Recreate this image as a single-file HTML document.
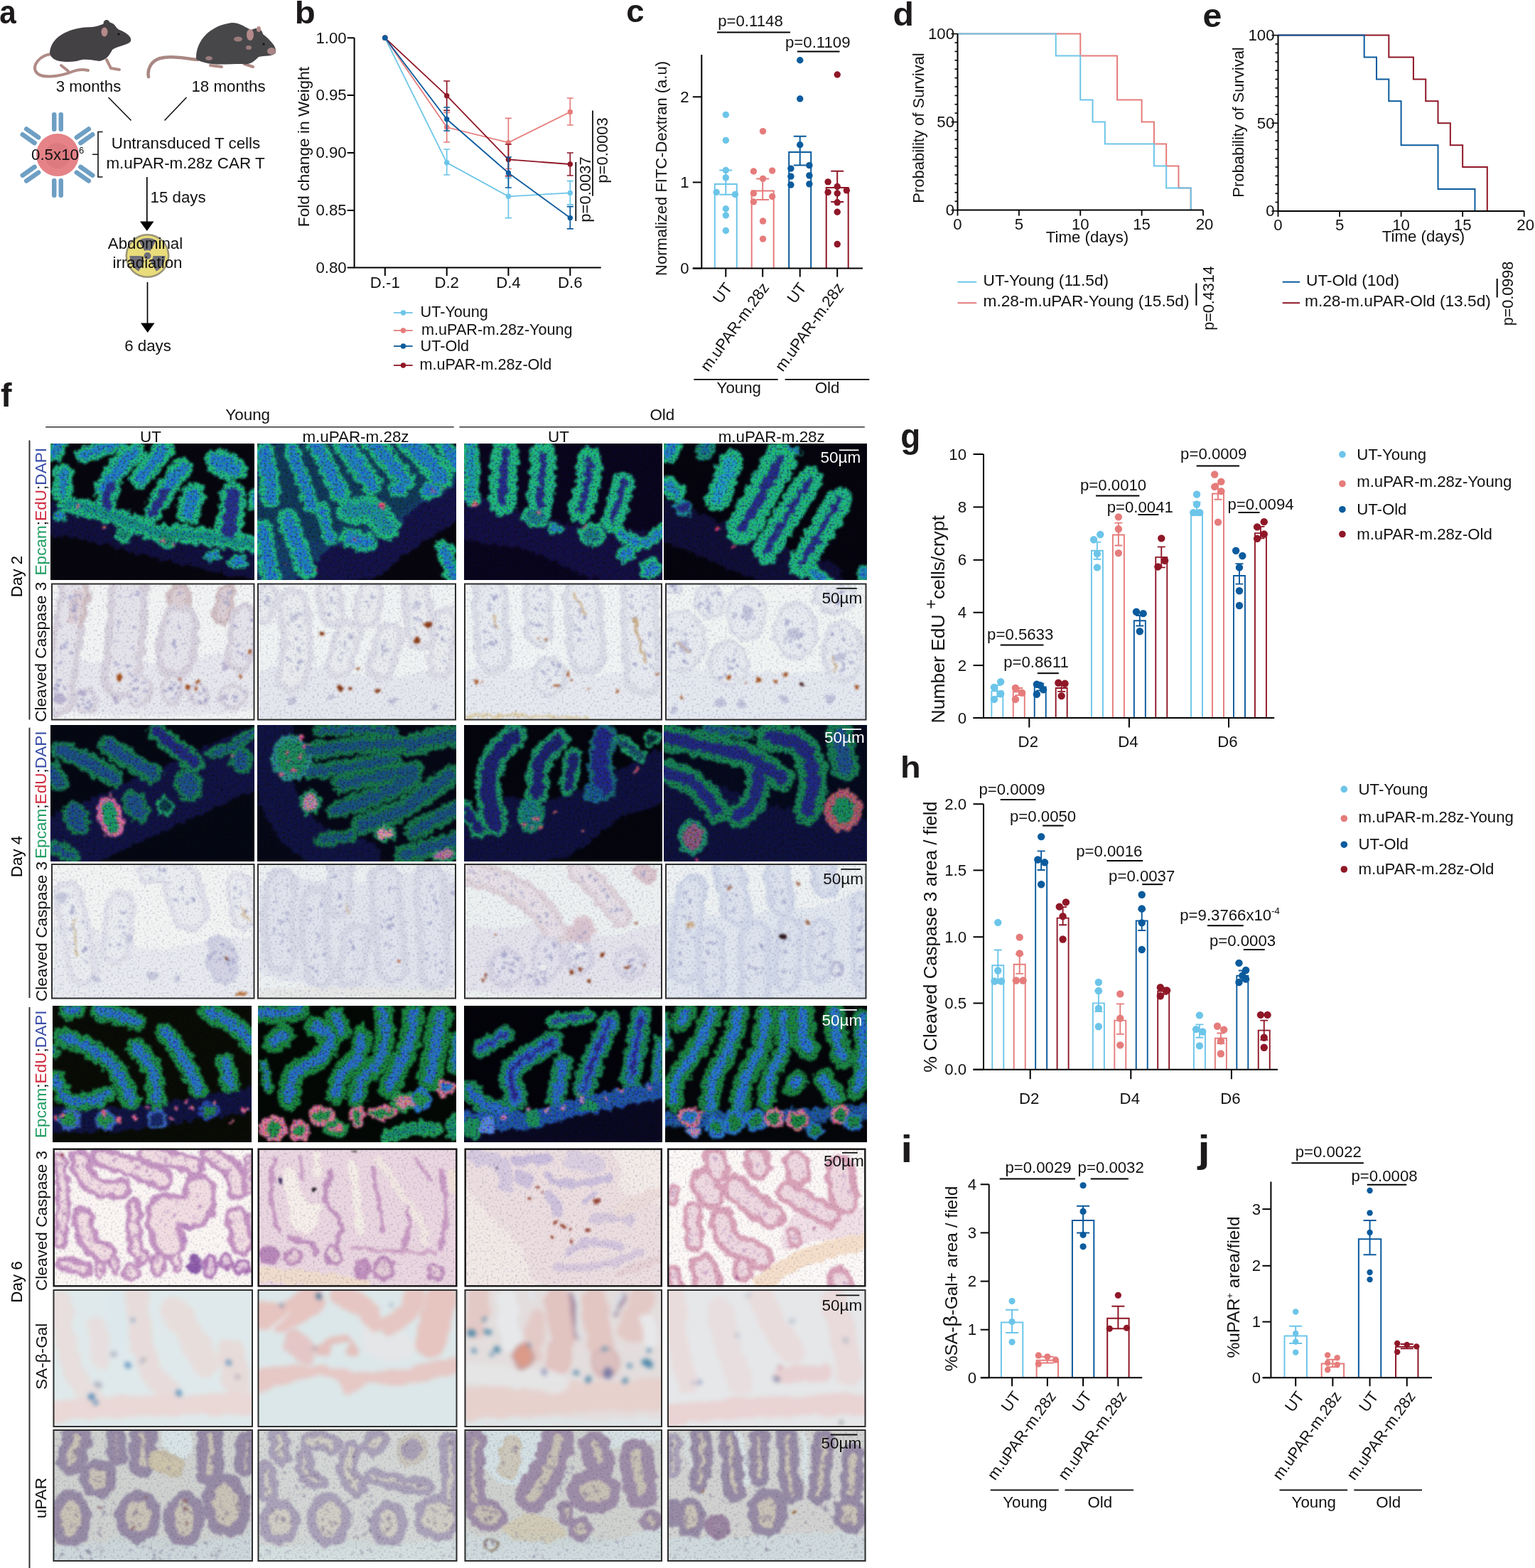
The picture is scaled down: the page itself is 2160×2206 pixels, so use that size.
<!DOCTYPE html>
<html lang="en"><head><meta charset="utf-8"><title>Figure</title>
<style>
html,body{margin:0;padding:0;background:#fff}
body{width:2160px;height:2206px;overflow:hidden}
svg{display:block;font-family:"Liberation Sans", sans-serif;font-size:22px;fill:#111}
svg text{white-space:pre}
</style></head><body>
<svg width="2160" height="2206" viewBox="0 0 2160 2206">
<defs>
<clipPath id="cp00"><rect x="0" y="0" width="287" height="192"/></clipPath>
<clipPath id="cp01"><rect x="0" y="0" width="280" height="192"/></clipPath>
<clipPath id="cp02"><rect x="0" y="0" width="279" height="192"/></clipPath>
<clipPath id="cp03"><rect x="0" y="0" width="286" height="192"/></clipPath>
<clipPath id="cp10"><rect x="0" y="0" width="286.5" height="193"/></clipPath>
<clipPath id="cp11"><rect x="0" y="0" width="280" height="193"/></clipPath>
<clipPath id="cp12"><rect x="0" y="0" width="279" height="193"/></clipPath>
<clipPath id="cp13"><rect x="0" y="0" width="283.5" height="193"/></clipPath>
<clipPath id="cp20"><rect x="0" y="0" width="287" height="192"/></clipPath>
<clipPath id="cp21"><rect x="0" y="0" width="280" height="192"/></clipPath>
<clipPath id="cp22"><rect x="0" y="0" width="279" height="192"/></clipPath>
<clipPath id="cp23"><rect x="0" y="0" width="286" height="192"/></clipPath>
<clipPath id="cp30"><rect x="0" y="0" width="286.5" height="190.5"/></clipPath>
<clipPath id="cp31"><rect x="0" y="0" width="280" height="190.5"/></clipPath>
<clipPath id="cp32"><rect x="0" y="0" width="279" height="190.5"/></clipPath>
<clipPath id="cp33"><rect x="0" y="0" width="283.5" height="190.5"/></clipPath>
<clipPath id="cp40"><rect x="0" y="0" width="280" height="192"/></clipPath>
<clipPath id="cp41"><rect x="0" y="0" width="279" height="192"/></clipPath>
<clipPath id="cp42"><rect x="0" y="0" width="279" height="192"/></clipPath>
<clipPath id="cp43"><rect x="0" y="0" width="284" height="192"/></clipPath>
<clipPath id="cp50"><rect x="0" y="0" width="281.5" height="195"/></clipPath>
<clipPath id="cp51"><rect x="0" y="0" width="281" height="195"/></clipPath>
<clipPath id="cp52"><rect x="0" y="0" width="278.5" height="195"/></clipPath>
<clipPath id="cp53"><rect x="0" y="0" width="279.5" height="195"/></clipPath>
<clipPath id="cp60"><rect x="0" y="0" width="281.5" height="194"/></clipPath>
<clipPath id="cp61"><rect x="0" y="0" width="281" height="194"/></clipPath>
<clipPath id="cp62"><rect x="0" y="0" width="278.5" height="194"/></clipPath>
<clipPath id="cp63"><rect x="0" y="0" width="279.5" height="194"/></clipPath>
<clipPath id="cp70"><rect x="0" y="0" width="281.5" height="186"/></clipPath>
<clipPath id="cp71"><rect x="0" y="0" width="281" height="186"/></clipPath>
<clipPath id="cp72"><rect x="0" y="0" width="278.5" height="186"/></clipPath>
<clipPath id="cp73"><rect x="0" y="0" width="279.5" height="186"/></clipPath>

<filter id="fIF" x="-5%" y="-5%" width="110%" height="110%" color-interpolation-filters="sRGB">
<feTurbulence type="fractalNoise" baseFrequency="0.11" numOctaves="2" seed="7" result="lf"/>
<feDisplacementMap in="SourceGraphic" in2="lf" scale="14" xChannelSelector="R" yChannelSelector="G" result="d"/>
<feGaussianBlur in="d" stdDeviation="1.5" result="b"/>
<feTurbulence type="fractalNoise" baseFrequency="0.3" numOctaves="2" seed="3" result="n"/>
<feColorMatrix in="n" type="matrix" values="1.4 0 0 0 0.25  0 1.5 0 0 0.2  0 0 1.5 0 0.2  0 0 0 0 1" result="ng"/>
<feComposite in="b" in2="ng" operator="arithmetic" k1="1" k2="0" k3="0" k4="0"/>
</filter>
<filter id="fIHC" x="-5%" y="-5%" width="110%" height="110%" color-interpolation-filters="sRGB">
<feTurbulence type="fractalNoise" baseFrequency="0.08" numOctaves="2" seed="5" result="lf"/>
<feDisplacementMap in="SourceGraphic" in2="lf" scale="12" xChannelSelector="R" yChannelSelector="G" result="d"/>
<feGaussianBlur in="d" stdDeviation="1.8" result="b"/>
<feTurbulence type="fractalNoise" baseFrequency="0.32" numOctaves="2" seed="9" result="n"/>
<feColorMatrix in="n" type="matrix" values="0.45 0 0 0 0.78  0.45 0 0 0 0.78  0.3 0 0 0 0.85  0 0 0 0 1" result="ng"/>
<feComposite in="b" in2="ng" operator="arithmetic" k1="1" k2="0" k3="0" k4="0"/>
</filter>
<filter id="fGAL" x="-5%" y="-5%" width="110%" height="110%" color-interpolation-filters="sRGB">
<feTurbulence type="fractalNoise" baseFrequency="0.05" numOctaves="2" seed="5" result="lf"/>
<feDisplacementMap in="SourceGraphic" in2="lf" scale="12" xChannelSelector="R" yChannelSelector="G" result="d"/>
<feGaussianBlur in="d" stdDeviation="3.2"/>
</filter>
<filter id="fSP" x="0" y="0" width="100%" height="100%" color-interpolation-filters="sRGB">
<feTurbulence type="fractalNoise" baseFrequency="0.33" numOctaves="2" seed="11" result="n"/>
<feColorMatrix in="n" type="matrix" values="0 0 0 0 0  0 0 0 0 0  0 0 0 0 0  0 3.2 0 0 -1.55" result="na"/>
<feComposite in="SourceGraphic" in2="na" operator="in"/>
</filter>

</defs>
<g transform="translate(71 624)" clip-path="url(#cp00)"><rect x="0" y="0" width="287" height="192" fill="#07060f"/><g filter="url(#fIF)"><g transform="scale(0.15074)" fill="none" stroke-linecap="round" stroke-linejoin="round"><rect x="-50" y="-50" width="2004" height="1373.76" fill="#07060f"/><path d="M0 700C67 710 250 727 400 760C550 793 733 858 900 900C1067 942 1233 973 1400 1010C1567 1047 1820 1102 1904 1120" stroke="#131244" stroke-width="300" opacity="0.95"/><path d="M40 80L90 -20" stroke="#22b587" stroke-width="170"/><path d="M300 110C330 100 423 70 480 50C537 30 613 0 640 -10" stroke="#22b587" stroke-width="150"/><path d="M500 420C523 387 592 277 640 220C688 163 765 103 790 80" stroke="#22b587" stroke-width="200"/><path d="M840 330C860 305 923 227 960 180C997 133 1043 72 1060 50" stroke="#22b587" stroke-width="200"/><path d="M1070 430L1230 230" stroke="#22b587" stroke-width="200"/><ellipse cx="1640" cy="200" rx="215" ry="130" fill="#22b587" stroke="none" transform="rotate(25 1640 200)"/><path d="M120 280L110 450" stroke="#22b587" stroke-width="190"/><path d="M530 650C528 628 513 562 520 520C527 478 562 420 570 400" stroke="#22b587" stroke-width="170"/><path d="M960 640L1060 460" stroke="#22b587" stroke-width="190"/><path d="M1290 640L1330 480" stroke="#22b587" stroke-width="230"/><path d="M1660 820C1665 790 1683 697 1690 640C1697 583 1698 507 1700 480" stroke="#22b587" stroke-width="250"/><path d="M1904 470L1900 560" stroke="#22b587" stroke-width="120"/><path d="M150 560C195 570 325 593 420 620C515 647 623 685 720 720C817 755 887 807 1000 830C1113 853 1249 842 1400 860C1551 878 1820 927 1904 940" stroke="#22b587" stroke-width="170"/><ellipse cx="690" cy="850" rx="80" ry="70" fill="#22b587" stroke="none"/><ellipse cx="1090" cy="900" rx="110" ry="80" fill="#22b587" stroke="none" transform="rotate(20 1090 900)"/><ellipse cx="1520" cy="1050" rx="80" ry="55" fill="#22b587" stroke="none"/><ellipse cx="1760" cy="1110" rx="100" ry="70" fill="#22b587" stroke="none"/><ellipse cx="90" cy="680" rx="70" ry="50" fill="#22b587" stroke="none"/><path d="M40 80L90 -20" stroke="#2382c6" stroke-width="80"/><path d="M300 110C330 100 423 70 480 50C537 30 613 0 640 -10" stroke="#2382c6" stroke-width="60"/><path d="M500 420C523 387 592 277 640 220C688 163 765 103 790 80" stroke="#2382c6" stroke-width="90"/><path d="M840 330C860 305 923 227 960 180C997 133 1043 72 1060 50" stroke="#2382c6" stroke-width="90"/><path d="M1070 430L1230 230" stroke="#2382c6" stroke-width="90"/><ellipse cx="1640" cy="200" rx="165" ry="80" fill="#2382c6" stroke="none" transform="rotate(25 1640 200)"/><path d="M120 280L110 450" stroke="#2382c6" stroke-width="80"/><path d="M530 650C528 628 513 562 520 520C527 478 562 420 570 400" stroke="#28348c" stroke-width="80"/><path d="M960 640L1060 460" stroke="#28348c" stroke-width="90"/><path d="M1290 640L1330 480" stroke="#2382c6" stroke-width="110"/><path d="M1660 820C1665 790 1683 697 1690 640C1697 583 1698 507 1700 480" stroke="#28348c" stroke-width="130"/><path d="M1904 470L1900 560" stroke="#2382c6" stroke-width="40"/><path d="M150 560C195 570 325 593 420 620C515 647 623 685 720 720C817 755 887 807 1000 830C1113 853 1249 842 1400 860C1551 878 1820 927 1904 940" stroke="#1a8f8a" stroke-width="70"/><ellipse cx="690" cy="850" rx="50" ry="40" fill="#1a8a70" stroke="none"/><ellipse cx="1090" cy="900" rx="80" ry="50" fill="#1a8a70" stroke="none" transform="rotate(20 1090 900)"/><ellipse cx="1520" cy="1050" rx="55" ry="30" fill="#2382c6" stroke="none"/><ellipse cx="1760" cy="1110" rx="70" ry="40" fill="#2382c6" stroke="none"/><ellipse cx="90" cy="680" rx="50" ry="30" fill="#2382c6" stroke="none"/><g fill="#e07a90" stroke="none"><circle cx="258" cy="590" r="16"/><circle cx="1040" cy="905" r="18"/><circle cx="1155" cy="940" r="18"/><circle cx="500" cy="790" r="14"/></g></g></g></g>
<g transform="translate(362 624)" clip-path="url(#cp01)"><rect x="0" y="0" width="280" height="192" fill="#07060f"/><g filter="url(#fIF)"><g transform="scale(0.14706)" fill="none" stroke-linecap="round" stroke-linejoin="round"><rect x="-50" y="-50" width="2004" height="1405.6" fill="#07060f"/><path d="M0 1303C-167 1244 -117 1014 0 950C117 886 483 962 700 920C917 878 1099 798 1300 700C1501 602 1803 327 1904 330C2005 333 1946 625 1904 720C1862 815 1751 828 1650 900C1549 972 1408 1083 1300 1150C1192 1217 1217 1278 1000 1303C783 1328 167 1362 0 1303Z" fill="#15144c" stroke="none"/><path d="M0 0C317 -217 1587 -63 1904 0C2221 63 1971 277 1904 380C1837 483 1617 533 1500 620C1383 707 1333 837 1200 900C1067 963 833 933 700 1000C567 1067 517 1252 400 1303C283 1354 67 1520 0 1303C-67 1086 -317 217 0 0Z" fill="#17507a" stroke="none" opacity="0.75"/><path d="M70 80C77 117 100 227 110 300C120 373 127 483 130 520" stroke="#22b587" stroke-width="190"/><path d="M330 60C347 105 398 240 430 330C462 420 505 555 520 600" stroke="#22b587" stroke-width="150"/><path d="M560 0C580 40 640 160 680 240C720 320 780 440 800 480" stroke="#22b587" stroke-width="180"/><path d="M820 0C843 33 913 133 960 200C1007 267 1077 367 1100 400" stroke="#22b587" stroke-width="200"/><path d="M1100 -20C1127 12 1207 107 1260 170C1313 233 1393 328 1420 360" stroke="#22b587" stroke-width="200"/><path d="M1450 -20C1478 8 1568 93 1620 150C1672 207 1737 292 1760 320" stroke="#22b587" stroke-width="230"/><path d="M1800 30L1904 200" stroke="#22b587" stroke-width="170"/><path d="M50 820C57 858 77 973 90 1050C103 1127 123 1242 130 1280" stroke="#22b587" stroke-width="190"/><path d="M290 720C305 760 350 880 380 960C410 1040 455 1160 470 1200" stroke="#22b587" stroke-width="200"/><path d="M620 620C627 647 647 733 660 780C673 827 693 880 700 900" stroke="#22b587" stroke-width="130"/><path d="M880 640C917 640 1040 613 1100 640C1160 667 1217 773 1240 800" stroke="#22b587" stroke-width="260"/><path d="M880 900L1050 950" stroke="#22b587" stroke-width="190"/><ellipse cx="1660" cy="450" rx="110" ry="90" fill="#22b587" stroke="none"/><ellipse cx="1350" cy="440" rx="100" ry="80" fill="#22b587" stroke="none"/><path d="M1790 1000C1800 1033 1832 1150 1850 1200C1868 1250 1892 1286 1900 1303" stroke="#22b587" stroke-width="170"/><path d="M70 80C77 117 100 227 110 300C120 373 127 483 130 520" stroke="#2382c6" stroke-width="110"/><path d="M330 60C347 105 398 240 430 330C462 420 505 555 520 600" stroke="#2382c6" stroke-width="80"/><path d="M560 0C580 40 640 160 680 240C720 320 780 440 800 480" stroke="#2382c6" stroke-width="100"/><path d="M820 0C843 33 913 133 960 200C1007 267 1077 367 1100 400" stroke="#2382c6" stroke-width="110"/><path d="M1100 -20C1127 12 1207 107 1260 170C1313 233 1393 328 1420 360" stroke="#2382c6" stroke-width="110"/><path d="M1450 -20C1478 8 1568 93 1620 150C1672 207 1737 292 1760 320" stroke="#2382c6" stroke-width="130"/><path d="M1800 30L1904 200" stroke="#2382c6" stroke-width="90"/><path d="M50 820C57 858 77 973 90 1050C103 1127 123 1242 130 1280" stroke="#2382c6" stroke-width="110"/><path d="M290 720C305 760 350 880 380 960C410 1040 455 1160 470 1200" stroke="#2382c6" stroke-width="110"/><path d="M620 620C627 647 647 733 660 780C673 827 693 880 700 900" stroke="#2382c6" stroke-width="60"/><path d="M880 640C917 640 1040 613 1100 640C1160 667 1217 773 1240 800" stroke="#2090a0" stroke-width="140"/><path d="M880 900L1050 950" stroke="#2382c6" stroke-width="100"/><ellipse cx="1660" cy="450" rx="80" ry="60" fill="#2382c6" stroke="none"/><ellipse cx="1350" cy="440" rx="70" ry="50" fill="#2382c6" stroke="none"/><path d="M1790 1000C1800 1033 1832 1150 1850 1200C1868 1250 1892 1286 1900 1303" stroke="#2382c6" stroke-width="80"/><g fill="#e8507a" stroke="none"><circle cx="1195" cy="600" r="22"/><circle cx="1690" cy="450" r="16"/><circle cx="1770" cy="430" r="14"/><circle cx="930" cy="910" r="14"/><circle cx="575" cy="1205" r="14"/><circle cx="260" cy="1135" r="12"/></g></g></g></g>
<g transform="translate(653 624)" clip-path="url(#cp02)"><rect x="0" y="0" width="279" height="192" fill="#0a0520"/><g filter="url(#fIF)"><g transform="scale(0.14653)" fill="none" stroke-linecap="round" stroke-linejoin="round"><rect x="-50" y="-50" width="2004" height="1410.28" fill="#0a0520"/><path d="M0 480C83 438 333 603 500 650C667 697 766 718 1000 760C1234 802 1753 808 1904 900C2055 992 2005 1243 1904 1312C1803 1381 1517 1361 1300 1312C1083 1263 817 1089 600 1020C383 951 100 990 0 900C-100 810 -83 522 0 480Z" fill="#151046" stroke="none"/><path d="M70 520C70 477 72 347 70 260C68 173 62 43 60 0" stroke="#22b587" stroke-width="170"/><path d="M370 560C372 517 375 382 380 300C385 218 397 108 400 70" stroke="#22b587" stroke-width="270"/><path d="M730 600C733 558 745 432 750 350C755 268 758 150 760 110" stroke="#22b587" stroke-width="250"/><path d="M1120 640C1130 600 1165 480 1180 400C1195 320 1205 200 1210 160" stroke="#22b587" stroke-width="250"/><path d="M1420 740C1432 707 1472 602 1490 540C1508 478 1523 398 1530 370" stroke="#22b587" stroke-width="220"/><path d="M1500 860C1533 877 1633 963 1700 960C1767 957 1870 860 1904 840" stroke="#22b587" stroke-width="140"/><ellipse cx="690" cy="700" rx="140" ry="110" fill="#22b587" stroke="none"/><ellipse cx="1230" cy="880" rx="130" ry="110" fill="#22b587" stroke="none"/><ellipse cx="880" cy="820" rx="70" ry="60" fill="#22b587" stroke="none"/><ellipse cx="1560" cy="1060" rx="90" ry="90" fill="#22b587" stroke="none"/><ellipse cx="1800" cy="1200" rx="110" ry="100" fill="#22b587" stroke="none"/><path d="M70 520C70 477 72 347 70 260C68 173 62 43 60 0" stroke="#1f9ab0" stroke-width="70"/><path d="M370 560C372 517 375 382 380 300C385 218 397 108 400 70" stroke="#27308a" stroke-width="70"/><path d="M730 600C733 558 745 432 750 350C755 268 758 150 760 110" stroke="#27308a" stroke-width="60"/><path d="M1120 640C1130 600 1165 480 1180 400C1195 320 1205 200 1210 160" stroke="#27308a" stroke-width="60"/><path d="M1420 740C1432 707 1472 602 1490 540C1508 478 1523 398 1530 370" stroke="#27308a" stroke-width="50"/><path d="M1500 860C1533 877 1633 963 1700 960C1767 957 1870 860 1904 840" stroke="#2382c6" stroke-width="50"/><ellipse cx="690" cy="700" rx="95" ry="65" fill="#1e7a8a" stroke="none"/><ellipse cx="1230" cy="880" rx="85" ry="65" fill="#1e7a8a" stroke="none"/><ellipse cx="880" cy="820" rx="45" ry="35" fill="#2382c6" stroke="none"/><ellipse cx="1560" cy="1060" rx="55" ry="55" fill="#2382c6" stroke="none"/><ellipse cx="1800" cy="1200" rx="70" ry="60" fill="#2382c6" stroke="none"/><g fill="#e8708a" stroke="none"><circle cx="105" cy="580" r="25"/><circle cx="720" cy="665" r="22"/><circle cx="1150" cy="790" r="14"/></g></g></g></g>
<g transform="translate(934 624)" clip-path="url(#cp03)"><rect x="0" y="0" width="286" height="192" fill="#05040f"/><g filter="url(#fIF)"><g transform="scale(0.15021)" fill="none" stroke-linecap="round" stroke-linejoin="round"><rect x="-50" y="-50" width="2004" height="1378.21" fill="#05040f"/><path d="M0 720C100 760 400 880 600 960C800 1040 1050 1143 1200 1200C1350 1257 1450 1283 1500 1300" stroke="#12103e" stroke-width="380" opacity="0.95"/><path d="M40 90L90 0" stroke="#22b587" stroke-width="190"/><path d="M380 70L420 0" stroke="#1a8a78" stroke-width="170"/><path d="M500 520C512 488 548 388 570 330C592 272 620 197 630 170" stroke="#22b587" stroke-width="230"/><path d="M740 790C772 733 872 557 930 450C988 343 1063 200 1090 150" stroke="#22b587" stroke-width="310"/><path d="M960 1000C997 940 1112 750 1180 640C1248 530 1338 390 1370 340" stroke="#22b587" stroke-width="250"/><path d="M1290 1130C1322 1075 1422 900 1480 800C1538 700 1613 575 1640 530" stroke="#22b587" stroke-width="250"/><path d="M30 380L120 460" stroke="#22b587" stroke-width="170"/><ellipse cx="180" cy="600" rx="90" ry="80" fill="#1e8a9a" stroke="none"/><ellipse cx="1220" cy="60" rx="80" ry="28" fill="#22b587" stroke="none" transform="rotate(30 1220 60)"/><path d="M1400 1210L1520 1300" stroke="#22b587" stroke-width="150"/><ellipse cx="1880" cy="1220" rx="70" ry="90" fill="#22b587" stroke="none"/><path d="M40 90L90 0" stroke="#2382c6" stroke-width="90"/><path d="M380 70L420 0" stroke="#1a6a98" stroke-width="70"/><path d="M500 520C512 488 548 388 570 330C592 272 620 197 630 170" stroke="#22a0c0" stroke-width="110"/><path d="M740 790C772 733 872 557 930 450C988 343 1063 200 1090 150" stroke="#27308a" stroke-width="80"/><path d="M960 1000C997 940 1112 750 1180 640C1248 530 1338 390 1370 340" stroke="#27308a" stroke-width="60"/><path d="M1290 1130C1322 1075 1422 900 1480 800C1538 700 1613 575 1640 530" stroke="#27308a" stroke-width="60"/><path d="M30 380L120 460" stroke="#2382c6" stroke-width="70"/><ellipse cx="180" cy="600" rx="60" ry="50" fill="#27308a" stroke="none"/><ellipse cx="1220" cy="60" rx="70" ry="18" fill="#2382c6" stroke="none" transform="rotate(30 1220 60)"/><path d="M1400 1210L1520 1300" stroke="#2382c6" stroke-width="60"/><ellipse cx="1880" cy="1220" rx="40" ry="60" fill="#2382c6" stroke="none"/><g fill="#e8507a" stroke="none"><circle cx="500" cy="810" r="20"/><circle cx="655" cy="960" r="20"/></g></g></g></g>
<g transform="translate(72 820.5)" clip-path="url(#cp10)"><rect x="0" y="0" width="286.5" height="193" fill="#f2f4f4"/><g filter="url(#fIHC)"><g transform="scale(0.15047)" fill="none" stroke-linecap="round" stroke-linejoin="round"><rect x="-50" y="-50" width="2004" height="1382.62" fill="#f2f4f4"/><path d="M0 700C100 630 383 760 600 760C817 760 1083 718 1300 700C1517 682 1803 570 1904 650C2005 730 2221 1092 1904 1180C1587 1268 317 1260 0 1180C-317 1100 -100 770 0 700Z" fill="#e7e7ee" stroke="none"/><path d="M220 90C210 142 178 285 160 400C142 515 125 663 110 780C95 897 77 1047 70 1100" stroke="#d6d1dc" stroke-width="300"/><path d="M250 100L200 330" stroke="#d0bfc2" stroke-width="220"/><path d="M720 60C717 130 712 340 700 480C688 620 658 830 650 900" stroke="#d6d1dc" stroke-width="380"/><path d="M1200 90L1190 170" stroke="#d0bfc2" stroke-width="230"/><path d="M1200 380L1160 700" stroke="#d6d1dc" stroke-width="380"/><path d="M1640 80L1600 300" stroke="#d0bfc2" stroke-width="190"/><path d="M1810 320L1760 700" stroke="#d6d1dc" stroke-width="280"/><ellipse cx="820" cy="1000" rx="130" ry="160" fill="#d6d1dc" stroke="none"/><ellipse cx="1130" cy="1000" rx="110" ry="150" fill="#d6d1dc" stroke="none"/><ellipse cx="1370" cy="1040" rx="110" ry="110" fill="#d6d1dc" stroke="none"/><ellipse cx="330" cy="1100" rx="120" ry="120" fill="#d6d1dc" stroke="none"/><ellipse cx="1700" cy="1060" rx="140" ry="130" fill="#d6d1dc" stroke="none"/><path d="M220 90C210 142 178 285 160 400C142 515 125 663 110 780C95 897 77 1047 70 1100" stroke="#e5e3ea" stroke-width="180"/><path d="M250 100L200 330" stroke="#dccfd4" stroke-width="100"/><path d="M720 60C717 130 712 340 700 480C688 620 658 830 650 900" stroke="#e5e3ea" stroke-width="240"/><path d="M1200 90L1190 170" stroke="#dccfd4" stroke-width="110"/><path d="M1200 380L1160 700" stroke="#e5e3ea" stroke-width="240"/><path d="M1640 80L1600 300" stroke="#dccfd4" stroke-width="90"/><path d="M1810 320L1760 700" stroke="#e5e3ea" stroke-width="160"/><ellipse cx="820" cy="1000" rx="90" ry="120" fill="#e5e3ea" stroke="none"/><ellipse cx="1130" cy="1000" rx="70" ry="110" fill="#e5e3ea" stroke="none"/><ellipse cx="1370" cy="1040" rx="70" ry="70" fill="#e5e3ea" stroke="none"/><ellipse cx="330" cy="1100" rx="80" ry="80" fill="#e5e3ea" stroke="none"/><ellipse cx="1700" cy="1060" rx="100" ry="90" fill="#e5e3ea" stroke="none"/><g fill="#9a9cc6" stroke="none" opacity="0.8"><circle cx="209" cy="178" r="14"/><circle cx="214" cy="121" r="16"/><circle cx="183" cy="264" r="15"/><circle cx="226" cy="236" r="16"/><circle cx="152" cy="131" r="16"/><circle cx="185" cy="259" r="10"/><circle cx="169" cy="136" r="15"/><circle cx="183" cy="644" r="15"/><circle cx="55" cy="769" r="14"/><circle cx="149" cy="571" r="11"/><circle cx="88" cy="406" r="13"/><circle cx="143" cy="548" r="17"/><circle cx="86" cy="744" r="15"/><circle cx="111" cy="597" r="15"/><circle cx="194" cy="661" r="13"/><circle cx="61" cy="964" r="16"/><circle cx="91" cy="1032" r="13"/><circle cx="40" cy="1025" r="12"/><circle cx="77" cy="905" r="13"/><circle cx="30" cy="987" r="13"/><circle cx="132" cy="971" r="15"/><circle cx="66" cy="1002" r="12"/><circle cx="266" cy="125" r="12"/><circle cx="205" cy="275" r="16"/><circle cx="223" cy="318" r="11"/><circle cx="220" cy="268" r="16"/><circle cx="250" cy="208" r="16"/><circle cx="645" cy="370" r="15"/><circle cx="625" cy="456" r="10"/><circle cx="811" cy="97" r="15"/><circle cx="668" cy="267" r="10"/><circle cx="640" cy="130" r="14"/><circle cx="793" cy="128" r="15"/><circle cx="781" cy="416" r="17"/><circle cx="740" cy="112" r="14"/><circle cx="628" cy="398" r="10"/><circle cx="760" cy="595" r="10"/><circle cx="738" cy="770" r="13"/><circle cx="610" cy="759" r="14"/><circle cx="635" cy="767" r="11"/><circle cx="597" cy="563" r="12"/><circle cx="744" cy="872" r="12"/><circle cx="720" cy="769" r="17"/><circle cx="593" cy="734" r="14"/><circle cx="731" cy="848" r="12"/><circle cx="1208" cy="111" r="11"/><circle cx="1198" cy="101" r="16"/><circle cx="1145" cy="582" r="16"/><circle cx="1163" cy="564" r="14"/><circle cx="1246" cy="557" r="10"/><circle cx="1172" cy="653" r="15"/><circle cx="1198" cy="397" r="16"/><circle cx="1106" cy="372" r="12"/><circle cx="1154" cy="542" r="14"/><circle cx="1595" cy="144" r="12"/><circle cx="1676" cy="87" r="17"/><circle cx="1642" cy="135" r="14"/><circle cx="1631" cy="196" r="15"/><circle cx="1646" cy="212" r="15"/><circle cx="1743" cy="582" r="15"/><circle cx="1868" cy="337" r="16"/><circle cx="1732" cy="404" r="17"/><circle cx="1740" cy="643" r="10"/><circle cx="1781" cy="643" r="16"/><circle cx="1822" cy="681" r="12"/><circle cx="1840" cy="430" r="16"/><circle cx="1766" cy="579" r="15"/><circle cx="806" cy="993" r="14"/><circle cx="788" cy="920" r="15"/><circle cx="805" cy="1077" r="15"/><circle cx="735" cy="1049" r="12"/><circle cx="772" cy="993" r="16"/><circle cx="864" cy="925" r="15"/><circle cx="758" cy="952" r="12"/><circle cx="864" cy="1029" r="17"/><circle cx="877" cy="1032" r="11"/><circle cx="892" cy="1015" r="15"/><circle cx="1128" cy="1072" r="14"/><circle cx="1068" cy="1007" r="15"/><circle cx="1141" cy="930" r="16"/><circle cx="1193" cy="985" r="12"/><circle cx="1158" cy="1073" r="15"/><circle cx="1208" cy="990" r="13"/><circle cx="1179" cy="1038" r="14"/><circle cx="1117" cy="972" r="14"/><circle cx="1122" cy="988" r="10"/><circle cx="1316" cy="1060" r="15"/><circle cx="1406" cy="1111" r="11"/><circle cx="1397" cy="1036" r="14"/><circle cx="1388" cy="1022" r="12"/><circle cx="1426" cy="1007" r="15"/><circle cx="1435" cy="1080" r="13"/><circle cx="1391" cy="1107" r="13"/><circle cx="358" cy="1028" r="10"/><circle cx="330" cy="1163" r="11"/><circle cx="361" cy="1152" r="16"/><circle cx="341" cy="1121" r="15"/><circle cx="297" cy="1126" r="14"/><circle cx="392" cy="1096" r="13"/><circle cx="253" cy="1132" r="15"/><circle cx="302" cy="1085" r="15"/><circle cx="1736" cy="1095" r="11"/><circle cx="1706" cy="1084" r="11"/><circle cx="1705" cy="1045" r="13"/><circle cx="1717" cy="1064" r="12"/><circle cx="1650" cy="1136" r="12"/><circle cx="1786" cy="1005" r="13"/><circle cx="1609" cy="1077" r="16"/><circle cx="1735" cy="1059" r="12"/><circle cx="1642" cy="1039" r="12"/></g><g fill="#b9b2cf" stroke="none"><circle cx="80" cy="1080" r="55"/><circle cx="280" cy="1020" r="40"/><circle cx="1610" cy="780" r="30"/><circle cx="600" cy="1090" r="30"/><circle cx="1620" cy="1080" r="30"/></g><g fill="#a4501e" stroke="none"><circle cx="635" cy="875" r="30"/><circle cx="1280" cy="970" r="18"/><circle cx="1375" cy="930" r="16"/><circle cx="1355" cy="985" r="14"/><circle cx="1770" cy="865" r="20"/><circle cx="1850" cy="650" r="20"/><circle cx="1200" cy="895" r="12"/></g></g></g></g>
<rect x="73" y="821.5" width="284.5" height="191" fill="none" stroke="#2e2e2e" stroke-width="2"/>
<g transform="translate(362 820.5)" clip-path="url(#cp11)"><rect x="0" y="0" width="280" height="193" fill="#f0f3f3"/><g filter="url(#fIHC)"><g transform="scale(0.14706)" fill="none" stroke-linecap="round" stroke-linejoin="round"><rect x="-50" y="-50" width="2004" height="1412.4" fill="#f0f3f3"/><path d="M0 850C100 767 383 812 600 820C817 828 1083 903 1300 900C1517 897 1803 730 1904 800C2005 870 2221 1233 1904 1320C1587 1407 317 1398 0 1320C-317 1242 -100 933 0 850Z" fill="#e5e7ee" stroke="none"/><path d="M100 80L60 300" stroke="#dcdce6" stroke-width="200"/><path d="M340 200C347 267 382 483 380 600C378 717 338 850 330 900" stroke="#dcdce6" stroke-width="330"/><path d="M680 60L720 300" stroke="#dcdce6" stroke-width="260"/><path d="M1080 100L1050 300" stroke="#dcdce6" stroke-width="280"/><path d="M880 480L780 780" stroke="#dcdce6" stroke-width="280"/><path d="M1260 500L1180 800" stroke="#dcdce6" stroke-width="280"/><path d="M1520 80L1560 500" stroke="#dcdce6" stroke-width="300"/><path d="M1800 350L1750 800" stroke="#dcdce6" stroke-width="260"/><path d="M100 80L60 300" stroke="#e9ebee" stroke-width="100"/><path d="M340 200C347 267 382 483 380 600C378 717 338 850 330 900" stroke="#e9ebee" stroke-width="190"/><path d="M680 60L720 300" stroke="#e9ebee" stroke-width="140"/><path d="M1080 100L1050 300" stroke="#e9ebee" stroke-width="160"/><path d="M880 480L780 780" stroke="#e9ebee" stroke-width="160"/><path d="M1260 500L1180 800" stroke="#e9ebee" stroke-width="160"/><path d="M1520 80L1560 500" stroke="#e9ebee" stroke-width="160"/><path d="M1800 350L1750 800" stroke="#e9ebee" stroke-width="140"/><g fill="#9a9cc6" stroke="none" opacity="0.8"><circle cx="89" cy="142" r="14"/><circle cx="74" cy="180" r="13"/><circle cx="104" cy="198" r="11"/><circle cx="67" cy="132" r="10"/><circle cx="92" cy="159" r="14"/><circle cx="301" cy="379" r="16"/><circle cx="410" cy="423" r="16"/><circle cx="380" cy="542" r="15"/><circle cx="304" cy="561" r="11"/><circle cx="301" cy="292" r="12"/><circle cx="423" cy="303" r="15"/><circle cx="402" cy="290" r="14"/><circle cx="298" cy="238" r="10"/><circle cx="437" cy="583" r="11"/><circle cx="315" cy="732" r="13"/><circle cx="385" cy="819" r="16"/><circle cx="384" cy="663" r="15"/><circle cx="430" cy="729" r="15"/><circle cx="390" cy="629" r="12"/><circle cx="413" cy="756" r="16"/><circle cx="332" cy="843" r="12"/><circle cx="723" cy="148" r="13"/><circle cx="671" cy="182" r="10"/><circle cx="671" cy="292" r="14"/><circle cx="749" cy="184" r="11"/><circle cx="727" cy="63" r="15"/><circle cx="665" cy="111" r="15"/><circle cx="1044" cy="179" r="14"/><circle cx="1049" cy="222" r="14"/><circle cx="1010" cy="121" r="11"/><circle cx="1111" cy="132" r="16"/><circle cx="986" cy="286" r="11"/><circle cx="809" cy="584" r="11"/><circle cx="830" cy="601" r="12"/><circle cx="853" cy="571" r="11"/><circle cx="794" cy="749" r="11"/><circle cx="848" cy="634" r="14"/><circle cx="890" cy="506" r="10"/><circle cx="822" cy="659" r="15"/><circle cx="1207" cy="689" r="14"/><circle cx="1231" cy="595" r="13"/><circle cx="1235" cy="639" r="10"/><circle cx="1234" cy="558" r="11"/><circle cx="1190" cy="600" r="13"/><circle cx="1220" cy="738" r="10"/><circle cx="1191" cy="624" r="13"/><circle cx="1486" cy="236" r="12"/><circle cx="1527" cy="475" r="11"/><circle cx="1526" cy="350" r="14"/><circle cx="1562" cy="366" r="15"/><circle cx="1506" cy="335" r="15"/><circle cx="1540" cy="334" r="11"/><circle cx="1525" cy="119" r="13"/><circle cx="1535" cy="236" r="16"/><circle cx="1502" cy="447" r="11"/><circle cx="1748" cy="441" r="16"/><circle cx="1757" cy="440" r="10"/><circle cx="1765" cy="524" r="13"/><circle cx="1791" cy="738" r="11"/><circle cx="1805" cy="550" r="15"/><circle cx="1811" cy="664" r="11"/><circle cx="1743" cy="372" r="12"/><circle cx="1815" cy="432" r="13"/><circle cx="1768" cy="419" r="13"/><circle cx="1729" cy="498" r="14"/></g><g fill="#c3c3d8" stroke="none"><circle cx="350" cy="330" r="40"/><circle cx="1520" cy="200" r="35"/><circle cx="900" cy="500" r="30"/><circle cx="1230" cy="650" r="30"/><circle cx="330" cy="1130" r="40"/><circle cx="1300" cy="1130" r="35"/><circle cx="1700" cy="1180" r="35"/><circle cx="700" cy="1100" r="30"/></g><g fill="#8a3c1a" stroke="none"><circle cx="625" cy="475" r="28"/><circle cx="1630" cy="400" r="24"/><circle cx="1530" cy="540" r="30"/><circle cx="945" cy="815" r="14"/><circle cx="800" cy="1010" r="26"/><circle cx="885" cy="1025" r="18"/><circle cx="1155" cy="1025" r="20"/></g></g></g></g>
<rect x="363" y="821.5" width="278" height="191" fill="none" stroke="#2e2e2e" stroke-width="2"/>
<g transform="translate(653 820.5)" clip-path="url(#cp12)"><rect x="0" y="0" width="279" height="193" fill="#f1f4f4"/><g filter="url(#fIHC)"><g transform="scale(0.14653)" fill="none" stroke-linecap="round" stroke-linejoin="round"><rect x="-50" y="-50" width="2004" height="1417.1" fill="#f1f4f4"/><path d="M0 850C100 768 383 825 600 830C817 835 1083 882 1300 880C1517 878 1803 747 1904 820C2005 893 2221 1237 1904 1320C1587 1403 317 1398 0 1320C-317 1242 -100 932 0 850Z" fill="#e6e9ef" stroke="none"/><path d="M0 1278C67 1277 250 1268 400 1270C550 1272 767 1285 900 1290C1033 1295 1150 1298 1200 1300" stroke="#d9cba4" stroke-width="32" opacity="0.9"/><path d="M250 120C252 167 255 303 260 400C265 497 277 650 280 700" stroke="#dadde6" stroke-width="360"/><path d="M700 60C702 100 707 230 710 300C713 370 718 450 720 480" stroke="#dadde6" stroke-width="290"/><path d="M1130 100C1135 150 1152 300 1160 400C1168 500 1177 650 1180 700" stroke="#dadde6" stroke-width="380"/><path d="M1680 100C1683 167 1693 367 1700 500C1707 633 1717 833 1720 900" stroke="#dadde6" stroke-width="380"/><ellipse cx="820" cy="900" rx="170" ry="200" fill="#dadde6" stroke="none"/><path d="M250 120C252 167 255 303 260 400C265 497 277 650 280 700" stroke="#e7eaef" stroke-width="220"/><path d="M700 60C702 100 707 230 710 300C713 370 718 450 720 480" stroke="#e7eaef" stroke-width="170"/><path d="M1130 100C1135 150 1152 300 1160 400C1168 500 1177 650 1180 700" stroke="#e7eaef" stroke-width="240"/><path d="M1680 100C1683 167 1693 367 1700 500C1707 633 1717 833 1720 900" stroke="#e7eaef" stroke-width="240"/><ellipse cx="820" cy="900" rx="120" ry="150" fill="#e7eaef" stroke="none"/><g fill="#9a9cc6" stroke="none" opacity="0.8"><circle cx="266" cy="218" r="13"/><circle cx="251" cy="216" r="13"/><circle cx="265" cy="131" r="10"/><circle cx="295" cy="147" r="17"/><circle cx="246" cy="255" r="16"/><circle cx="247" cy="372" r="11"/><circle cx="296" cy="555" r="17"/><circle cx="284" cy="408" r="15"/><circle cx="261" cy="581" r="15"/><circle cx="202" cy="476" r="16"/><circle cx="291" cy="409" r="12"/><circle cx="260" cy="516" r="12"/><circle cx="203" cy="599" r="16"/><circle cx="749" cy="261" r="15"/><circle cx="693" cy="246" r="15"/><circle cx="664" cy="130" r="11"/><circle cx="740" cy="192" r="14"/><circle cx="727" cy="69" r="15"/><circle cx="670" cy="124" r="15"/><circle cx="698" cy="410" r="11"/><circle cx="649" cy="391" r="17"/><circle cx="724" cy="400" r="17"/><circle cx="672" cy="401" r="10"/><circle cx="1075" cy="186" r="14"/><circle cx="1166" cy="333" r="16"/><circle cx="1178" cy="105" r="14"/><circle cx="1111" cy="259" r="13"/><circle cx="1091" cy="318" r="12"/><circle cx="1182" cy="102" r="12"/><circle cx="1068" cy="407" r="15"/><circle cx="1079" cy="459" r="11"/><circle cx="1105" cy="445" r="12"/><circle cx="1215" cy="515" r="10"/><circle cx="1250" cy="431" r="10"/><circle cx="1225" cy="408" r="13"/><circle cx="1113" cy="551" r="15"/><circle cx="1158" cy="559" r="10"/><circle cx="1614" cy="133" r="16"/><circle cx="1613" cy="239" r="16"/><circle cx="1773" cy="189" r="11"/><circle cx="1772" cy="131" r="14"/><circle cx="1605" cy="200" r="14"/><circle cx="1638" cy="323" r="14"/><circle cx="1784" cy="492" r="13"/><circle cx="1600" cy="327" r="13"/><circle cx="1727" cy="240" r="16"/><circle cx="1782" cy="692" r="17"/><circle cx="1710" cy="546" r="15"/><circle cx="1730" cy="829" r="14"/><circle cx="1803" cy="801" r="15"/><circle cx="1718" cy="813" r="11"/><circle cx="1645" cy="601" r="11"/><circle cx="1781" cy="505" r="13"/><circle cx="1754" cy="682" r="14"/><circle cx="1630" cy="782" r="17"/><circle cx="854" cy="1001" r="10"/><circle cx="814" cy="982" r="10"/><circle cx="846" cy="769" r="15"/><circle cx="758" cy="848" r="15"/><circle cx="765" cy="865" r="15"/><circle cx="899" cy="831" r="10"/><circle cx="888" cy="868" r="12"/><circle cx="893" cy="874" r="12"/><circle cx="913" cy="989" r="16"/><circle cx="818" cy="833" r="12"/><circle cx="899" cy="795" r="14"/><circle cx="815" cy="947" r="11"/></g><path d="M290 310L310 420" stroke="#cdb48e" stroke-width="22" opacity="0.9"/><path d="M1060 90C1072 115 1110 203 1130 240C1150 277 1172 298 1180 310" stroke="#c9ae86" stroke-width="20" opacity="0.9"/><path d="M1630 340C1638 377 1660 490 1680 560C1700 630 1738 727 1750 760" stroke="#c4a274" stroke-width="26" opacity="0.9"/><g fill="#a4501e" stroke="none"><circle cx="110" cy="945" r="26"/><circle cx="180" cy="950" r="12"/><circle cx="1000" cy="870" r="16"/><circle cx="1035" cy="930" r="18"/><circle cx="890" cy="990" r="16"/><circle cx="1200" cy="1015" r="16"/><circle cx="1470" cy="1040" r="18"/><circle cx="1860" cy="870" r="14"/><circle cx="720" cy="520" r="12"/><circle cx="800" cy="535" r="12"/></g></g></g></g>
<rect x="654" y="821.5" width="277" height="191" fill="none" stroke="#2e2e2e" stroke-width="2"/>
<g transform="translate(936 820.5)" clip-path="url(#cp13)"><rect x="0" y="0" width="283.5" height="193" fill="#f1f4f3"/><g filter="url(#fIHC)"><g transform="scale(0.14890)" fill="none" stroke-linecap="round" stroke-linejoin="round"><rect x="-50" y="-50" width="2004" height="1396.2" fill="#f1f4f3"/><path d="M0 880C83 798 283 825 500 820C717 815 1066 857 1300 850C1534 843 1803 703 1904 780C2005 857 2221 1222 1904 1310C1587 1398 317 1382 0 1310C-317 1238 -83 962 0 880Z" fill="#e4e8ef" stroke="none"/><ellipse cx="420" cy="170" rx="150" ry="175" fill="#dadde6" stroke="none"/><ellipse cx="770" cy="280" rx="200" ry="265" fill="#dadde6" stroke="none"/><ellipse cx="1230" cy="450" rx="220" ry="280" fill="#dadde6" stroke="none"/><ellipse cx="150" cy="550" rx="250" ry="300" fill="#dadde6" stroke="none"/><ellipse cx="600" cy="760" rx="200" ry="220" fill="#dadde6" stroke="none"/><ellipse cx="1680" cy="650" rx="200" ry="300" fill="#dadde6" stroke="none"/><ellipse cx="1600" cy="120" rx="210" ry="170" fill="#dadde6" stroke="none"/><ellipse cx="70" cy="40" rx="110" ry="70" fill="#dadde6" stroke="none"/><ellipse cx="420" cy="170" rx="115" ry="140" fill="#e7eaef" stroke="none"/><ellipse cx="770" cy="280" rx="160" ry="225" fill="#e7eaef" stroke="none"/><ellipse cx="1230" cy="450" rx="180" ry="240" fill="#e7eaef" stroke="none"/><ellipse cx="150" cy="550" rx="210" ry="260" fill="#e7eaef" stroke="none"/><ellipse cx="600" cy="760" rx="160" ry="180" fill="#e7eaef" stroke="none"/><ellipse cx="1680" cy="650" rx="160" ry="260" fill="#e7eaef" stroke="none"/><ellipse cx="1600" cy="120" rx="170" ry="130" fill="#e7eaef" stroke="none"/><ellipse cx="70" cy="40" rx="80" ry="40" fill="#e7eaef" stroke="none"/><g fill="#9a9cc6" stroke="none" opacity="0.8"><circle cx="408" cy="243" r="14"/><circle cx="350" cy="190" r="13"/><circle cx="386" cy="165" r="11"/><circle cx="417" cy="276" r="10"/><circle cx="386" cy="222" r="14"/><circle cx="330" cy="217" r="16"/><circle cx="388" cy="153" r="16"/><circle cx="457" cy="115" r="15"/><circle cx="501" cy="87" r="11"/><circle cx="439" cy="277" r="12"/><circle cx="417" cy="193" r="15"/><circle cx="773" cy="336" r="14"/><circle cx="875" cy="362" r="10"/><circle cx="807" cy="271" r="11"/><circle cx="654" cy="317" r="13"/><circle cx="757" cy="214" r="16"/><circle cx="791" cy="373" r="15"/><circle cx="748" cy="303" r="15"/><circle cx="832" cy="332" r="12"/><circle cx="732" cy="283" r="16"/><circle cx="805" cy="168" r="12"/><circle cx="730" cy="327" r="13"/><circle cx="653" cy="291" r="10"/><circle cx="895" cy="206" r="14"/><circle cx="740" cy="268" r="11"/><circle cx="803" cy="293" r="15"/><circle cx="1269" cy="596" r="15"/><circle cx="1127" cy="527" r="14"/><circle cx="1152" cy="358" r="14"/><circle cx="1322" cy="623" r="11"/><circle cx="1267" cy="503" r="16"/><circle cx="1392" cy="421" r="11"/><circle cx="1133" cy="560" r="11"/><circle cx="1142" cy="519" r="12"/><circle cx="1203" cy="559" r="11"/><circle cx="1300" cy="379" r="11"/><circle cx="1156" cy="453" r="14"/><circle cx="1298" cy="489" r="10"/><circle cx="1154" cy="384" r="15"/><circle cx="1165" cy="360" r="14"/><circle cx="1189" cy="562" r="13"/><circle cx="1152" cy="480" r="10"/><circle cx="186" cy="685" r="11"/><circle cx="42" cy="686" r="13"/><circle cx="162" cy="457" r="10"/><circle cx="11" cy="612" r="13"/><circle cx="45" cy="703" r="12"/><circle cx="280" cy="480" r="11"/><circle cx="65" cy="431" r="14"/><circle cx="114" cy="452" r="15"/><circle cx="26" cy="444" r="15"/><circle cx="61" cy="469" r="11"/><circle cx="237" cy="620" r="13"/><circle cx="77" cy="641" r="16"/><circle cx="261" cy="395" r="11"/><circle cx="189" cy="742" r="16"/><circle cx="190" cy="726" r="10"/><circle cx="51" cy="646" r="13"/><circle cx="186" cy="493" r="11"/><circle cx="86" cy="582" r="15"/><circle cx="587" cy="725" r="11"/><circle cx="734" cy="820" r="12"/><circle cx="626" cy="817" r="13"/><circle cx="660" cy="863" r="13"/><circle cx="520" cy="893" r="14"/><circle cx="582" cy="695" r="13"/><circle cx="637" cy="739" r="17"/><circle cx="595" cy="783" r="13"/><circle cx="651" cy="667" r="13"/><circle cx="687" cy="779" r="17"/><circle cx="659" cy="633" r="10"/><circle cx="628" cy="818" r="15"/><circle cx="545" cy="732" r="10"/><circle cx="565" cy="868" r="14"/><circle cx="1767" cy="583" r="15"/><circle cx="1741" cy="651" r="11"/><circle cx="1651" cy="826" r="14"/><circle cx="1674" cy="446" r="13"/><circle cx="1661" cy="668" r="14"/><circle cx="1584" cy="483" r="12"/><circle cx="1676" cy="875" r="10"/><circle cx="1675" cy="802" r="17"/><circle cx="1681" cy="763" r="15"/><circle cx="1696" cy="679" r="12"/><circle cx="1679" cy="521" r="16"/><circle cx="1673" cy="826" r="14"/><circle cx="1797" cy="633" r="14"/><circle cx="1688" cy="764" r="10"/><circle cx="1761" cy="744" r="17"/><circle cx="1626" cy="623" r="15"/><circle cx="1651" cy="2" r="16"/><circle cx="1655" cy="158" r="11"/><circle cx="1622" cy="114" r="11"/><circle cx="1534" cy="115" r="16"/><circle cx="1664" cy="174" r="16"/><circle cx="1545" cy="161" r="15"/><circle cx="1676" cy="81" r="15"/><circle cx="1544" cy="89" r="12"/><circle cx="1631" cy="212" r="16"/><circle cx="1617" cy="36" r="12"/><circle cx="1624" cy="117" r="14"/><circle cx="1643" cy="185" r="16"/><circle cx="112" cy="20" r="17"/><circle cx="23" cy="47" r="10"/><circle cx="99" cy="62" r="15"/><circle cx="80" cy="16" r="16"/><circle cx="112" cy="55" r="12"/><circle cx="88" cy="60" r="15"/></g><g fill="#c1c3da" stroke="none"><circle cx="780" cy="270" r="60"/><circle cx="1210" cy="470" r="60"/><circle cx="170" cy="590" r="60"/><circle cx="1650" cy="700" r="50"/><circle cx="520" cy="1130" r="45"/><circle cx="720" cy="1150" r="45"/><circle cx="1120" cy="1090" r="45"/><circle cx="1560" cy="1100" r="45"/><circle cx="80" cy="1200" r="40"/></g><path d="M100 560L230 640" stroke="#c2a58a" stroke-width="24" opacity="0.8"/><path d="M1600 700L1590 830" stroke="#c9ae86" stroke-width="18" opacity="0.9"/><g fill="#a4501e" stroke="none"><circle cx="600" cy="895" r="20"/><circle cx="885" cy="905" r="26"/><circle cx="1050" cy="930" r="22"/><circle cx="1135" cy="880" r="18"/><circle cx="1815" cy="965" r="26"/><circle cx="155" cy="1080" r="16"/><circle cx="780" cy="955" r="10"/></g><g fill="#3a1418" stroke="none"><circle cx="1290" cy="955" r="18"/></g></g></g></g>
<rect x="937" y="821.5" width="281.5" height="191" fill="none" stroke="#2e2e2e" stroke-width="2"/>
<g transform="translate(71 1020)" clip-path="url(#cp20)"><rect x="0" y="0" width="287" height="192" fill="#050814"/><g filter="url(#fIF)"><g transform="scale(0.15074)" fill="none" stroke-linecap="round" stroke-linejoin="round"><rect x="-50" y="-50" width="2004" height="1373.76" fill="#050814"/><path d="M0 1150C100 1108 400 988 600 900C800 812 983 720 1200 620C1417 520 1787 353 1904 300" stroke="#13154a" stroke-width="560" opacity="0.95"/><path d="M100 230C142 250 267 305 350 350C433 395 558 475 600 500" stroke="#187a56" stroke-width="190"/><path d="M540 190C575 213 682 287 750 330C818 373 917 430 950 450" stroke="#187a56" stroke-width="190"/><path d="M1000 70C1025 92 1092 153 1150 200C1208 247 1317 325 1350 350" stroke="#198058" stroke-width="190"/><path d="M0 420L80 540" stroke="#187a56" stroke-width="190"/><path d="M1500 270C1533 258 1633 235 1700 200C1767 165 1870 83 1904 60" stroke="#187a56" stroke-width="110"/><ellipse cx="240" cy="870" rx="120" ry="170" fill="#187a56" stroke="none" transform="rotate(-20 240 870)"/><ellipse cx="560" cy="860" rx="115" ry="200" fill="#d873a4" stroke="none" transform="rotate(-15 560 860)"/><ellipse cx="800" cy="760" rx="110" ry="170" fill="#187a56" stroke="none" transform="rotate(-30 800 760)"/><ellipse cx="1070" cy="760" rx="80" ry="95" fill="#1f9a6c" stroke="none"/><ellipse cx="1290" cy="560" rx="130" ry="160" fill="#187a56" stroke="none" transform="rotate(-30 1290 560)"/><ellipse cx="1780" cy="330" rx="110" ry="130" fill="#187a56" stroke="none"/><path d="M60 1150L200 1230" stroke="#187a56" stroke-width="160"/><path d="M100 230C142 250 267 305 350 350C433 395 558 475 600 500" stroke="#1e528a" stroke-width="90"/><path d="M540 190C575 213 682 287 750 330C818 373 917 430 950 450" stroke="#1e528a" stroke-width="90"/><path d="M1000 70C1025 92 1092 153 1150 200C1208 247 1317 325 1350 350" stroke="#222b80" stroke-width="100"/><path d="M0 420L80 540" stroke="#1e528a" stroke-width="90"/><path d="M1500 270C1533 258 1633 235 1700 200C1767 165 1870 83 1904 60" stroke="#1e528a" stroke-width="30"/><ellipse cx="240" cy="870" rx="80" ry="130" fill="#1e528a" stroke="none" transform="rotate(-20 240 870)"/><ellipse cx="560" cy="860" rx="70" ry="155" fill="#1f9a6c" stroke="none" transform="rotate(-15 560 860)"/><ellipse cx="800" cy="760" rx="70" ry="130" fill="#1e528a" stroke="none" transform="rotate(-30 800 760)"/><ellipse cx="1070" cy="760" rx="50" ry="65" fill="#0c3a4a" stroke="none"/><ellipse cx="1290" cy="560" rx="85" ry="115" fill="#1e528a" stroke="none" transform="rotate(-30 1290 560)"/><ellipse cx="1780" cy="330" rx="70" ry="90" fill="#1e528a" stroke="none"/><path d="M60 1150L200 1230" stroke="#1e528a" stroke-width="60"/><g fill="#e07a9a" stroke="none"><circle cx="1700" cy="290" r="18"/><circle cx="570" cy="640" r="16"/></g></g></g></g>
<g transform="translate(362 1020)" clip-path="url(#cp21)"><rect x="0" y="0" width="280" height="192" fill="#060818"/><g filter="url(#fIF)"><g transform="scale(0.14706)" fill="none" stroke-linecap="round" stroke-linejoin="round"><rect x="-50" y="-50" width="2004" height="1405.6" fill="#060818"/><path d="M150 60C158 167 142 527 200 700C258 873 367 1003 500 1100C633 1197 917 1250 1000 1280" stroke="#121548" stroke-width="360" opacity="0.95"/><path d="M600 60C667 57 883 38 1000 40C1117 42 1250 65 1300 70" stroke="#187650" stroke-width="120"/><path d="M500 250C567 242 758 212 900 200C1042 188 1275 183 1350 180" stroke="#187650" stroke-width="170"/><path d="M500 450C567 442 767 422 900 400C1033 378 1233 333 1300 320" stroke="#187650" stroke-width="160"/><path d="M800 570C867 555 1083 503 1200 480C1317 457 1450 438 1500 430" stroke="#187650" stroke-width="180"/><path d="M750 810C808 792 975 752 1100 700C1225 648 1433 533 1500 500" stroke="#187650" stroke-width="190"/><path d="M1000 960C1067 933 1258 880 1400 800C1542 720 1775 533 1850 480" stroke="#187650" stroke-width="210"/><path d="M1450 200C1492 188 1624 147 1700 130C1776 113 1870 105 1904 100" stroke="#187650" stroke-width="220"/><path d="M1500 1010L1904 800" stroke="#187650" stroke-width="190"/><path d="M620 1100L900 1060" stroke="#187650" stroke-width="140"/><path d="M1400 1250L1904 1100" stroke="#187650" stroke-width="190"/><ellipse cx="330" cy="310" rx="200" ry="220" fill="#2a8a88" stroke="none"/><ellipse cx="510" cy="740" rx="110" ry="120" fill="#1d8a60" stroke="none"/><ellipse cx="1230" cy="1040" rx="110" ry="80" fill="#1d8a60" stroke="none"/><ellipse cx="1800" cy="1240" rx="120" ry="80" fill="#1d8a60" stroke="none"/><path d="M600 60C667 57 883 38 1000 40C1117 42 1250 65 1300 70" stroke="#1a547e" stroke-width="50"/><path d="M500 250C567 242 758 212 900 200C1042 188 1275 183 1350 180" stroke="#1a547e" stroke-width="80"/><path d="M500 450C567 442 767 422 900 400C1033 378 1233 333 1300 320" stroke="#1a547e" stroke-width="70"/><path d="M800 570C867 555 1083 503 1200 480C1317 457 1450 438 1500 430" stroke="#1a547e" stroke-width="80"/><path d="M750 810C808 792 975 752 1100 700C1225 648 1433 533 1500 500" stroke="#1a547e" stroke-width="90"/><path d="M1000 960C1067 933 1258 880 1400 800C1542 720 1775 533 1850 480" stroke="#1a547e" stroke-width="100"/><path d="M1450 200C1492 188 1624 147 1700 130C1776 113 1870 105 1904 100" stroke="#1a547e" stroke-width="100"/><path d="M1500 1010L1904 800" stroke="#1a547e" stroke-width="90"/><path d="M620 1100L900 1060" stroke="#1a547e" stroke-width="60"/><path d="M1400 1250L1904 1100" stroke="#1a547e" stroke-width="90"/><ellipse cx="330" cy="310" rx="140" ry="160" fill="#1d8a60" stroke="none"/><ellipse cx="510" cy="740" rx="70" ry="80" fill="#b88aa8" stroke="none"/><ellipse cx="1230" cy="1040" rx="80" ry="50" fill="#d49ab0" stroke="none"/><ellipse cx="1800" cy="1240" rx="90" ry="50" fill="#b07aa0" stroke="none"/><g fill="#d8608a" stroke="none"><circle cx="420" cy="120" r="26"/><circle cx="470" cy="200" r="26"/><circle cx="280" cy="250" r="22"/><circle cx="400" cy="300" r="22"/><circle cx="350" cy="440" r="22"/><circle cx="220" cy="470" r="20"/><circle cx="300" cy="340" r="16"/></g></g></g></g>
<g transform="translate(653 1020)" clip-path="url(#cp22)"><rect x="0" y="0" width="279" height="192" fill="#04050e"/><g filter="url(#fIF)"><g transform="scale(0.14653)" fill="none" stroke-linecap="round" stroke-linejoin="round"><rect x="-50" y="-50" width="2004" height="1410.28" fill="#04050e"/><path d="M0 900C67 797 250 733 400 700C550 667 733 737 900 700C1067 663 1233 555 1400 480C1567 405 1820 210 1904 250C1988 290 1971 612 1904 720C1837 828 1651 812 1500 900C1349 988 1167 1180 1000 1250C833 1320 667 1308 500 1320C333 1332 83 1390 0 1320C-83 1250 -67 1003 0 900Z" fill="#101242" stroke="none"/><path d="M480 110C450 142 342 218 300 300C258 382 230 492 230 600C230 708 288 892 300 950" stroke="#1d9068" stroke-width="250"/><path d="M900 150C872 183 763 267 730 350C697 433 705 600 700 650" stroke="#1d9068" stroke-width="220"/><path d="M1050 300L1000 600" stroke="#1d9068" stroke-width="170"/><path d="M1350 100C1342 142 1300 267 1300 350C1300 433 1342 558 1350 600" stroke="#1a6a7a" stroke-width="240"/><path d="M1500 150L1700 300" stroke="#1f9a6c" stroke-width="120"/><ellipse cx="1800" cy="130" rx="85" ry="75" fill="#1f9a6c" stroke="none"/><path d="M0 800L150 1000" stroke="#1d9068" stroke-width="180"/><ellipse cx="640" cy="860" rx="130" ry="180" fill="#1a8a6a" stroke="none"/><ellipse cx="1250" cy="650" rx="110" ry="100" fill="#1a6a8a" stroke="none"/><path d="M480 110C450 142 342 218 300 300C258 382 230 492 230 600C230 708 288 892 300 950" stroke="#1e2472" stroke-width="140"/><path d="M900 150C872 183 763 267 730 350C697 433 705 600 700 650" stroke="#1e2472" stroke-width="110"/><path d="M1050 300L1000 600" stroke="#1e2472" stroke-width="80"/><path d="M1350 100C1342 142 1300 267 1300 350C1300 433 1342 558 1350 600" stroke="#232a88" stroke-width="160"/><path d="M1500 150L1700 300" stroke="#1a4a6a" stroke-width="50"/><ellipse cx="1800" cy="130" rx="55" ry="45" fill="#0a2a3a" stroke="none"/><path d="M0 800L150 1000" stroke="#1e2472" stroke-width="80"/><ellipse cx="640" cy="860" rx="90" ry="140" fill="#1a7a80" stroke="none"/><ellipse cx="1250" cy="650" rx="75" ry="65" fill="#1a5a90" stroke="none"/><g fill="#e0707a" stroke="none"><circle cx="690" cy="895" r="22"/><circle cx="570" cy="965" r="20"/><circle cx="650" cy="970" r="18"/><circle cx="730" cy="985" r="22"/><circle cx="875" cy="835" r="22"/><circle cx="1140" cy="1020" r="18"/><circle cx="1660" cy="425" r="22"/></g></g></g></g>
<g transform="translate(934 1020)" clip-path="url(#cp23)"><rect x="0" y="0" width="286" height="192" fill="#050a1e"/><g filter="url(#fIF)"><g transform="scale(0.15021)" fill="none" stroke-linecap="round" stroke-linejoin="round"><rect x="-50" y="-50" width="2004" height="1378.21" fill="#050a1e"/><path d="M0 400C100 283 400 533 600 600C800 667 983 750 1200 800C1417 850 1787 817 1904 900C2021 983 2221 1233 1904 1300C1587 1367 317 1450 0 1300C-317 1150 -100 517 0 400Z" fill="#0f1240" stroke="none"/><path d="M0 110C67 125 267 168 400 200C533 232 683 250 800 300C917 350 1050 467 1100 500" stroke="#198058" stroke-width="250"/><path d="M400 40L800 80" stroke="#187a56" stroke-width="110"/><path d="M0 430C50 452 217 498 300 560C383 622 467 760 500 800" stroke="#198058" stroke-width="240"/><path d="M900 400C892 450 883 625 850 700C817 775 725 825 700 850" stroke="#198058" stroke-width="240"/><path d="M1000 110C1050 125 1233 135 1300 200C1367 265 1392 400 1400 500C1408 600 1358 750 1350 800" stroke="#198058" stroke-width="270"/><path d="M1650 100L1700 400" stroke="#187a56" stroke-width="270"/><ellipse cx="1680" cy="800" rx="180" ry="200" fill="#b05e70" stroke="none"/><ellipse cx="270" cy="1050" rx="140" ry="170" fill="#1f8a6c" stroke="none"/><path d="M0 110C67 125 267 168 400 200C533 232 683 250 800 300C917 350 1050 467 1100 500" stroke="#222b80" stroke-width="110"/><path d="M400 40L800 80" stroke="#1e528a" stroke-width="40"/><path d="M0 430C50 452 217 498 300 560C383 622 467 760 500 800" stroke="#222b80" stroke-width="100"/><path d="M900 400C892 450 883 625 850 700C817 775 725 825 700 850" stroke="#222b80" stroke-width="110"/><path d="M1000 110C1050 125 1233 135 1300 200C1367 265 1392 400 1400 500C1408 600 1358 750 1350 800" stroke="#222b80" stroke-width="120"/><path d="M1650 100L1700 400" stroke="#1e528a" stroke-width="130"/><ellipse cx="1680" cy="800" rx="105" ry="125" fill="#1a8a60" stroke="none"/><ellipse cx="270" cy="1050" rx="90" ry="120" fill="#8a5a80" stroke="none"/><g fill="#e0507a" stroke="none"><circle cx="310" cy="1260" r="18"/></g></g></g></g>
<g transform="translate(72 1215)" clip-path="url(#cp30)"><rect x="0" y="0" width="286.5" height="190.5" fill="#f2f4f3"/><g filter="url(#fIHC)"><g transform="scale(0.15047)" fill="none" stroke-linecap="round" stroke-linejoin="round"><rect x="-50" y="-50" width="2004" height="1366.01" fill="#f2f4f3"/><path d="M0 600C83 495 333 617 500 650C667 683 766 792 1000 800C1234 808 1753 620 1904 700C2055 780 2221 1183 1904 1280C1587 1377 317 1393 0 1280C-317 1167 -83 705 0 600Z" fill="#e8eaef" stroke="none"/><path d="M150 300C167 367 225 583 250 700C275 817 292 950 300 1000" stroke="#dfe0e9" stroke-width="300"/><path d="M650 400L600 800" stroke="#dfe0e9" stroke-width="300"/><path d="M1200 150L1300 450" stroke="#dfe0e9" stroke-width="380"/><path d="M900 100L1100 60" stroke="#dfe0e9" stroke-width="200"/><path d="M1750 200L1800 500" stroke="#dfe0e9" stroke-width="250"/><ellipse cx="1600" cy="900" rx="150" ry="235" fill="#cfcfe2" stroke="none" transform="rotate(-10 1600 900)"/><path d="M150 300C167 367 225 583 250 700C275 817 292 950 300 1000" stroke="#eaecf0" stroke-width="180"/><path d="M650 400L600 800" stroke="#eaecf0" stroke-width="180"/><path d="M1200 150L1300 450" stroke="#eaecf0" stroke-width="260"/><path d="M900 100L1100 60" stroke="#eaecf0" stroke-width="100"/><path d="M1750 200L1800 500" stroke="#eaecf0" stroke-width="150"/><ellipse cx="1600" cy="900" rx="110" ry="195" fill="#d3d3e4" stroke="none" transform="rotate(-10 1600 900)"/><g fill="#9a9cc6" stroke="none" opacity="0.8"><circle cx="93" cy="353" r="11"/><circle cx="174" cy="608" r="15"/><circle cx="202" cy="415" r="15"/><circle cx="223" cy="692" r="14"/><circle cx="203" cy="452" r="15"/><circle cx="188" cy="473" r="14"/><circle cx="281" cy="536" r="11"/><circle cx="210" cy="585" r="16"/><circle cx="195" cy="311" r="13"/><circle cx="333" cy="917" r="15"/><circle cx="300" cy="818" r="16"/><circle cx="191" cy="743" r="12"/><circle cx="312" cy="801" r="13"/><circle cx="334" cy="946" r="14"/><circle cx="302" cy="827" r="11"/><circle cx="298" cy="907" r="13"/><circle cx="679" cy="648" r="16"/><circle cx="642" cy="761" r="16"/><circle cx="645" cy="683" r="12"/><circle cx="659" cy="435" r="13"/><circle cx="628" cy="595" r="14"/><circle cx="685" cy="455" r="14"/><circle cx="675" cy="595" r="12"/><circle cx="556" cy="786" r="15"/><circle cx="644" cy="544" r="15"/><circle cx="1227" cy="328" r="10"/><circle cx="1333" cy="343" r="12"/><circle cx="1160" cy="340" r="13"/><circle cx="1325" cy="324" r="16"/><circle cx="1216" cy="227" r="15"/><circle cx="1281" cy="356" r="14"/><circle cx="1100" cy="187" r="14"/><circle cx="1015" cy="56" r="13"/><circle cx="1027" cy="67" r="11"/><circle cx="945" cy="123" r="11"/><circle cx="1006" cy="97" r="11"/><circle cx="1061" cy="66" r="16"/><circle cx="1770" cy="260" r="12"/><circle cx="1773" cy="280" r="13"/><circle cx="1724" cy="326" r="12"/><circle cx="1722" cy="222" r="13"/><circle cx="1720" cy="213" r="15"/><circle cx="1743" cy="403" r="12"/><circle cx="1809" cy="449" r="16"/><circle cx="1669" cy="899" r="13"/><circle cx="1592" cy="767" r="13"/><circle cx="1643" cy="938" r="15"/><circle cx="1655" cy="908" r="16"/><circle cx="1591" cy="838" r="11"/><circle cx="1532" cy="849" r="12"/><circle cx="1489" cy="883" r="14"/><circle cx="1580" cy="891" r="13"/><circle cx="1708" cy="924" r="13"/><circle cx="1534" cy="824" r="10"/><circle cx="1636" cy="783" r="10"/><circle cx="1685" cy="820" r="17"/><circle cx="1687" cy="990" r="15"/></g><g fill="#c6c8dc" stroke="none"><circle cx="100" cy="320" r="50"/><circle cx="950" cy="1050" r="45"/><circle cx="420" cy="1080" r="40"/><circle cx="750" cy="700" r="40"/><circle cx="1180" cy="1080" r="35"/></g><path d="M215 520C217 550 221 645 225 700C229 755 238 825 240 850" stroke="#cdbb90" stroke-width="16" opacity="0.9"/><path d="M1770 400L1850 560" stroke="#cdb48e" stroke-width="12" opacity="0.8"/><path d="M1720 1222L1840 1214" stroke="#b4682e" stroke-width="22"/><g fill="#6a3010" stroke="none"><circle cx="1645" cy="890" r="16"/></g></g></g></g>
<rect x="73" y="1216" width="284.5" height="188.5" fill="none" stroke="#2e2e2e" stroke-width="2"/>
<g transform="translate(362 1215)" clip-path="url(#cp31)"><rect x="0" y="0" width="280" height="190.5" fill="#ecf0f1"/><g filter="url(#fIHC)"><g transform="scale(0.14706)" fill="none" stroke-linecap="round" stroke-linejoin="round"><rect x="-50" y="-50" width="2004" height="1395.4" fill="#ecf0f1"/><path d="M0 250C67 108 250 158 400 150C550 142 733 208 900 200C1067 192 1233 108 1400 100C1567 92 1820 -25 1904 150C1988 325 2055 975 1904 1150C1753 1325 1317 1225 1000 1200C683 1175 167 1158 0 1000C-167 842 -67 392 0 250Z" fill="#e2e4ed" stroke="none"/><path d="M230 200C225 258 200 433 200 550C200 667 225 842 230 900" stroke="#d6d8e5" stroke-width="330"/><path d="M560 350C557 408 533 583 540 700C547 817 590 992 600 1050" stroke="#d6d8e5" stroke-width="300"/><path d="M800 60L780 400" stroke="#d6d8e5" stroke-width="260"/><path d="M950 700L900 1050" stroke="#d6d8e5" stroke-width="300"/><path d="M1220 150C1225 225 1237 458 1250 600C1263 742 1292 933 1300 1000" stroke="#d6d8e5" stroke-width="330"/><path d="M1650 150C1655 225 1672 450 1680 600C1688 750 1697 975 1700 1050" stroke="#d6d8e5" stroke-width="330"/><path d="M1880 250L1904 600" stroke="#d6d8e5" stroke-width="120"/><path d="M230 200C225 258 200 433 200 550C200 667 225 842 230 900" stroke="#e0e2ec" stroke-width="190"/><path d="M560 350C557 408 533 583 540 700C547 817 590 992 600 1050" stroke="#e0e2ec" stroke-width="160"/><path d="M800 60L780 400" stroke="#e0e2ec" stroke-width="140"/><path d="M950 700L900 1050" stroke="#e0e2ec" stroke-width="160"/><path d="M1220 150C1225 225 1237 458 1250 600C1263 742 1292 933 1300 1000" stroke="#e0e2ec" stroke-width="190"/><path d="M1650 150C1655 225 1672 450 1680 600C1688 750 1697 975 1700 1050" stroke="#e0e2ec" stroke-width="190"/><path d="M1880 250L1904 600" stroke="#e0e2ec" stroke-width="40"/><g fill="#9a9cc6" stroke="none" opacity="0.8"><circle cx="195" cy="365" r="13"/><circle cx="279" cy="529" r="17"/><circle cx="161" cy="442" r="15"/><circle cx="173" cy="266" r="14"/><circle cx="168" cy="247" r="13"/><circle cx="275" cy="458" r="15"/><circle cx="299" cy="208" r="11"/><circle cx="214" cy="215" r="11"/><circle cx="156" cy="623" r="15"/><circle cx="257" cy="685" r="15"/><circle cx="239" cy="740" r="12"/><circle cx="213" cy="677" r="11"/><circle cx="206" cy="550" r="11"/><circle cx="237" cy="567" r="15"/><circle cx="300" cy="834" r="15"/><circle cx="152" cy="661" r="16"/><circle cx="535" cy="453" r="14"/><circle cx="493" cy="429" r="14"/><circle cx="588" cy="685" r="12"/><circle cx="568" cy="674" r="12"/><circle cx="511" cy="443" r="12"/><circle cx="610" cy="397" r="16"/><circle cx="603" cy="372" r="12"/><circle cx="504" cy="544" r="17"/><circle cx="545" cy="870" r="12"/><circle cx="632" cy="870" r="15"/><circle cx="549" cy="891" r="16"/><circle cx="526" cy="999" r="15"/><circle cx="569" cy="734" r="14"/><circle cx="562" cy="742" r="13"/><circle cx="559" cy="746" r="15"/><circle cx="575" cy="1029" r="14"/><circle cx="740" cy="115" r="15"/><circle cx="789" cy="295" r="14"/><circle cx="822" cy="90" r="10"/><circle cx="796" cy="397" r="14"/><circle cx="788" cy="316" r="17"/><circle cx="782" cy="394" r="10"/><circle cx="783" cy="326" r="10"/><circle cx="773" cy="306" r="17"/><circle cx="932" cy="911" r="11"/><circle cx="910" cy="752" r="16"/><circle cx="924" cy="821" r="11"/><circle cx="987" cy="706" r="11"/><circle cx="964" cy="995" r="11"/><circle cx="874" cy="840" r="12"/><circle cx="900" cy="804" r="13"/><circle cx="903" cy="1019" r="12"/><circle cx="1229" cy="554" r="13"/><circle cx="1272" cy="521" r="11"/><circle cx="1264" cy="241" r="15"/><circle cx="1297" cy="512" r="10"/><circle cx="1304" cy="229" r="14"/><circle cx="1208" cy="301" r="11"/><circle cx="1199" cy="448" r="12"/><circle cx="1284" cy="586" r="17"/><circle cx="1185" cy="596" r="13"/><circle cx="1176" cy="519" r="12"/><circle cx="1312" cy="903" r="12"/><circle cx="1261" cy="961" r="15"/><circle cx="1267" cy="627" r="10"/><circle cx="1267" cy="805" r="13"/><circle cx="1282" cy="784" r="10"/><circle cx="1232" cy="760" r="13"/><circle cx="1297" cy="598" r="11"/><circle cx="1269" cy="607" r="11"/><circle cx="1234" cy="781" r="17"/><circle cx="1723" cy="394" r="16"/><circle cx="1633" cy="569" r="11"/><circle cx="1706" cy="383" r="14"/><circle cx="1645" cy="560" r="13"/><circle cx="1724" cy="463" r="13"/><circle cx="1721" cy="171" r="10"/><circle cx="1698" cy="343" r="15"/><circle cx="1656" cy="233" r="14"/><circle cx="1690" cy="294" r="12"/><circle cx="1608" cy="435" r="13"/><circle cx="1759" cy="1039" r="15"/><circle cx="1656" cy="872" r="10"/><circle cx="1761" cy="645" r="11"/><circle cx="1619" cy="863" r="13"/><circle cx="1773" cy="942" r="10"/><circle cx="1649" cy="769" r="11"/><circle cx="1619" cy="910" r="14"/><circle cx="1702" cy="963" r="16"/><circle cx="1635" cy="1002" r="13"/><circle cx="1712" cy="879" r="11"/><circle cx="1905" cy="574" r="11"/><circle cx="1871" cy="276" r="12"/><circle cx="1880" cy="261" r="13"/><circle cx="1897" cy="418" r="13"/><circle cx="1895" cy="424" r="11"/><circle cx="1880" cy="265" r="13"/><circle cx="1897" cy="270" r="12"/><circle cx="1893" cy="295" r="13"/></g><path d="M0 1240C150 1238 583 1228 900 1230C1217 1232 1737 1247 1904 1250" stroke="#e6e6e4" stroke-width="90" opacity="0.9"/><path d="M850 400L880 480" stroke="#c9b8a0" stroke-width="14" opacity="0.9"/><g fill="#a84a20" stroke="none"><circle cx="1355" cy="938" r="16"/></g></g></g></g>
<rect x="363" y="1216" width="278" height="188.5" fill="none" stroke="#2e2e2e" stroke-width="2"/>
<g transform="translate(653 1215)" clip-path="url(#cp32)"><rect x="0" y="0" width="279" height="190.5" fill="#ecf0f0"/><g filter="url(#fIHC)"><g transform="scale(0.14653)" fill="none" stroke-linecap="round" stroke-linejoin="round"><rect x="-50" y="-50" width="2004" height="1400.04" fill="#ecf0f0"/><path d="M0 650C67 553 250 635 400 620C550 605 733 547 900 560C1067 573 1233 693 1400 700C1567 707 1820 517 1904 600C1988 683 2221 1100 1904 1200C1587 1300 317 1292 0 1200C-317 1108 -67 747 0 650Z" fill="#e4e3ec" stroke="none"/><path d="M50 80C108 100 292 147 400 200C508 253 620 325 700 400C780 475 850 608 880 650" stroke="#ddd2d8" stroke-width="260"/><path d="M1100 60C1133 92 1233 177 1300 250C1367 323 1467 458 1500 500" stroke="#ddd2d8" stroke-width="240"/><path d="M1700 60L1760 100" stroke="#d6c0c8" stroke-width="180"/><path d="M1150 620L1100 700" stroke="#dcc8d0" stroke-width="240"/><ellipse cx="400" cy="1000" rx="180" ry="200" fill="#d6d4e3" stroke="none"/><ellipse cx="800" cy="900" rx="160" ry="220" fill="#d6d4e3" stroke="none"/><ellipse cx="1100" cy="900" rx="150" ry="180" fill="#d6d4e3" stroke="none"/><ellipse cx="1600" cy="950" rx="170" ry="170" fill="#d6d4e3" stroke="none"/><ellipse cx="700" cy="1120" rx="120" ry="70" fill="#d6d4e3" stroke="none"/><path d="M50 80C108 100 292 147 400 200C508 253 620 325 700 400C780 475 850 608 880 650" stroke="#e6dfe5" stroke-width="140"/><path d="M1100 60C1133 92 1233 177 1300 250C1367 323 1467 458 1500 500" stroke="#e6dfe5" stroke-width="120"/><path d="M1700 60L1760 100" stroke="#dcc8d0" stroke-width="80"/><path d="M1150 620L1100 700" stroke="#d8c4d0" stroke-width="120"/><ellipse cx="400" cy="1000" rx="130" ry="150" fill="#e1e0eb" stroke="none"/><ellipse cx="800" cy="900" rx="110" ry="170" fill="#e1e0eb" stroke="none"/><ellipse cx="1100" cy="900" rx="100" ry="130" fill="#e1e0eb" stroke="none"/><ellipse cx="1600" cy="950" rx="120" ry="120" fill="#e1e0eb" stroke="none"/><ellipse cx="700" cy="1120" rx="90" ry="40" fill="#e1e0eb" stroke="none"/><g fill="#9a9cc6" stroke="none" opacity="0.8"><circle cx="101" cy="96" r="13"/><circle cx="377" cy="231" r="15"/><circle cx="301" cy="123" r="16"/><circle cx="199" cy="141" r="10"/><circle cx="144" cy="155" r="11"/><circle cx="87" cy="71" r="12"/><circle cx="223" cy="137" r="11"/><circle cx="56" cy="64" r="12"/><circle cx="558" cy="314" r="15"/><circle cx="540" cy="277" r="14"/><circle cx="661" cy="397" r="10"/><circle cx="459" cy="305" r="17"/><circle cx="508" cy="232" r="10"/><circle cx="465" cy="183" r="17"/><circle cx="695" cy="373" r="10"/><circle cx="667" cy="395" r="16"/><circle cx="720" cy="500" r="15"/><circle cx="805" cy="580" r="15"/><circle cx="740" cy="546" r="10"/><circle cx="786" cy="493" r="13"/><circle cx="892" cy="581" r="13"/><circle cx="792" cy="503" r="14"/><circle cx="814" cy="583" r="13"/><circle cx="1139" cy="165" r="16"/><circle cx="1262" cy="156" r="13"/><circle cx="1260" cy="169" r="13"/><circle cx="1212" cy="116" r="16"/><circle cx="1293" cy="213" r="11"/><circle cx="1136" cy="125" r="11"/><circle cx="1416" cy="461" r="10"/><circle cx="1423" cy="436" r="14"/><circle cx="1447" cy="400" r="11"/><circle cx="1507" cy="458" r="16"/><circle cx="1469" cy="444" r="13"/><circle cx="1379" cy="305" r="15"/><circle cx="1338" cy="251" r="17"/><circle cx="1718" cy="79" r="14"/><circle cx="1728" cy="107" r="15"/><circle cx="1149" cy="651" r="17"/><circle cx="1111" cy="696" r="12"/><circle cx="311" cy="1079" r="11"/><circle cx="430" cy="1009" r="11"/><circle cx="427" cy="974" r="11"/><circle cx="390" cy="865" r="17"/><circle cx="500" cy="915" r="16"/><circle cx="470" cy="975" r="16"/><circle cx="443" cy="1021" r="16"/><circle cx="331" cy="1038" r="15"/><circle cx="381" cy="1017" r="16"/><circle cx="430" cy="1132" r="14"/><circle cx="268" cy="975" r="12"/><circle cx="404" cy="952" r="15"/><circle cx="772" cy="1040" r="13"/><circle cx="874" cy="779" r="11"/><circle cx="738" cy="1039" r="13"/><circle cx="836" cy="928" r="13"/><circle cx="736" cy="962" r="15"/><circle cx="817" cy="921" r="11"/><circle cx="837" cy="887" r="15"/><circle cx="790" cy="829" r="16"/><circle cx="852" cy="778" r="17"/><circle cx="780" cy="900" r="16"/><circle cx="833" cy="907" r="12"/><circle cx="744" cy="966" r="10"/><circle cx="1112" cy="995" r="11"/><circle cx="1072" cy="994" r="14"/><circle cx="1159" cy="794" r="10"/><circle cx="1190" cy="981" r="13"/><circle cx="1079" cy="898" r="16"/><circle cx="1029" cy="896" r="15"/><circle cx="1100" cy="880" r="16"/><circle cx="1138" cy="808" r="16"/><circle cx="1144" cy="887" r="16"/><circle cx="1011" cy="957" r="14"/><circle cx="1058" cy="813" r="11"/><circle cx="1590" cy="991" r="11"/><circle cx="1551" cy="1046" r="12"/><circle cx="1607" cy="1045" r="14"/><circle cx="1550" cy="1061" r="15"/><circle cx="1573" cy="947" r="13"/><circle cx="1635" cy="1028" r="16"/><circle cx="1593" cy="978" r="14"/><circle cx="1605" cy="929" r="15"/><circle cx="1702" cy="887" r="11"/><circle cx="1689" cy="951" r="13"/><circle cx="1623" cy="922" r="15"/><circle cx="753" cy="1107" r="14"/><circle cx="708" cy="1156" r="16"/><circle cx="656" cy="1081" r="10"/><circle cx="687" cy="1125" r="15"/><circle cx="641" cy="1083" r="11"/><circle cx="777" cy="1114" r="15"/></g><g fill="#eef0f0" stroke="none"><circle cx="770" cy="990" r="30"/><circle cx="1110" cy="810" r="30"/></g><g fill="#8a3c1a" stroke="none"><circle cx="1330" cy="865" r="24"/><circle cx="1120" cy="1010" r="22"/><circle cx="1030" cy="1050" r="26"/><circle cx="1190" cy="1130" r="18"/><circle cx="215" cy="1080" r="16"/><circle cx="180" cy="1115" r="16"/><circle cx="1560" cy="985" r="16"/><circle cx="1735" cy="970" r="12"/><circle cx="1640" cy="565" r="12"/><circle cx="315" cy="685" r="12"/></g></g></g></g>
<rect x="654" y="1216" width="277" height="188.5" fill="none" stroke="#2e2e2e" stroke-width="2"/>
<g transform="translate(936 1215)" clip-path="url(#cp33)"><rect x="0" y="0" width="283.5" height="190.5" fill="#edf1f2"/><g filter="url(#fIHC)"><g transform="scale(0.14890)" fill="none" stroke-linecap="round" stroke-linejoin="round"><rect x="-50" y="-50" width="2004" height="1379.41" fill="#edf1f2"/><path d="M0 400C83 268 333 492 500 500C667 508 833 467 1000 450C1167 433 1349 425 1500 400C1651 375 1837 152 1904 300C1971 448 2221 1125 1904 1290C1587 1455 317 1438 0 1290C-317 1142 -83 532 0 400Z" fill="#e0e6ee" stroke="none"/><path d="M260 250C250 308 213 475 200 600C187 725 183 933 180 1000" stroke="#d0d7e7" stroke-width="300"/><path d="M600 60L680 450" stroke="#d0d7e7" stroke-width="300"/><path d="M1050 60L1100 380" stroke="#d0d7e7" stroke-width="260"/><path d="M1500 60L1520 200" stroke="#d0d7e7" stroke-width="260"/><path d="M430 720L440 1150" stroke="#d0d7e7" stroke-width="270"/><path d="M850 680L850 1200" stroke="#d0d7e7" stroke-width="330"/><path d="M1180 620L1150 1100" stroke="#d0d7e7" stroke-width="270"/><path d="M1470 640L1460 1000" stroke="#d0d7e7" stroke-width="260"/><path d="M1850 350L1860 1100" stroke="#d0d7e7" stroke-width="200"/><ellipse cx="1620" cy="1000" rx="70" ry="80" fill="#b8bcd6" stroke="none"/><path d="M260 250C250 308 213 475 200 600C187 725 183 933 180 1000" stroke="#dde3ed" stroke-width="180"/><path d="M600 60L680 450" stroke="#dde3ed" stroke-width="180"/><path d="M1050 60L1100 380" stroke="#dde3ed" stroke-width="140"/><path d="M1500 60L1520 200" stroke="#dde3ed" stroke-width="140"/><path d="M430 720L440 1150" stroke="#dde3ed" stroke-width="150"/><path d="M850 680L850 1200" stroke="#dde3ed" stroke-width="190"/><path d="M1180 620L1150 1100" stroke="#dde3ed" stroke-width="150"/><path d="M1470 640L1460 1000" stroke="#dde3ed" stroke-width="140"/><path d="M1850 350L1860 1100" stroke="#dde3ed" stroke-width="100"/><ellipse cx="1620" cy="1000" rx="40" ry="50" fill="#e0e4ec" stroke="none"/><g fill="#9a9cc6" stroke="none" opacity="0.8"><circle cx="304" cy="288" r="15"/><circle cx="183" cy="295" r="16"/><circle cx="221" cy="511" r="16"/><circle cx="230" cy="333" r="12"/><circle cx="161" cy="410" r="11"/><circle cx="175" cy="507" r="10"/><circle cx="208" cy="599" r="14"/><circle cx="233" cy="354" r="17"/><circle cx="158" cy="738" r="15"/><circle cx="154" cy="946" r="13"/><circle cx="211" cy="736" r="12"/><circle cx="133" cy="952" r="11"/><circle cx="264" cy="709" r="16"/><circle cx="215" cy="625" r="11"/><circle cx="129" cy="675" r="13"/><circle cx="137" cy="851" r="13"/><circle cx="143" cy="926" r="14"/><circle cx="588" cy="292" r="15"/><circle cx="568" cy="206" r="16"/><circle cx="651" cy="436" r="13"/><circle cx="610" cy="202" r="11"/><circle cx="628" cy="351" r="16"/><circle cx="605" cy="148" r="14"/><circle cx="661" cy="291" r="10"/><circle cx="614" cy="434" r="11"/><circle cx="659" cy="419" r="10"/><circle cx="1105" cy="260" r="12"/><circle cx="1017" cy="100" r="14"/><circle cx="1054" cy="135" r="13"/><circle cx="1133" cy="369" r="15"/><circle cx="1045" cy="322" r="12"/><circle cx="1131" cy="331" r="11"/><circle cx="1034" cy="265" r="13"/><circle cx="1550" cy="78" r="13"/><circle cx="1502" cy="184" r="13"/><circle cx="1544" cy="129" r="11"/><circle cx="403" cy="834" r="14"/><circle cx="422" cy="742" r="17"/><circle cx="474" cy="750" r="17"/><circle cx="385" cy="945" r="16"/><circle cx="373" cy="923" r="12"/><circle cx="468" cy="852" r="15"/><circle cx="438" cy="764" r="15"/><circle cx="461" cy="1027" r="11"/><circle cx="395" cy="1075" r="14"/><circle cx="913" cy="989" r="12"/><circle cx="850" cy="826" r="12"/><circle cx="855" cy="998" r="17"/><circle cx="924" cy="815" r="11"/><circle cx="820" cy="780" r="14"/><circle cx="812" cy="979" r="15"/><circle cx="900" cy="782" r="16"/><circle cx="866" cy="1058" r="15"/><circle cx="916" cy="1044" r="13"/><circle cx="797" cy="1081" r="15"/><circle cx="791" cy="852" r="14"/><circle cx="1093" cy="1094" r="16"/><circle cx="1118" cy="711" r="12"/><circle cx="1170" cy="720" r="15"/><circle cx="1112" cy="747" r="10"/><circle cx="1127" cy="1016" r="15"/><circle cx="1116" cy="835" r="12"/><circle cx="1125" cy="850" r="16"/><circle cx="1165" cy="647" r="16"/><circle cx="1215" cy="777" r="14"/><circle cx="1191" cy="1020" r="15"/><circle cx="1114" cy="690" r="11"/><circle cx="1430" cy="688" r="13"/><circle cx="1497" cy="666" r="16"/><circle cx="1482" cy="947" r="10"/><circle cx="1507" cy="890" r="15"/><circle cx="1418" cy="823" r="10"/><circle cx="1512" cy="963" r="14"/><circle cx="1460" cy="768" r="11"/><circle cx="1459" cy="981" r="14"/><circle cx="1832" cy="707" r="16"/><circle cx="1812" cy="414" r="12"/><circle cx="1882" cy="814" r="12"/><circle cx="1827" cy="1014" r="16"/><circle cx="1860" cy="823" r="13"/><circle cx="1839" cy="616" r="13"/><circle cx="1838" cy="453" r="12"/><circle cx="1837" cy="812" r="17"/><circle cx="1846" cy="433" r="16"/><circle cx="1847" cy="377" r="12"/><circle cx="1833" cy="802" r="14"/><circle cx="1859" cy="548" r="11"/><circle cx="1868" cy="983" r="11"/><circle cx="1854" cy="1039" r="14"/><circle cx="1850" cy="1079" r="15"/><circle cx="1852" cy="601" r="12"/><circle cx="1621" cy="978" r="12"/><circle cx="1642" cy="1049" r="12"/><circle cx="1641" cy="975" r="11"/><circle cx="1606" cy="950" r="13"/><circle cx="1656" cy="987" r="13"/></g><g fill="#9a5a3a" stroke="none"><circle cx="605" cy="240" r="20"/><circle cx="1245" cy="195" r="16"/><circle cx="1335" cy="558" r="16"/></g><g fill="#2a1418" stroke="none"><circle cx="1108" cy="675" r="20"/></g><g fill="#cdb090" stroke="none"><circle cx="235" cy="580" r="22"/></g></g></g></g>
<rect x="937" y="1216" width="281.5" height="188.5" fill="none" stroke="#2e2e2e" stroke-width="2"/>
<g transform="translate(74 1415)" clip-path="url(#cp40)"><rect x="0" y="0" width="280" height="192" fill="#090c06"/><g filter="url(#fIF)"><g transform="scale(0.14706)" fill="none" stroke-linecap="round" stroke-linejoin="round"><rect x="-50" y="-50" width="2004" height="1405.6" fill="#090c06"/><path d="M0 1090C100 1090 400 1103 600 1090C800 1077 983 1042 1200 1010C1417 978 1787 918 1904 900" stroke="#121548" stroke-width="230" opacity="0.95"/><path d="M150 50L230 40" stroke="#1d8c4c" stroke-width="170"/><path d="M450 50C483 58 592 83 650 100C708 117 775 142 800 150" stroke="#1d8c4c" stroke-width="190"/><path d="M100 300C150 322 317 380 400 430C483 480 542 522 600 600C658 678 725 850 750 900" stroke="#1d8c4c" stroke-width="190"/><path d="M800 400C825 433 917 517 950 600C983 683 992 850 1000 900" stroke="#1d8c4c" stroke-width="190"/><path d="M1080 250C1108 292 1197 408 1250 500C1303 592 1375 750 1400 800" stroke="#1d8c4c" stroke-width="190"/><path d="M1650 540L1700 750" stroke="#1d8c4c" stroke-width="190"/><path d="M1500 50C1542 75 1683 150 1750 200C1817 250 1878 325 1904 350" stroke="#1d8c4c" stroke-width="210"/><path d="M30 700C50 733 88 867 150 900C212 933 338 910 400 900C462 890 500 850 520 840" stroke="#1d8c4c" stroke-width="170"/><path d="M0 400L20 450" stroke="#1d8c4c" stroke-width="100"/><ellipse cx="160" cy="1090" rx="110" ry="100" fill="#3a6ac0" stroke="none"/><ellipse cx="500" cy="1100" rx="100" ry="100" fill="#3a6ac0" stroke="none"/><ellipse cx="1000" cy="1080" rx="100" ry="100" fill="#3a6ac0" stroke="none"/><ellipse cx="1500" cy="1000" rx="100" ry="90" fill="#2a4ab0" stroke="none"/><path d="M150 50L230 40" stroke="#2a76c4" stroke-width="70"/><path d="M450 50C483 58 592 83 650 100C708 117 775 142 800 150" stroke="#2a76c4" stroke-width="80"/><path d="M100 300C150 322 317 380 400 430C483 480 542 522 600 600C658 678 725 850 750 900" stroke="#2a76c4" stroke-width="80"/><path d="M800 400C825 433 917 517 950 600C983 683 992 850 1000 900" stroke="#2a76c4" stroke-width="80"/><path d="M1080 250C1108 292 1197 408 1250 500C1303 592 1375 750 1400 800" stroke="#2a76c4" stroke-width="80"/><path d="M1650 540L1700 750" stroke="#2a76c4" stroke-width="80"/><path d="M1500 50C1542 75 1683 150 1750 200C1817 250 1878 325 1904 350" stroke="#2a76c4" stroke-width="90"/><path d="M30 700C50 733 88 867 150 900C212 933 338 910 400 900C462 890 500 850 520 840" stroke="#2a76c4" stroke-width="70"/><path d="M0 400L20 450" stroke="#2a76c4" stroke-width="30"/><ellipse cx="160" cy="1090" rx="75" ry="65" fill="#23924e" stroke="none"/><ellipse cx="500" cy="1100" rx="65" ry="65" fill="#23924e" stroke="none"/><ellipse cx="1000" cy="1080" rx="65" ry="65" fill="#1a2a6a" stroke="none"/><ellipse cx="1500" cy="1000" rx="65" ry="55" fill="#23824e" stroke="none"/><g fill="#e6709a" stroke="none"><circle cx="490" cy="1030" r="30"/><circle cx="640" cy="1090" r="35"/><circle cx="95" cy="1030" r="20"/><circle cx="30" cy="1090" r="25"/><circle cx="900" cy="980" r="20"/><circle cx="1190" cy="985" r="25"/><circle cx="1280" cy="905" r="18"/><circle cx="1550" cy="930" r="18"/><circle cx="1330" cy="980" r="25"/><circle cx="1720" cy="1100" r="18"/><circle cx="1840" cy="1000" r="20"/><circle cx="790" cy="1075" r="22"/><circle cx="1150" cy="1085" r="22"/></g><path d="M0 1220C150 1203 583 1217 900 1200C1217 1183 1737 1103 1904 1120C2071 1137 2221 1270 1904 1300C1587 1330 317 1313 0 1300C-317 1287 -150 1237 0 1220Z" fill="#090c06" stroke="none"/></g></g></g>
<g transform="translate(363 1415)" clip-path="url(#cp41)"><rect x="0" y="0" width="279" height="192" fill="#030805"/><g filter="url(#fIF)"><g transform="scale(0.14653)" fill="none" stroke-linecap="round" stroke-linejoin="round"><rect x="-50" y="-50" width="2004" height="1410.28" fill="#030805"/><path d="M0 50C33 55 133 83 200 80C267 77 367 38 400 30" stroke="#1b8644" stroke-width="200"/><path d="M150 350L250 280" stroke="#1b8644" stroke-width="220"/><path d="M550 200C575 217 692 250 700 300C708 350 658 442 600 500C542 558 400 583 350 650C300 717 308 858 300 900" stroke="#1b8644" stroke-width="210"/><path d="M750 100L800 250" stroke="#1b8644" stroke-width="190"/><path d="M1000 300C992 333 983 442 950 500C917 558 833 592 800 650C767 708 758 817 750 850" stroke="#1b8644" stroke-width="190"/><path d="M1200 50C1203 92 1228 217 1220 300C1212 383 1187 483 1150 550C1113 617 1033 645 1000 700C967 755 958 850 950 880" stroke="#1b8644" stroke-width="190"/><path d="M1500 60C1492 108 1475 260 1450 350C1425 440 1383 528 1350 600C1317 672 1267 750 1250 780" stroke="#1b8644" stroke-width="210"/><path d="M1750 100C1742 150 1717 300 1700 400C1683 500 1658 650 1650 700" stroke="#1b8644" stroke-width="240"/><path d="M1904 300L1880 600" stroke="#1b8644" stroke-width="120"/><path d="M50 550L100 800" stroke="#1b8644" stroke-width="100"/><ellipse cx="150" cy="1180" rx="130" ry="130" fill="#d87a9a" stroke="none"/><ellipse cx="400" cy="1200" rx="100" ry="100" fill="#d87a9a" stroke="none"/><ellipse cx="620" cy="1060" rx="130" ry="100" fill="#d87a9a" stroke="none"/><ellipse cx="950" cy="1060" rx="80" ry="100" fill="#d87a9a" stroke="none"/><ellipse cx="1200" cy="1030" rx="150" ry="70" fill="#d87a9a" stroke="none"/><ellipse cx="750" cy="1180" rx="120" ry="80" fill="#23924e" stroke="none"/><ellipse cx="1400" cy="920" rx="130" ry="100" fill="#23924e" stroke="none"/><ellipse cx="1560" cy="900" rx="100" ry="120" fill="#2a78cc" stroke="none"/><ellipse cx="1800" cy="790" rx="90" ry="80" fill="#d87a9a" stroke="none"/><path d="M1250 1250C1292 1238 1425 1192 1500 1180C1575 1168 1667 1180 1700 1180" stroke="#23a060" stroke-width="140"/><ellipse cx="1870" cy="1170" rx="70" ry="130" fill="#23a060" stroke="none"/><ellipse cx="980" cy="210" rx="50" ry="40" fill="#1d9048" stroke="none"/><path d="M0 50C33 55 133 83 200 80C267 77 367 38 400 30" stroke="#2a74c4" stroke-width="80"/><path d="M150 350L250 280" stroke="#2a74c4" stroke-width="90"/><path d="M550 200C575 217 692 250 700 300C708 350 658 442 600 500C542 558 400 583 350 650C300 717 308 858 300 900" stroke="#2a74c4" stroke-width="90"/><path d="M750 100L800 250" stroke="#2a74c4" stroke-width="80"/><path d="M1000 300C992 333 983 442 950 500C917 558 833 592 800 650C767 708 758 817 750 850" stroke="#2a74c4" stroke-width="80"/><path d="M1200 50C1203 92 1228 217 1220 300C1212 383 1187 483 1150 550C1113 617 1033 645 1000 700C967 755 958 850 950 880" stroke="#2a74c4" stroke-width="80"/><path d="M1500 60C1492 108 1475 260 1450 350C1425 440 1383 528 1350 600C1317 672 1267 750 1250 780" stroke="#2a74c4" stroke-width="90"/><path d="M1750 100C1742 150 1717 300 1700 400C1683 500 1658 650 1650 700" stroke="#2a74c4" stroke-width="100"/><path d="M1904 300L1880 600" stroke="#2a74c4" stroke-width="40"/><path d="M50 550L100 800" stroke="#2a74c4" stroke-width="30"/><ellipse cx="150" cy="1180" rx="70" ry="70" fill="#23924e" stroke="none"/><ellipse cx="400" cy="1200" rx="50" ry="50" fill="#23924e" stroke="none"/><ellipse cx="620" cy="1060" rx="80" ry="50" fill="#23924e" stroke="none"/><ellipse cx="950" cy="1060" rx="40" ry="60" fill="#23924e" stroke="none"/><ellipse cx="1200" cy="1030" rx="115" ry="35" fill="#23924e" stroke="none"/><ellipse cx="750" cy="1180" rx="80" ry="40" fill="#d87a9a" stroke="none"/><ellipse cx="1400" cy="920" rx="90" ry="60" fill="#c88aa0" stroke="none"/><ellipse cx="1560" cy="900" rx="60" ry="80" fill="#23924e" stroke="none"/><ellipse cx="1800" cy="790" rx="55" ry="45" fill="#2a78cc" stroke="none"/><path d="M1250 1250C1292 1238 1425 1192 1500 1180C1575 1168 1667 1180 1700 1180" stroke="#1a8a70" stroke-width="60"/><ellipse cx="1870" cy="1170" rx="40" ry="100" fill="#1a8a70" stroke="none"/></g></g></g>
<g transform="translate(653 1415)" clip-path="url(#cp42)"><rect x="0" y="0" width="279" height="192" fill="#03030a"/><g filter="url(#fIF)"><g transform="scale(0.14653)" fill="none" stroke-linecap="round" stroke-linejoin="round"><rect x="-50" y="-50" width="2004" height="1410.28" fill="#03030a"/><path d="M0 1000C117 955 483 1058 700 1050C917 1042 1099 983 1300 950C1501 917 1803 788 1904 850C2005 912 2221 1242 1904 1320C1587 1398 317 1373 0 1320C-317 1267 -117 1045 0 1000Z" fill="#0a0924" stroke="none"/><path d="M150 420L400 270" stroke="#1b8658" stroke-width="170"/><path d="M850 150L1200 100" stroke="#1d9a60" stroke-width="140"/><path d="M850 350C808 375 667 450 600 500C533 550 467 583 450 650C433 717 492 858 500 900" stroke="#1b8658" stroke-width="230"/><path d="M950 550L880 900" stroke="#1b8658" stroke-width="190"/><path d="M1400 150C1375 208 1292 392 1250 500C1208 608 1167 750 1150 800" stroke="#1b8658" stroke-width="220"/><path d="M1700 100C1692 150 1667 300 1650 400C1633 500 1608 650 1600 700" stroke="#1b8658" stroke-width="210"/><path d="M1880 350L1850 700" stroke="#1b8658" stroke-width="120"/><path d="M50 800C75 825 142 917 200 950C258 983 367 992 400 1000" stroke="#1b8658" stroke-width="190"/><path d="M150 420L400 270" stroke="#2a6cc4" stroke-width="80"/><path d="M850 150L1200 100" stroke="#2a50a0" stroke-width="50"/><path d="M850 350C808 375 667 450 600 500C533 550 467 583 450 650C433 717 492 858 500 900" stroke="#2a6cc4" stroke-width="120"/><path d="M950 550L880 900" stroke="#2a6cc4" stroke-width="90"/><path d="M1400 150C1375 208 1292 392 1250 500C1208 608 1167 750 1150 800" stroke="#2a6cc4" stroke-width="110"/><path d="M1700 100C1692 150 1667 300 1650 400C1633 500 1608 650 1600 700" stroke="#2a6cc4" stroke-width="100"/><path d="M1880 350L1850 700" stroke="#2a6cc4" stroke-width="40"/><path d="M50 800C75 825 142 917 200 950C258 983 367 992 400 1000" stroke="#2a6cc4" stroke-width="90"/><path d="M150 420L400 270" stroke="#2a2a90" stroke-width="24"/><path d="M850 350C808 375 667 450 600 500C533 550 467 583 450 650C433 717 492 858 500 900" stroke="#2a2a90" stroke-width="36"/><path d="M1400 150C1375 208 1292 392 1250 500C1208 608 1167 750 1150 800" stroke="#2a2a90" stroke-width="33"/><path d="M1700 100C1692 150 1667 300 1650 400C1633 500 1608 650 1600 700" stroke="#2a2a90" stroke-width="30"/><path d="M0 1100C100 1100 400 1125 600 1100C800 1075 983 1000 1200 950C1417 900 1787 825 1904 800" stroke="#245cb4" stroke-width="170" opacity="0.95"/><ellipse cx="80" cy="1180" rx="90" ry="110" fill="#1d9060" stroke="none"/><ellipse cx="220" cy="1150" rx="80" ry="80" fill="#5a8ae0" stroke="none"/><ellipse cx="650" cy="1080" rx="70" ry="90" fill="#1d9060" stroke="none"/><ellipse cx="1200" cy="960" rx="100" ry="50" fill="#1d9060" stroke="none" transform="rotate(-10 1200 960)"/><ellipse cx="80" cy="1180" rx="60" ry="80" fill="#1d9060" stroke="none"/><ellipse cx="220" cy="1150" rx="50" ry="50" fill="#5a8ae0" stroke="none"/><ellipse cx="650" cy="1080" rx="40" ry="60" fill="#1d9060" stroke="none"/><ellipse cx="1200" cy="960" rx="80" ry="30" fill="#1d9060" stroke="none" transform="rotate(-10 1200 960)"/><g fill="#c880c0" stroke="none"><circle cx="380" cy="1080" r="28"/><circle cx="800" cy="1000" r="26"/><circle cx="940" cy="970" r="26"/><circle cx="1130" cy="890" r="26"/><circle cx="1500" cy="820" r="28"/><circle cx="1350" cy="900" r="24"/><circle cx="1780" cy="790" r="26"/><circle cx="620" cy="990" r="22"/></g></g></g></g>
<g transform="translate(936 1415)" clip-path="url(#cp43)"><rect x="0" y="0" width="284" height="192" fill="#04060a"/><g filter="url(#fIF)"><g transform="scale(0.14916)" fill="none" stroke-linecap="round" stroke-linejoin="round"><rect x="-50" y="-50" width="2004" height="1387.21" fill="#04060a"/><path d="M200 60L150 150" stroke="#1c8446" stroke-width="200"/><path d="M450 60C425 117 358 293 300 400C242 507 137 617 100 700C63 783 83 867 80 900" stroke="#1c8446" stroke-width="200"/><path d="M700 60C683 117 642 293 600 400C558 507 480 608 450 700C420 792 425 908 420 950" stroke="#1c8446" stroke-width="200"/><path d="M950 60C942 117 933 293 900 400C867 507 783 608 750 700C717 792 708 908 700 950" stroke="#1c8446" stroke-width="200"/><path d="M1110 60C1110 117 1128 302 1110 400C1092 498 1027 567 1000 650C973 733 958 858 950 900" stroke="#1c8446" stroke-width="170"/><path d="M1300 60C1300 100 1292 243 1300 300C1308 357 1342 383 1350 400" stroke="#1c8446" stroke-width="230"/><path d="M1600 60C1603 100 1607 227 1620 300C1633 373 1670 467 1680 500" stroke="#1c8446" stroke-width="210"/><path d="M1860 100C1860 183 1870 483 1860 600C1850 717 1810 767 1800 800" stroke="#1c8446" stroke-width="170"/><path d="M1200 760L1250 700" stroke="#1c8446" stroke-width="190"/><path d="M1500 700L1600 850" stroke="#1c8446" stroke-width="210"/><path d="M0 100L20 400" stroke="#1c8446" stroke-width="90"/><path d="M200 60L150 150" stroke="#2a78cc" stroke-width="80"/><path d="M450 60C425 117 358 293 300 400C242 507 137 617 100 700C63 783 83 867 80 900" stroke="#2a78cc" stroke-width="80"/><path d="M700 60C683 117 642 293 600 400C558 507 480 608 450 700C420 792 425 908 420 950" stroke="#2a78cc" stroke-width="80"/><path d="M950 60C942 117 933 293 900 400C867 507 783 608 750 700C717 792 708 908 700 950" stroke="#2a78cc" stroke-width="80"/><path d="M1110 60C1110 117 1128 302 1110 400C1092 498 1027 567 1000 650C973 733 958 858 950 900" stroke="#2a78cc" stroke-width="70"/><path d="M1300 60C1300 100 1292 243 1300 300C1308 357 1342 383 1350 400" stroke="#2a78cc" stroke-width="90"/><path d="M1600 60C1603 100 1607 227 1620 300C1633 373 1670 467 1680 500" stroke="#2a78cc" stroke-width="80"/><path d="M1860 100C1860 183 1870 483 1860 600C1850 717 1810 767 1800 800" stroke="#2a78cc" stroke-width="70"/><path d="M1200 760L1250 700" stroke="#2a78cc" stroke-width="80"/><path d="M1500 700L1600 850" stroke="#2a78cc" stroke-width="90"/><path d="M0 100L20 400" stroke="#2a78cc" stroke-width="30"/><path d="M0 1080C150 1077 583 1073 900 1060C1217 1047 1737 1010 1904 1000" stroke="#2462b0" stroke-width="140" opacity="0.9"/><ellipse cx="230" cy="1050" rx="120" ry="90" fill="#d87a9a" stroke="none"/><ellipse cx="280" cy="1190" rx="80" ry="60" fill="#5a8ae0" stroke="none"/><ellipse cx="480" cy="1150" rx="100" ry="100" fill="#2a78cc" stroke="none"/><ellipse cx="650" cy="1100" rx="100" ry="120" fill="#2a78cc" stroke="none"/><ellipse cx="850" cy="1080" rx="100" ry="110" fill="#2a78cc" stroke="none"/><ellipse cx="1030" cy="1050" rx="100" ry="90" fill="#d87a9a" stroke="none"/><ellipse cx="1250" cy="1080" rx="110" ry="100" fill="#d87a9a" stroke="none"/><ellipse cx="1410" cy="1180" rx="80" ry="80" fill="#2a78cc" stroke="none"/><ellipse cx="1650" cy="1030" rx="90" ry="100" fill="#d87a9a" stroke="none"/><ellipse cx="1780" cy="1100" rx="90" ry="90" fill="#2a78cc" stroke="none"/><ellipse cx="230" cy="1050" rx="80" ry="50" fill="#2a78cc" stroke="none"/><ellipse cx="280" cy="1190" rx="50" ry="30" fill="#c88ab0" stroke="none"/><ellipse cx="480" cy="1150" rx="60" ry="60" fill="#1c8446" stroke="none"/><ellipse cx="650" cy="1100" rx="60" ry="80" fill="#1c8446" stroke="none"/><ellipse cx="850" cy="1080" rx="60" ry="70" fill="#1c8446" stroke="none"/><ellipse cx="1030" cy="1050" rx="60" ry="50" fill="#1c8446" stroke="none"/><ellipse cx="1250" cy="1080" rx="70" ry="60" fill="#1c8446" stroke="none"/><ellipse cx="1410" cy="1180" rx="50" ry="50" fill="#1c8446" stroke="none"/><ellipse cx="1650" cy="1030" rx="50" ry="60" fill="#1c8446" stroke="none"/><ellipse cx="1780" cy="1100" rx="55" ry="55" fill="#1c8446" stroke="none"/></g></g></g>
<g transform="translate(74.5 1615.5)" clip-path="url(#cp50)"><rect x="0" y="0" width="281.5" height="195" fill="#fbf6f3"/><g filter="url(#fIHC)"><g transform="scale(0.14785)" fill="none" stroke-linecap="round" stroke-linejoin="round"><rect x="-50" y="-50" width="2004" height="1418.93" fill="#fbf6f3"/><path d="M60 100C67 167 100 367 100 500C100 633 67 833 60 900" stroke="#c595c2" stroke-width="140"/><path d="M250 100C258 125 267 203 300 250C333 297 392 358 450 380C508 402 617 380 650 380" stroke="#c595c2" stroke-width="200"/><path d="M450 80C508 100 700 163 800 200C900 237 1008 283 1050 300" stroke="#c595c2" stroke-width="210"/><path d="M900 60C958 72 1175 110 1250 130C1325 150 1333 172 1350 180" stroke="#c595c2" stroke-width="190"/><path d="M1500 60C1533 83 1658 143 1700 200C1742 257 1742 367 1750 400" stroke="#c595c2" stroke-width="200"/><path d="M1860 100L1870 400" stroke="#c595c2" stroke-width="100"/><path d="M1400 400C1392 433 1408 567 1350 600C1292 633 1092 550 1050 600C1008 650 1092 850 1100 900" stroke="#c595c2" stroke-width="330"/><path d="M770 550C772 608 767 817 780 900C793 983 838 1025 850 1050" stroke="#c595c2" stroke-width="150"/><path d="M280 650C292 692 313 842 350 900C387 958 475 983 500 1000" stroke="#c595c2" stroke-width="210"/><path d="M1750 650L1800 900" stroke="#c595c2" stroke-width="240"/><path d="M100 1100L300 1150" stroke="#c595c2" stroke-width="150"/><ellipse cx="750" cy="1180" rx="90" ry="90" fill="#c595c2" stroke="none"/><ellipse cx="1000" cy="1100" rx="80" ry="120" fill="#c595c2" stroke="none"/><ellipse cx="1350" cy="1100" rx="70" ry="100" fill="#8a5aa8" stroke="none"/><ellipse cx="1500" cy="1130" rx="80" ry="120" fill="#b07ab8" stroke="none"/><ellipse cx="1650" cy="1080" rx="70" ry="80" fill="#b07ab8" stroke="none"/><ellipse cx="1800" cy="1130" rx="90" ry="80" fill="#b07ab8" stroke="none"/><ellipse cx="450" cy="1150" rx="60" ry="100" fill="#c595c2" stroke="none"/><ellipse cx="580" cy="1100" rx="60" ry="100" fill="#c595c2" stroke="none"/><ellipse cx="1180" cy="1080" rx="60" ry="110" fill="#c595c2" stroke="none"/><path d="M60 100C67 167 100 367 100 500C100 633 67 833 60 900" stroke="#f1dde2" stroke-width="60"/><path d="M250 100C258 125 267 203 300 250C333 297 392 358 450 380C508 402 617 380 650 380" stroke="#f1dde2" stroke-width="100"/><path d="M450 80C508 100 700 163 800 200C900 237 1008 283 1050 300" stroke="#f1dde2" stroke-width="110"/><path d="M900 60C958 72 1175 110 1250 130C1325 150 1333 172 1350 180" stroke="#f1dde2" stroke-width="90"/><path d="M1500 60C1533 83 1658 143 1700 200C1742 257 1742 367 1750 400" stroke="#f1dde2" stroke-width="100"/><path d="M1860 100L1870 400" stroke="#f1dde2" stroke-width="30"/><path d="M1400 400C1392 433 1408 567 1350 600C1292 633 1092 550 1050 600C1008 650 1092 850 1100 900" stroke="#f1dde2" stroke-width="220"/><path d="M770 550C772 608 767 817 780 900C793 983 838 1025 850 1050" stroke="#f1dde2" stroke-width="60"/><path d="M280 650C292 692 313 842 350 900C387 958 475 983 500 1000" stroke="#f1dde2" stroke-width="110"/><path d="M1750 650L1800 900" stroke="#f1dde2" stroke-width="130"/><path d="M100 1100L300 1150" stroke="#f1dde2" stroke-width="60"/><ellipse cx="750" cy="1180" rx="55" ry="55" fill="#f1dde2" stroke="none"/><ellipse cx="1000" cy="1100" rx="45" ry="85" fill="#f1dde2" stroke="none"/><ellipse cx="1350" cy="1100" rx="10" ry="40" fill="#8a5aa8" stroke="none"/><ellipse cx="1500" cy="1130" rx="40" ry="80" fill="#e8cfe0" stroke="none"/><ellipse cx="1650" cy="1080" rx="40" ry="50" fill="#e8cfe0" stroke="none"/><ellipse cx="1800" cy="1130" rx="55" ry="45" fill="#e8cfe0" stroke="none"/><ellipse cx="450" cy="1150" rx="30" ry="70" fill="#f1dde2" stroke="none"/><ellipse cx="580" cy="1100" rx="30" ry="70" fill="#f1dde2" stroke="none"/><ellipse cx="1180" cy="1080" rx="30" ry="80" fill="#f1dde2" stroke="none"/><g fill="#b888bc" stroke="none" opacity="0.8"><circle cx="57" cy="159" r="12"/><circle cx="65" cy="149" r="10"/><circle cx="81" cy="113" r="12"/><circle cx="85" cy="152" r="9"/><circle cx="78" cy="262" r="12"/><circle cx="109" cy="402" r="10"/><circle cx="113" cy="411" r="9"/><circle cx="56" cy="746" r="13"/><circle cx="77" cy="702" r="11"/><circle cx="109" cy="623" r="11"/><circle cx="99" cy="589" r="13"/><circle cx="85" cy="782" r="14"/><circle cx="89" cy="512" r="12"/><circle cx="69" cy="866" r="10"/><circle cx="284" cy="151" r="10"/><circle cx="242" cy="183" r="14"/><circle cx="294" cy="177" r="13"/><circle cx="459" cy="362" r="9"/><circle cx="346" cy="343" r="13"/><circle cx="363" cy="283" r="13"/><circle cx="310" cy="299" r="9"/><circle cx="580" cy="401" r="12"/><circle cx="628" cy="344" r="14"/><circle cx="463" cy="411" r="13"/><circle cx="464" cy="417" r="11"/><circle cx="594" cy="133" r="9"/><circle cx="760" cy="217" r="13"/><circle cx="473" cy="66" r="12"/><circle cx="595" cy="114" r="12"/><circle cx="601" cy="106" r="9"/><circle cx="527" cy="123" r="10"/><circle cx="785" cy="180" r="14"/><circle cx="956" cy="247" r="13"/><circle cx="893" cy="215" r="13"/><circle cx="795" cy="242" r="11"/><circle cx="924" cy="265" r="11"/><circle cx="818" cy="174" r="14"/><circle cx="1086" cy="118" r="14"/><circle cx="1023" cy="87" r="12"/><circle cx="1169" cy="76" r="13"/><circle cx="1074" cy="91" r="9"/><circle cx="1131" cy="72" r="11"/><circle cx="962" cy="66" r="11"/><circle cx="1256" cy="119" r="12"/><circle cx="1336" cy="173" r="13"/><circle cx="1576" cy="121" r="9"/><circle cx="1496" cy="103" r="12"/><circle cx="1532" cy="91" r="10"/><circle cx="1671" cy="221" r="13"/><circle cx="1552" cy="132" r="10"/><circle cx="1691" cy="212" r="12"/><circle cx="1748" cy="375" r="11"/><circle cx="1730" cy="340" r="10"/><circle cx="1710" cy="253" r="10"/><circle cx="1861" cy="127" r="11"/><circle cx="1854" cy="152" r="12"/><circle cx="1855" cy="268" r="14"/><circle cx="1877" cy="301" r="11"/><circle cx="1861" cy="215" r="11"/><circle cx="1871" cy="374" r="11"/><circle cx="1385" cy="456" r="13"/><circle cx="1376" cy="557" r="14"/><circle cx="1310" cy="444" r="10"/><circle cx="1424" cy="546" r="9"/><circle cx="1156" cy="621" r="14"/><circle cx="1184" cy="526" r="10"/><circle cx="1137" cy="634" r="12"/><circle cx="1347" cy="653" r="12"/><circle cx="1178" cy="510" r="14"/><circle cx="1098" cy="599" r="14"/><circle cx="1077" cy="720" r="9"/><circle cx="1142" cy="633" r="10"/><circle cx="1151" cy="837" r="13"/><circle cx="1140" cy="617" r="14"/><circle cx="1049" cy="624" r="12"/><circle cx="1050" cy="679" r="11"/><circle cx="792" cy="667" r="8"/><circle cx="754" cy="708" r="14"/><circle cx="761" cy="842" r="12"/><circle cx="797" cy="871" r="10"/><circle cx="785" cy="817" r="9"/><circle cx="792" cy="831" r="13"/><circle cx="784" cy="954" r="12"/><circle cx="837" cy="1025" r="11"/><circle cx="819" cy="1039" r="12"/><circle cx="275" cy="764" r="12"/><circle cx="295" cy="843" r="11"/><circle cx="364" cy="853" r="11"/><circle cx="367" cy="868" r="10"/><circle cx="342" cy="814" r="10"/><circle cx="473" cy="959" r="10"/><circle cx="376" cy="925" r="14"/><circle cx="501" cy="983" r="8"/><circle cx="476" cy="1011" r="9"/><circle cx="1748" cy="684" r="9"/><circle cx="1778" cy="866" r="13"/><circle cx="1819" cy="869" r="13"/><circle cx="1710" cy="708" r="10"/><circle cx="1795" cy="670" r="11"/><circle cx="227" cy="1153" r="9"/><circle cx="259" cy="1131" r="8"/><circle cx="167" cy="1135" r="9"/><circle cx="126" cy="1125" r="13"/><circle cx="795" cy="1177" r="11"/><circle cx="728" cy="1159" r="14"/><circle cx="744" cy="1192" r="14"/><circle cx="739" cy="1199" r="10"/><circle cx="687" cy="1178" r="9"/><circle cx="988" cy="1086" r="13"/><circle cx="1022" cy="1149" r="9"/><circle cx="989" cy="1053" r="9"/><circle cx="1013" cy="1017" r="14"/><circle cx="969" cy="1063" r="9"/><circle cx="996" cy="1038" r="14"/><circle cx="1359" cy="1115" r="10"/><circle cx="1380" cy="1047" r="11"/><circle cx="1313" cy="1093" r="12"/><circle cx="1331" cy="1114" r="10"/><circle cx="1363" cy="1048" r="10"/><circle cx="1530" cy="1122" r="12"/><circle cx="1534" cy="1135" r="12"/><circle cx="1492" cy="1137" r="13"/><circle cx="1496" cy="1185" r="9"/><circle cx="1505" cy="1114" r="9"/><circle cx="1502" cy="1114" r="10"/><circle cx="1656" cy="1075" r="10"/><circle cx="1607" cy="1093" r="11"/><circle cx="1655" cy="1028" r="11"/><circle cx="1639" cy="1116" r="12"/><circle cx="1811" cy="1161" r="13"/><circle cx="1815" cy="1141" r="9"/><circle cx="1781" cy="1134" r="11"/><circle cx="1735" cy="1119" r="10"/><circle cx="1796" cy="1173" r="9"/><circle cx="467" cy="1153" r="13"/><circle cx="461" cy="1164" r="10"/><circle cx="460" cy="1149" r="11"/><circle cx="457" cy="1102" r="11"/><circle cx="438" cy="1157" r="9"/><circle cx="604" cy="1113" r="9"/><circle cx="540" cy="1105" r="10"/><circle cx="602" cy="1127" r="13"/><circle cx="587" cy="1102" r="9"/><circle cx="572" cy="1040" r="9"/><circle cx="1166" cy="1130" r="9"/><circle cx="1191" cy="1005" r="12"/><circle cx="1148" cy="1119" r="10"/><circle cx="1150" cy="1140" r="14"/><circle cx="1177" cy="1124" r="13"/></g><g fill="#a04a5a" stroke="none"><circle cx="85" cy="65" r="22"/></g><g fill="#b888c0" stroke="none"><circle cx="1280" cy="750" r="40"/><circle cx="1250" cy="860" r="30"/></g></g></g></g>
<rect x="75.7" y="1616.7" width="279.1" height="192.6" fill="none" stroke="#161616" stroke-width="2.4"/>
<g transform="translate(362.5 1615.5)" clip-path="url(#cp51)"><rect x="0" y="0" width="281" height="195" fill="#ead6e0"/><g filter="url(#fIHC)"><g transform="scale(0.14758)" fill="none" stroke-linecap="round" stroke-linejoin="round"><rect x="-50" y="-50" width="2004" height="1421.28" fill="#ead6e0"/><path d="M150 100C147 167 122 383 130 500C138 617 188 750 200 800" stroke="#c495c0" stroke-width="45" opacity="0.9"/><path d="M400 80L430 300" stroke="#c495c0" stroke-width="40" opacity="0.8"/><path d="M700 200C692 250 633 417 650 500C667 583 783 633 800 700C817 767 758 867 750 900" stroke="#bf8fbc" stroke-width="50" opacity="0.9"/><path d="M1100 200C1108 250 1133 400 1150 500C1167 600 1192 750 1200 800" stroke="#c495c0" stroke-width="45" opacity="0.9"/><path d="M1400 450C1408 492 1450 617 1450 700C1450 783 1408 908 1400 950" stroke="#c495c0" stroke-width="45" opacity="0.9"/><path d="M1500 100L1650 300" stroke="#c495c0" stroke-width="40" opacity="0.8"/><path d="M1750 200C1758 267 1800 475 1800 600C1800 725 1758 892 1750 950" stroke="#c495c0" stroke-width="45" opacity="0.9"/><path d="M300 850C333 858 458 875 500 900C542 925 542 983 550 1000" stroke="#bf8fbc" stroke-width="50" opacity="0.9"/><path d="M900 950C967 955 1167 972 1300 980C1433 988 1633 997 1700 1000" stroke="#c99cc0" stroke-width="40" opacity="0.8"/><path d="M250 250C262 200 317 158 350 200C383 242 408 440 450 500C492 560 592 510 600 560C608 610 542 768 500 800C458 832 387 800 350 750C313 700 297 583 280 500C263 417 238 300 250 250Z" fill="#f6eee9" stroke="none"/><path d="M900 150C908 208 937 392 950 500C963 608 975 750 980 800" stroke="#f4ece6" stroke-width="85"/><path d="M1150 100C1183 150 1283 300 1350 400C1417 500 1508 617 1550 700C1592 783 1592 867 1600 900" stroke="#f1e6e2" stroke-width="70"/><path d="M560 60L570 250" stroke="#f4ece6" stroke-width="70"/><path d="M1850 250L1880 400" stroke="#efe0d8" stroke-width="90"/><path d="M0 1200C83 1207 333 1223 500 1240C667 1257 917 1290 1000 1300" stroke="#f0dccc" stroke-width="130"/><ellipse cx="120" cy="1020" rx="100" ry="90" fill="#b888b8" stroke="none"/><ellipse cx="340" cy="1040" rx="100" ry="80" fill="#bf8fbc" stroke="none"/><ellipse cx="720" cy="1020" rx="90" ry="110" fill="#bf8fbc" stroke="none"/><ellipse cx="1000" cy="1150" rx="80" ry="100" fill="#bf8fbc" stroke="none"/><ellipse cx="1200" cy="1150" rx="110" ry="120" fill="#bf8fbc" stroke="none"/><ellipse cx="1700" cy="1180" rx="90" ry="80" fill="#bf8fbc" stroke="none"/><ellipse cx="120" cy="1020" rx="40" ry="30" fill="#b888b8" stroke="none"/><ellipse cx="340" cy="1040" rx="70" ry="50" fill="#e8d0d8" stroke="none"/><ellipse cx="720" cy="1020" rx="55" ry="75" fill="#ead8dc" stroke="none"/><ellipse cx="1000" cy="1150" rx="30" ry="50" fill="#c89cc4" stroke="none"/><ellipse cx="1200" cy="1150" rx="75" ry="85" fill="#e4ccd6" stroke="none"/><ellipse cx="1700" cy="1180" rx="60" ry="50" fill="#e4ccd6" stroke="none"/><g fill="#b888bc" stroke="none" opacity="0.8"><circle cx="113" cy="1007" r="9"/><circle cx="95" cy="1003" r="14"/><circle cx="136" cy="962" r="11"/><circle cx="142" cy="983" r="13"/><circle cx="100" cy="1057" r="11"/><circle cx="310" cy="1055" r="11"/><circle cx="352" cy="1052" r="10"/><circle cx="322" cy="1000" r="13"/><circle cx="330" cy="990" r="9"/><circle cx="302" cy="1066" r="9"/><circle cx="756" cy="975" r="11"/><circle cx="734" cy="1024" r="9"/><circle cx="720" cy="1048" r="9"/><circle cx="665" cy="1029" r="13"/><circle cx="678" cy="962" r="12"/><circle cx="734" cy="1024" r="9"/><circle cx="967" cy="1182" r="14"/><circle cx="1019" cy="1184" r="12"/><circle cx="978" cy="1155" r="10"/><circle cx="1020" cy="1087" r="10"/><circle cx="995" cy="1191" r="11"/><circle cx="1192" cy="1135" r="11"/><circle cx="1216" cy="1096" r="9"/><circle cx="1216" cy="1084" r="9"/><circle cx="1183" cy="1103" r="10"/><circle cx="1251" cy="1097" r="14"/><circle cx="1144" cy="1207" r="12"/><circle cx="1688" cy="1184" r="9"/><circle cx="1688" cy="1180" r="13"/><circle cx="1682" cy="1171" r="12"/><circle cx="1672" cy="1172" r="9"/><circle cx="1758" cy="1155" r="13"/></g><g fill="#3a2a5a" stroke="none"><circle cx="205" cy="315" r="22"/></g><g fill="#111" stroke="none"><circle cx="540" cy="410" r="16"/></g><g fill="#222" stroke="none"><circle cx="918" cy="40" r="10"/></g></g></g></g>
<rect x="363.7" y="1616.7" width="278.6" height="192.6" fill="none" stroke="#161616" stroke-width="2.4"/>
<g transform="translate(653.5 1615.5)" clip-path="url(#cp52)"><rect x="0" y="0" width="278.5" height="195" fill="#f2e9e7"/><g filter="url(#fIHC)"><g transform="scale(0.14627)" fill="none" stroke-linecap="round" stroke-linejoin="round"><rect x="-50" y="-50" width="2004" height="1433.14" fill="#f2e9e7"/><path d="M0 0C233 -58 1150 -67 1400 0C1650 67 1416 300 1500 400C1584 500 1837 443 1904 600C1971 757 2088 1217 1904 1340C1720 1463 1034 1413 800 1340C566 1267 633 1065 500 900C367 735 83 500 0 350C-83 200 -233 58 0 0Z" fill="#ecdee0" stroke="none"/><path d="M1450 0C1501 -58 1828 -75 1904 0C1980 75 1955 392 1904 450C1853 508 1676 425 1600 350C1524 275 1399 58 1450 0Z" fill="#f3ebe8" stroke="none"/><path d="M100 80C142 92 300 105 350 150C400 195 392 317 400 350" stroke="#d2c6de" stroke-width="150" opacity="0.9"/><path d="M500 120L800 100" stroke="#c6badb" stroke-width="100" opacity="0.9"/><path d="M550 280L600 330" stroke="#cabedb" stroke-width="140" opacity="0.9"/><path d="M800 250C817 263 833 317 900 330C967 343 1117 338 1200 330C1283 322 1367 288 1400 280" stroke="#c8bcda" stroke-width="70" opacity="0.9"/><path d="M1050 120L1250 150" stroke="#d8cce0" stroke-width="190" opacity="0.9"/><path d="M800 450C817 467 887 522 900 550C913 578 883 608 880 620" stroke="#cbbfdb" stroke-width="100" opacity="0.9"/><path d="M1150 520L1250 430" stroke="#c8bcda" stroke-width="60" opacity="0.9"/><path d="M1250 680C1292 675 1442 647 1500 650C1558 653 1583 692 1600 700" stroke="#d4c6dc" stroke-width="100" opacity="0.9"/><path d="M1000 1000C1033 983 1117 908 1200 900C1283 892 1450 942 1500 950" stroke="#d0c2dc" stroke-width="80" opacity="0.9"/><path d="M900 1150C967 1147 1167 1155 1300 1130C1433 1105 1633 1022 1700 1000" stroke="#d6c6dc" stroke-width="80" opacity="0.9"/><path d="M1500 1200L1904 1050" stroke="#e6d0d4" stroke-width="90" opacity="0.9"/><path d="M1500 600L1904 400" stroke="#ecdcd8" stroke-width="120" opacity="0.9"/><g fill="#9a4a3a" stroke="none"><circle cx="705" cy="375" r="18"/><circle cx="735" cy="425" r="16"/><circle cx="635" cy="475" r="20"/><circle cx="1275" cy="510" r="16"/><circle cx="885" cy="730" r="18"/><circle cx="955" cy="745" r="18"/><circle cx="1020" cy="780" r="18"/><circle cx="1190" cy="795" r="24"/><circle cx="845" cy="860" r="18"/><circle cx="1040" cy="880" r="18"/></g><g fill="#2a1a2a" stroke="none"><circle cx="325" cy="188" r="12"/></g></g></g></g>
<rect x="654.7" y="1616.7" width="276.1" height="192.6" fill="none" stroke="#161616" stroke-width="2.4"/>
<g transform="translate(939 1615.5)" clip-path="url(#cp53)"><rect x="0" y="0" width="279.5" height="195" fill="#fcf8f6"/><g filter="url(#fIHC)"><g transform="scale(0.14680)" fill="none" stroke-linecap="round" stroke-linejoin="round"><rect x="-50" y="-50" width="2004" height="1428.37" fill="#fcf8f6"/><path d="M900 1290C967 1252 1133 1128 1300 1060C1467 992 1803 910 1904 880" stroke="#f5dfcb" stroke-width="170"/><path d="M1200 650C1300 583 1583 558 1700 550C1817 542 1870 558 1904 600C1938 642 1988 750 1904 800C1820 850 1534 875 1400 900C1266 925 1133 992 1100 950C1067 908 1100 717 1200 650Z" fill="#efdde4" stroke="none" opacity="0.9"/><path d="M450 100L480 200" stroke="#d9a3b8" stroke-width="250"/><path d="M850 100L880 180" stroke="#d9a3b8" stroke-width="250"/><path d="M1230 120L1260 250" stroke="#d9a3b8" stroke-width="250"/><path d="M350 330L420 450" stroke="#d9a3b8" stroke-width="280"/><path d="M60 400L50 500" stroke="#d9a3b8" stroke-width="120"/><path d="M240 600L260 900" stroke="#d9a3b8" stroke-width="190"/><path d="M650 380C683 408 792 505 850 550C908 595 975 633 1000 650" stroke="#d9a3b8" stroke-width="260"/><path d="M1150 420C1192 443 1333 522 1400 560C1467 598 1525 635 1550 650" stroke="#d9a3b8" stroke-width="230"/><path d="M1650 200L1700 500" stroke="#d9a3b8" stroke-width="290"/><path d="M520 680C533 717 545 847 600 900C655 953 800 973 850 1000C900 1027 892 1050 900 1060" stroke="#d9a3b8" stroke-width="240"/><path d="M350 1150L400 1320" stroke="#d9a3b8" stroke-width="290"/><path d="M720 1130L730 1200" stroke="#d9a3b8" stroke-width="190"/><path d="M60 1200L80 1340" stroke="#d9a3b8" stroke-width="150"/><path d="M1200 820L1220 880" stroke="#d9a3b8" stroke-width="150"/><path d="M1650 1250L1680 1340" stroke="#d9a3b8" stroke-width="240"/><path d="M450 100L480 200" stroke="#efd9e0" stroke-width="140"/><path d="M850 100L880 180" stroke="#efd9e0" stroke-width="140"/><path d="M1230 120L1260 250" stroke="#efd9e0" stroke-width="140"/><path d="M350 330L420 450" stroke="#efd9e0" stroke-width="170"/><path d="M60 400L50 500" stroke="#efd9e0" stroke-width="40"/><path d="M240 600L260 900" stroke="#efd9e0" stroke-width="90"/><path d="M650 380C683 408 792 505 850 550C908 595 975 633 1000 650" stroke="#efd9e0" stroke-width="150"/><path d="M1150 420C1192 443 1333 522 1400 560C1467 598 1525 635 1550 650" stroke="#efd9e0" stroke-width="120"/><path d="M1650 200L1700 500" stroke="#efd9e0" stroke-width="170"/><path d="M520 680C533 717 545 847 600 900C655 953 800 973 850 1000C900 1027 892 1050 900 1060" stroke="#efd9e0" stroke-width="130"/><path d="M350 1150L400 1320" stroke="#efd9e0" stroke-width="170"/><path d="M720 1130L730 1200" stroke="#efd9e0" stroke-width="90"/><path d="M60 1200L80 1340" stroke="#efd9e0" stroke-width="60"/><path d="M1200 820L1220 880" stroke="#efd9e0" stroke-width="60"/><path d="M1650 1250L1680 1340" stroke="#efd9e0" stroke-width="130"/><g fill="#b888bc" stroke="none" opacity="0.8"><circle cx="462" cy="104" r="14"/><circle cx="474" cy="118" r="13"/><circle cx="875" cy="173" r="14"/><circle cx="872" cy="168" r="9"/><circle cx="1241" cy="176" r="8"/><circle cx="1176" cy="136" r="9"/><circle cx="1294" cy="228" r="13"/><circle cx="353" cy="466" r="13"/><circle cx="433" cy="333" r="11"/><circle cx="372" cy="328" r="11"/><circle cx="55" cy="419" r="14"/><circle cx="53" cy="454" r="13"/><circle cx="219" cy="613" r="9"/><circle cx="227" cy="757" r="8"/><circle cx="228" cy="817" r="10"/><circle cx="225" cy="874" r="9"/><circle cx="230" cy="825" r="10"/><circle cx="273" cy="833" r="12"/><circle cx="773" cy="427" r="13"/><circle cx="776" cy="523" r="14"/><circle cx="695" cy="485" r="12"/><circle cx="866" cy="505" r="9"/><circle cx="812" cy="458" r="13"/><circle cx="942" cy="625" r="14"/><circle cx="870" cy="618" r="14"/><circle cx="867" cy="591" r="10"/><circle cx="914" cy="637" r="11"/><circle cx="1350" cy="519" r="10"/><circle cx="1403" cy="548" r="13"/><circle cx="1353" cy="481" r="13"/><circle cx="1325" cy="565" r="9"/><circle cx="1204" cy="502" r="13"/><circle cx="1391" cy="580" r="10"/><circle cx="1424" cy="523" r="10"/><circle cx="1529" cy="643" r="11"/><circle cx="1665" cy="393" r="9"/><circle cx="1765" cy="481" r="10"/><circle cx="1752" cy="441" r="11"/><circle cx="1739" cy="422" r="13"/><circle cx="1689" cy="323" r="12"/><circle cx="1689" cy="264" r="14"/><circle cx="604" cy="849" r="13"/><circle cx="535" cy="802" r="10"/><circle cx="563" cy="760" r="11"/><circle cx="584" cy="902" r="11"/><circle cx="676" cy="912" r="11"/><circle cx="849" cy="988" r="12"/><circle cx="757" cy="979" r="14"/><circle cx="629" cy="890" r="9"/><circle cx="623" cy="948" r="13"/><circle cx="865" cy="1036" r="12"/><circle cx="933" cy="1031" r="10"/><circle cx="414" cy="1138" r="10"/><circle cx="345" cy="1188" r="10"/><circle cx="367" cy="1189" r="12"/><circle cx="714" cy="1186" r="11"/><circle cx="720" cy="1185" r="12"/><circle cx="79" cy="1233" r="14"/><circle cx="63" cy="1200" r="8"/><circle cx="50" cy="1228" r="9"/><circle cx="1224" cy="861" r="13"/><circle cx="1214" cy="846" r="11"/><circle cx="1705" cy="1291" r="14"/><circle cx="1643" cy="1345" r="12"/></g><g fill="#a0508a" stroke="none"><circle cx="1405" cy="770" r="18"/><circle cx="680" cy="1240" r="18"/></g></g></g></g>
<rect x="940.2" y="1616.7" width="277.1" height="192.6" fill="none" stroke="#161616" stroke-width="2.4"/>
<g transform="translate(74.5 1814)" clip-path="url(#cp60)"><rect x="0" y="0" width="281.5" height="194" fill="#dfe9eb"/><g filter="url(#fGAL)"><g transform="scale(0.14785)" fill="none" stroke-linecap="round" stroke-linejoin="round"><rect x="-50" y="-50" width="2004" height="1412.17" fill="#dfe9eb"/><path d="M80 100C87 167 92 367 120 500C148 633 203 808 250 900C297 992 375 1025 400 1050" stroke="#ead9d7" stroke-width="200" opacity="0.7"/><path d="M430 350L450 650" stroke="#ebdad8" stroke-width="190" opacity="0.65"/><path d="M800 60C808 133 825 377 850 500C875 623 908 725 950 800C992 875 1075 925 1100 950" stroke="#e9d6d4" stroke-width="220" opacity="0.7"/><path d="M1150 200C1183 250 1300 417 1350 500C1400 583 1433 667 1450 700" stroke="#ead8d6" stroke-width="270" opacity="0.7"/><path d="M1700 600L1750 900" stroke="#e9d4d2" stroke-width="260" opacity="0.7"/><path d="M0 1150C150 1143 583 1120 900 1110C1217 1100 1737 1093 1904 1090" stroke="#ead6d4" stroke-width="200" opacity="0.9"/><path d="M600 100L620 500" stroke="#dce8ec" stroke-width="180" opacity="0.9"/><g fill="#a4a8b8" stroke="none" opacity="0.9"><circle cx="595" cy="625" r="28"/><circle cx="870" cy="690" r="24"/><circle cx="420" cy="910" r="24"/></g><g fill="#8a8098" stroke="none"><circle cx="1760" cy="840" r="18"/></g><g fill="#3f7fb4" stroke="none"><circle cx="705" cy="710" r="28"/><circle cx="1685" cy="710" r="30"/><circle cx="1190" cy="975" r="28"/><circle cx="365" cy="1010" r="30"/><circle cx="410" cy="1075" r="26"/><circle cx="780" cy="300" r="16"/></g></g></g></g>
<rect x="75.5" y="1815" width="279.5" height="192" fill="none" stroke="#2e2e2e" stroke-width="2"/>
<g transform="translate(362.5 1814)" clip-path="url(#cp61)"><rect x="0" y="0" width="281" height="194" fill="#dce7e9"/><g filter="url(#fGAL)"><g transform="scale(0.14758)" fill="none" stroke-linecap="round" stroke-linejoin="round"><rect x="-50" y="-50" width="2004" height="1414.51" fill="#dce7e9"/><path d="M0 780C83 738 350 720 500 720C650 720 750 773 900 780C1050 787 1233 782 1400 760C1567 738 1820 643 1904 650C1988 657 1971 762 1904 800C1837 838 1601 858 1500 880C1399 902 1367 930 1300 930C1233 930 1172 868 1100 880C1028 892 928 1002 870 1000C812 998 803 898 750 870C697 842 642 822 550 830C458 838 292 897 200 920C108 943 33 993 0 970C-33 947 -83 822 0 780Z" fill="#e6c8c5" stroke="none"/><path d="M60 250C100 250 227 275 300 250C373 225 467 125 500 100" stroke="#e6c4c0" stroke-width="270"/><path d="M800 60C833 75 950 110 1000 150C1050 190 1083 275 1100 300" stroke="#e6c6c2" stroke-width="200"/><path d="M350 500L450 600" stroke="#e4c6c6" stroke-width="220"/><path d="M620 580C650 563 753 477 800 480C847 483 883 580 900 600" stroke="#e4c0bc" stroke-width="120"/><path d="M1250 350C1283 325 1408 248 1450 200C1492 152 1492 83 1500 60" stroke="#e6c6c2" stroke-width="180"/><path d="M1750 100C1742 133 1717 233 1700 300C1683 367 1658 467 1650 500" stroke="#e6c4c0" stroke-width="300"/><path d="M120 400L280 230" stroke="#e4ecee" stroke-width="30"/><path d="M700 550C703 533 828 492 850 500C872 508 855 592 830 600C805 608 697 567 700 550Z" fill="#dce8ea" stroke="none"/><path d="M1000 350C1025 325 1133 442 1200 450C1267 458 1350 375 1400 400C1450 425 1525 550 1500 600C1475 650 1325 700 1250 700C1175 700 1092 658 1050 600C1008 542 975 375 1000 350Z" fill="#e4e6e8" stroke="none" opacity="0.9"/><g fill="#1a5a8a" stroke="none"><circle cx="580" cy="60" r="24"/></g><g fill="#6a7a9a" stroke="none"><circle cx="545" cy="565" r="16"/><circle cx="1270" cy="160" r="16"/><circle cx="230" cy="140" r="18"/></g></g></g></g>
<rect x="363.5" y="1815" width="279" height="192" fill="none" stroke="#2e2e2e" stroke-width="2"/>
<g transform="translate(653.5 1814)" clip-path="url(#cp62)"><rect x="0" y="0" width="278.5" height="194" fill="#e3dddd"/><g filter="url(#fGAL)"><g transform="scale(0.14627)" fill="none" stroke-linecap="round" stroke-linejoin="round"><rect x="-50" y="-50" width="2004" height="1426.31" fill="#e3dddd"/><path d="M150 60L100 400" stroke="#e2c6c2" stroke-width="200" opacity="0.9"/><path d="M700 300L650 600" stroke="#e2c8c4" stroke-width="200" opacity="0.9"/><path d="M900 100C908 150 950 300 950 400C950 500 908 650 900 700" stroke="#e0c0bc" stroke-width="250" opacity="0.9"/><path d="M1250 100L1300 500" stroke="#e1c3bf" stroke-width="250" opacity="0.9"/><path d="M1700 100L1600 400" stroke="#e2c6c2" stroke-width="250" opacity="0.9"/><path d="M0 1100C150 1092 583 1067 900 1050C1217 1033 1737 1008 1904 1000" stroke="#e6cfcb" stroke-width="300" opacity="0.9"/><path d="M400 100L450 500" stroke="#e6e9eb" stroke-width="200" opacity="0.9"/><path d="M0 800C83 808 350 833 500 850C650 867 833 892 900 900" stroke="#e4e5e7" stroke-width="200" opacity="0.9"/><path d="M1750 300L1800 500" stroke="#e8e9eb" stroke-width="150" opacity="0.9"/><path d="M0 1285L1904 1285" stroke="#dfe6e8" stroke-width="70"/><ellipse cx="570" cy="640" rx="110" ry="130" fill="#c8a0a0" stroke="none"/><ellipse cx="1350" cy="700" rx="150" ry="150" fill="#d8b8b8" stroke="none"/><ellipse cx="570" cy="640" rx="80" ry="100" fill="#dc9a88" stroke="none"/><ellipse cx="1350" cy="700" rx="110" ry="110" fill="#dcc0c0" stroke="none"/><path d="M1040 60C1043 92 1055 185 1060 250C1065 315 1068 417 1070 450" stroke="#8a6a88" stroke-width="55" opacity="0.7"/><path d="M1075 60C1077 92 1084 185 1085 250C1086 315 1081 417 1080 450" stroke="#dce6ec" stroke-width="30"/><path d="M1510 60L1460 240" stroke="#8a6a88" stroke-width="55" opacity="0.7"/><path d="M1500 60L1450 230" stroke="#dce6ec" stroke-width="32"/><path d="M640 30L660 90" stroke="#dde8ee" stroke-width="40"/><g fill="#9a9cc0" stroke="none"><circle cx="750" cy="790" r="30"/></g><g fill="#7a7aa4" stroke="none"><circle cx="1380" cy="800" r="50"/></g><g fill="#4a86a8" stroke="none"><circle cx="60" cy="430" r="45"/><circle cx="230" cy="400" r="35"/><circle cx="320" cy="580" r="30"/><circle cx="190" cy="270" r="20"/><circle cx="80" cy="590" r="22"/><circle cx="260" cy="630" r="20"/><circle cx="1080" cy="800" r="28"/><circle cx="1200" cy="860" r="32"/><circle cx="1560" cy="860" r="26"/><circle cx="1760" cy="710" r="40"/><circle cx="1590" cy="750" r="24"/><circle cx="1350" cy="580" r="24"/><circle cx="620" cy="540" r="18"/><circle cx="1780" cy="590" r="24"/></g></g></g></g>
<rect x="654.5" y="1815" width="276.5" height="192" fill="none" stroke="#2e2e2e" stroke-width="2"/>
<g transform="translate(939 1814)" clip-path="url(#cp63)"><rect x="0" y="0" width="279.5" height="194" fill="#e5e7e9"/><g filter="url(#fGAL)"><g transform="scale(0.14680)" fill="none" stroke-linecap="round" stroke-linejoin="round"><rect x="-50" y="-50" width="2004" height="1421.56" fill="#e5e7e9"/><path d="M80 60C83 133 80 360 100 500C120 640 183 833 200 900" stroke="#e9d8d8" stroke-width="200" opacity="0.75"/><path d="M500 200C517 267 567 483 600 600C633 717 683 850 700 900" stroke="#e9dada" stroke-width="250" opacity="0.7"/><path d="M900 60C917 100 950 210 1000 300C1050 390 1167 550 1200 600" stroke="#ead8d8" stroke-width="250" opacity="0.75"/><path d="M1600 100C1617 167 1675 383 1700 500C1725 617 1742 750 1750 800" stroke="#e9d6d6" stroke-width="250" opacity="0.75"/><path d="M0 1200C150 1188 583 1147 900 1130C1217 1113 1737 1105 1904 1100" stroke="#e9d0d0" stroke-width="200" opacity="0.9"/><path d="M1100 820L1500 800" stroke="#e8cccc" stroke-width="150" opacity="0.8"/><g fill="#8a8aa8" stroke="none"><circle cx="1040" cy="870" r="30"/></g><g fill="#c87a8a" stroke="none"><circle cx="1085" cy="730" r="18"/></g><g fill="#2a4a9a" stroke="none"><circle cx="310" cy="890" r="16"/><circle cx="250" cy="885" r="12"/></g><g fill="#222" stroke="none"><circle cx="1680" cy="1285" r="12"/></g><g fill="#b4bcc8" stroke="none" opacity="0.8"><circle cx="1200" cy="300" r="25"/><circle cx="1700" cy="480" r="30"/><circle cx="680" cy="440" r="25"/><circle cx="780" cy="50" r="20"/></g></g></g></g>
<rect x="940" y="1815" width="277.5" height="192" fill="none" stroke="#2e2e2e" stroke-width="2"/>
<g transform="translate(74.5 2011)" clip-path="url(#cp70)"><rect x="0" y="0" width="281.5" height="186" fill="#cbd3d4"/><g filter="url(#fIHC)"><g transform="scale(0.14785)" fill="none" stroke-linecap="round" stroke-linejoin="round"><rect x="-50" y="-50" width="2004" height="1358.06" fill="#cbd3d4"/><path d="M0 0C317 -183 1587 -150 1904 0C2221 150 1988 725 1904 900C1820 1075 1601 1033 1400 1050C1199 1067 933 992 700 1000C467 1008 117 1267 0 1100C-117 933 -317 183 0 0Z" fill="#d0d0cd" stroke="none" opacity="0.7"/><path d="M1050 -20C1087 -67 1285 -73 1320 -20C1355 33 1297 253 1260 300C1223 347 1135 313 1100 260C1065 207 1013 27 1050 -20Z" fill="#d8e3e5" stroke="none"/><path d="M230 80L170 300" stroke="#978ca6" stroke-width="280"/><path d="M600 60L610 260" stroke="#978ca6" stroke-width="190"/><path d="M860 60L850 330" stroke="#978ca6" stroke-width="260"/><path d="M1500 60L1490 420" stroke="#978ca6" stroke-width="250"/><path d="M1850 100L1830 350" stroke="#978ca6" stroke-width="200"/><path d="M1000 300L1150 350" stroke="#c4bca8" stroke-width="200"/><ellipse cx="430" cy="470" rx="180" ry="190" fill="#978ca6" stroke="none"/><ellipse cx="170" cy="850" rx="200" ry="280" fill="#978ca6" stroke="none"/><ellipse cx="810" cy="830" rx="220" ry="250" fill="#978ca6" stroke="none"/><ellipse cx="1250" cy="850" rx="190" ry="270" fill="#978ca6" stroke="none"/><ellipse cx="1650" cy="720" rx="230" ry="310" fill="#978ca6" stroke="none" transform="rotate(-10 1650 720)"/><path d="M230 80L170 300" stroke="#c8c3b6" stroke-width="85"/><path d="M600 60L610 260" stroke="#c8c3b6" stroke-width="8"/><path d="M860 60L850 330" stroke="#c8c3b6" stroke-width="52"/><path d="M1500 60L1490 420" stroke="#c8c3b6" stroke-width="55"/><path d="M1850 100L1830 350" stroke="#c8c3b6" stroke-width="18"/><path d="M1000 300L1150 350" stroke="#cdc4ac" stroke-width="122"/><ellipse cx="430" cy="470" rx="89" ry="99" fill="#c8c3b6" stroke="none"/><ellipse cx="170" cy="850" rx="96" ry="176" fill="#c8c3b6" stroke="none"/><ellipse cx="810" cy="830" rx="116" ry="146" fill="#c8c3b6" stroke="none"/><ellipse cx="1250" cy="850" rx="92" ry="172" fill="#c8c3b6" stroke="none"/><ellipse cx="1650" cy="720" rx="126" ry="206" fill="#c8c3b6" stroke="none" transform="rotate(-10 1650 720)"/><g fill="#8f8098" stroke="none" opacity="0.8"><circle cx="227" cy="217" r="17"/><circle cx="178" cy="284" r="14"/><circle cx="246" cy="135" r="12"/><circle cx="219" cy="241" r="17"/><circle cx="614" cy="73" r="10"/><circle cx="613" cy="214" r="13"/><circle cx="597" cy="125" r="13"/><circle cx="864" cy="116" r="12"/><circle cx="832" cy="89" r="15"/><circle cx="821" cy="238" r="13"/><circle cx="863" cy="163" r="13"/><circle cx="1535" cy="302" r="13"/><circle cx="1508" cy="253" r="10"/><circle cx="1534" cy="315" r="14"/><circle cx="1538" cy="116" r="11"/><circle cx="1529" cy="84" r="15"/><circle cx="1504" cy="322" r="14"/><circle cx="1841" cy="219" r="16"/><circle cx="1825" cy="176" r="15"/><circle cx="1861" cy="273" r="10"/><circle cx="1857" cy="109" r="16"/><circle cx="1119" cy="382" r="11"/><circle cx="1096" cy="366" r="15"/><circle cx="1132" cy="299" r="11"/><circle cx="458" cy="364" r="16"/><circle cx="315" cy="513" r="11"/><circle cx="547" cy="436" r="12"/><circle cx="505" cy="506" r="15"/><circle cx="415" cy="491" r="12"/><circle cx="443" cy="443" r="16"/><circle cx="430" cy="514" r="11"/><circle cx="553" cy="454" r="12"/><circle cx="257" cy="933" r="16"/><circle cx="272" cy="861" r="16"/><circle cx="79" cy="884" r="15"/><circle cx="174" cy="928" r="14"/><circle cx="85" cy="810" r="12"/><circle cx="223" cy="819" r="15"/><circle cx="227" cy="788" r="10"/><circle cx="175" cy="889" r="11"/><circle cx="217" cy="912" r="12"/><circle cx="69" cy="898" r="15"/><circle cx="144" cy="763" r="14"/><circle cx="772" cy="816" r="14"/><circle cx="761" cy="953" r="15"/><circle cx="815" cy="926" r="13"/><circle cx="802" cy="860" r="10"/><circle cx="938" cy="823" r="13"/><circle cx="780" cy="770" r="15"/><circle cx="936" cy="784" r="13"/><circle cx="963" cy="812" r="10"/><circle cx="736" cy="882" r="12"/><circle cx="778" cy="798" r="15"/><circle cx="829" cy="803" r="15"/><circle cx="1240" cy="988" r="15"/><circle cx="1366" cy="826" r="12"/><circle cx="1245" cy="798" r="15"/><circle cx="1205" cy="887" r="11"/><circle cx="1274" cy="1013" r="10"/><circle cx="1255" cy="910" r="11"/><circle cx="1239" cy="721" r="14"/><circle cx="1310" cy="788" r="10"/><circle cx="1281" cy="959" r="15"/><circle cx="1322" cy="793" r="11"/><circle cx="1514" cy="599" r="12"/><circle cx="1794" cy="631" r="14"/><circle cx="1608" cy="727" r="11"/><circle cx="1761" cy="759" r="15"/><circle cx="1763" cy="714" r="17"/><circle cx="1615" cy="753" r="10"/><circle cx="1626" cy="854" r="17"/><circle cx="1633" cy="795" r="15"/><circle cx="1569" cy="813" r="11"/><circle cx="1747" cy="548" r="15"/><circle cx="1717" cy="681" r="10"/><circle cx="1597" cy="919" r="13"/></g><path d="M0 1130C100 1097 400 1082 600 1080C800 1078 983 1130 1200 1120C1417 1110 1787 993 1904 1020C2021 1047 2221 1237 1904 1280C1587 1323 317 1305 0 1280C-317 1255 -100 1163 0 1130Z" fill="#cdd7da" stroke="none"/><g fill="#7c7490" stroke="none" opacity="0.8"><circle cx="256" cy="1207" r="12"/><circle cx="486" cy="1154" r="10"/><circle cx="1241" cy="1198" r="8"/><circle cx="54" cy="1205" r="10"/><circle cx="1451" cy="1080" r="10"/><circle cx="1374" cy="1114" r="13"/><circle cx="1716" cy="1085" r="8"/><circle cx="1031" cy="1221" r="10"/><circle cx="412" cy="1143" r="8"/><circle cx="422" cy="1146" r="10"/><circle cx="444" cy="1115" r="9"/><circle cx="875" cy="1123" r="8"/><circle cx="1595" cy="1163" r="11"/><circle cx="354" cy="1229" r="12"/><circle cx="230" cy="1130" r="12"/><circle cx="1354" cy="1220" r="10"/><circle cx="1580" cy="1181" r="9"/><circle cx="1119" cy="1212" r="12"/><circle cx="962" cy="1168" r="8"/><circle cx="462" cy="1200" r="10"/><circle cx="329" cy="1162" r="12"/><circle cx="1284" cy="1136" r="10"/><circle cx="968" cy="1197" r="11"/><circle cx="749" cy="1153" r="8"/><circle cx="83" cy="1186" r="13"/><circle cx="1129" cy="1139" r="9"/><circle cx="956" cy="1227" r="12"/><circle cx="1027" cy="1209" r="9"/><circle cx="978" cy="1223" r="11"/><circle cx="874" cy="1120" r="11"/><circle cx="1822" cy="1081" r="12"/><circle cx="1562" cy="1213" r="12"/><circle cx="1541" cy="1158" r="11"/><circle cx="811" cy="1088" r="12"/><circle cx="1085" cy="1110" r="10"/><circle cx="923" cy="1134" r="10"/><circle cx="1025" cy="1174" r="11"/><circle cx="872" cy="1084" r="9"/><circle cx="337" cy="1168" r="12"/><circle cx="1520" cy="1200" r="12"/></g><g fill="#8a80a0" stroke="none" opacity="0.7"><circle cx="682" cy="977" r="9"/><circle cx="334" cy="926" r="13"/><circle cx="568" cy="689" r="12"/><circle cx="543" cy="812" r="9"/><circle cx="472" cy="727" r="13"/><circle cx="698" cy="977" r="12"/><circle cx="478" cy="671" r="9"/><circle cx="311" cy="759" r="10"/><circle cx="452" cy="951" r="12"/><circle cx="524" cy="656" r="9"/><circle cx="430" cy="612" r="11"/><circle cx="699" cy="854" r="9"/><circle cx="657" cy="909" r="13"/><circle cx="663" cy="893" r="13"/><circle cx="442" cy="991" r="14"/><circle cx="364" cy="889" r="13"/><circle cx="485" cy="789" r="11"/><circle cx="670" cy="775" r="13"/><circle cx="442" cy="947" r="14"/><circle cx="484" cy="805" r="14"/><circle cx="590" cy="769" r="10"/><circle cx="430" cy="865" r="9"/><circle cx="663" cy="671" r="14"/><circle cx="424" cy="981" r="13"/><circle cx="502" cy="783" r="12"/></g><g fill="#8a6068" stroke="none" opacity="0.8"><circle cx="770" cy="945" r="22"/><circle cx="1270" cy="680" r="20"/><circle cx="1270" cy="760" r="20"/><circle cx="1270" cy="880" r="20"/><circle cx="860" cy="655" r="18"/><circle cx="450" cy="740" r="20"/></g></g></g></g>
<rect x="75.5" y="2012" width="279.5" height="184" fill="none" stroke="#2e2e2e" stroke-width="2"/>
<g transform="translate(362.5 2011)" clip-path="url(#cp71)"><rect x="0" y="0" width="281" height="186" fill="#d0d9d9"/><g filter="url(#fIHC)"><g transform="scale(0.14758)" fill="none" stroke-linecap="round" stroke-linejoin="round"><rect x="-50" y="-50" width="2004" height="1360.3" fill="#d0d9d9"/><path d="M0 0C317 -175 1587 -167 1904 0C2221 167 1988 820 1904 1000C1820 1180 1601 1070 1400 1080C1199 1090 933 1065 700 1060C467 1055 117 1227 0 1050C-117 873 -317 175 0 0Z" fill="#d4d4d1" stroke="none" opacity="0.65"/><path d="M200 80L220 250" stroke="#aaa2b8" stroke-width="200"/><path d="M500 120C517 117 567 95 600 100C633 105 683 142 700 150" stroke="#aaa2b8" stroke-width="200"/><path d="M450 250C453 283 445 408 470 450C495 492 578 492 600 500" stroke="#aaa2b8" stroke-width="160"/><path d="M900 200C892 233 842 342 850 400C858 458 933 525 950 550" stroke="#aaa2b8" stroke-width="200"/><path d="M1150 100L1100 150" stroke="#aaa2b8" stroke-width="220"/><path d="M1480 180L1460 200" stroke="#c8c4bc" stroke-width="300"/><path d="M1100 450C1150 462 1317 503 1400 520C1483 537 1567 545 1600 550" stroke="#aaa2b8" stroke-width="170"/><path d="M1820 100C1823 167 1843 383 1840 500C1837 617 1807 750 1800 800" stroke="#aaa2b8" stroke-width="180"/><path d="M80 400L100 600" stroke="#aaa2b8" stroke-width="200"/><ellipse cx="210" cy="880" rx="200" ry="220" fill="#aaa2b8" stroke="none"/><ellipse cx="680" cy="860" rx="210" ry="260" fill="#aaa2b8" stroke="none"/><ellipse cx="1250" cy="900" rx="180" ry="220" fill="#aaa2b8" stroke="none"/><ellipse cx="1720" cy="840" rx="230" ry="220" fill="#aaa2b8" stroke="none"/><path d="M200 80L220 250" stroke="#cfcdc4" stroke-width="57"/><path d="M500 120C517 117 567 95 600 100C633 105 683 142 700 150" stroke="#cfcdc4" stroke-width="70"/><path d="M450 250C453 283 445 408 470 450C495 492 578 492 600 500" stroke="#cfcdc4" stroke-width="30"/><path d="M900 200C892 233 842 342 850 400C858 458 933 525 950 550" stroke="#cfcdc4" stroke-width="57"/><path d="M1150 100L1100 150" stroke="#cfcdc4" stroke-width="77"/><path d="M1480 180L1460 200" stroke="#a8a0b4" stroke-width="170"/><path d="M1100 450C1150 462 1317 503 1400 520C1483 537 1567 545 1600 550" stroke="#cfcdc4" stroke-width="27"/><path d="M1820 100C1823 167 1843 383 1840 500C1837 617 1807 750 1800 800" stroke="#cfcdc4" stroke-width="37"/><path d="M80 400L100 600" stroke="#cfcdc4" stroke-width="44"/><ellipse cx="210" cy="880" rx="109" ry="129" fill="#cfcdc4" stroke="none"/><ellipse cx="680" cy="860" rx="119" ry="169" fill="#cfcdc4" stroke="none"/><ellipse cx="1250" cy="900" rx="89" ry="129" fill="#cfcdc4" stroke="none"/><ellipse cx="1720" cy="840" rx="152" ry="142" fill="#cfcdc4" stroke="none"/><g fill="#8f8098" stroke="none" opacity="0.8"><circle cx="238" cy="198" r="10"/><circle cx="187" cy="144" r="12"/><circle cx="210" cy="232" r="13"/><circle cx="562" cy="114" r="13"/><circle cx="584" cy="119" r="13"/><circle cx="611" cy="78" r="11"/><circle cx="671" cy="178" r="12"/><circle cx="487" cy="399" r="16"/><circle cx="435" cy="264" r="14"/><circle cx="454" cy="427" r="13"/><circle cx="487" cy="440" r="16"/><circle cx="566" cy="460" r="15"/><circle cx="932" cy="225" r="16"/><circle cx="864" cy="385" r="15"/><circle cx="913" cy="250" r="15"/><circle cx="904" cy="424" r="16"/><circle cx="885" cy="489" r="16"/><circle cx="939" cy="481" r="11"/><circle cx="1106" cy="142" r="11"/><circle cx="1088" cy="113" r="11"/><circle cx="1414" cy="137" r="11"/><circle cx="1328" cy="499" r="15"/><circle cx="1129" cy="459" r="11"/><circle cx="1132" cy="474" r="10"/><circle cx="1129" cy="476" r="11"/><circle cx="1391" cy="515" r="14"/><circle cx="1527" cy="529" r="12"/><circle cx="1469" cy="514" r="13"/><circle cx="1543" cy="519" r="10"/><circle cx="1828" cy="215" r="11"/><circle cx="1850" cy="121" r="15"/><circle cx="1860" cy="355" r="11"/><circle cx="1811" cy="175" r="13"/><circle cx="1822" cy="127" r="17"/><circle cx="1803" cy="325" r="12"/><circle cx="1809" cy="694" r="14"/><circle cx="1813" cy="761" r="11"/><circle cx="1818" cy="659" r="13"/><circle cx="1832" cy="771" r="15"/><circle cx="1819" cy="708" r="14"/><circle cx="87" cy="574" r="16"/><circle cx="109" cy="453" r="14"/><circle cx="64" cy="407" r="12"/><circle cx="110" cy="906" r="10"/><circle cx="302" cy="959" r="11"/><circle cx="190" cy="843" r="16"/><circle cx="133" cy="810" r="14"/><circle cx="90" cy="866" r="11"/><circle cx="354" cy="847" r="12"/><circle cx="311" cy="880" r="15"/><circle cx="136" cy="783" r="16"/><circle cx="246" cy="855" r="15"/><circle cx="97" cy="848" r="14"/><circle cx="617" cy="963" r="12"/><circle cx="716" cy="994" r="14"/><circle cx="696" cy="879" r="14"/><circle cx="727" cy="888" r="14"/><circle cx="693" cy="978" r="15"/><circle cx="708" cy="922" r="14"/><circle cx="607" cy="863" r="13"/><circle cx="653" cy="769" r="11"/><circle cx="794" cy="918" r="15"/><circle cx="624" cy="935" r="16"/><circle cx="672" cy="772" r="11"/><circle cx="1280" cy="759" r="13"/><circle cx="1160" cy="1022" r="16"/><circle cx="1249" cy="937" r="16"/><circle cx="1224" cy="949" r="16"/><circle cx="1207" cy="987" r="16"/><circle cx="1197" cy="878" r="16"/><circle cx="1243" cy="850" r="17"/><circle cx="1266" cy="847" r="10"/><circle cx="1267" cy="886" r="15"/><circle cx="1791" cy="820" r="11"/><circle cx="1790" cy="903" r="13"/><circle cx="1686" cy="847" r="11"/><circle cx="1647" cy="875" r="12"/><circle cx="1705" cy="901" r="14"/><circle cx="1843" cy="768" r="14"/><circle cx="1709" cy="782" r="11"/><circle cx="1668" cy="768" r="13"/><circle cx="1887" cy="816" r="13"/><circle cx="1855" cy="925" r="16"/></g><path d="M0 1120C100 1095 400 1130 600 1130C800 1130 983 1132 1200 1120C1417 1108 1787 1033 1904 1060C2021 1087 2221 1243 1904 1280C1587 1317 317 1307 0 1280C-317 1253 -100 1145 0 1120Z" fill="#d4dede" stroke="none"/><g fill="#8c86a0" stroke="none" opacity="0.7"><circle cx="453" cy="1147" r="9"/><circle cx="1150" cy="1160" r="7"/><circle cx="25" cy="1194" r="8"/><circle cx="446" cy="1219" r="9"/><circle cx="1593" cy="1136" r="10"/><circle cx="287" cy="1162" r="11"/><circle cx="996" cy="1179" r="10"/><circle cx="122" cy="1181" r="10"/><circle cx="574" cy="1065" r="11"/><circle cx="900" cy="1175" r="11"/><circle cx="1360" cy="1207" r="9"/><circle cx="1525" cy="1131" r="12"/><circle cx="1673" cy="1076" r="8"/><circle cx="413" cy="1214" r="9"/><circle cx="1193" cy="1108" r="10"/><circle cx="735" cy="1116" r="10"/><circle cx="1112" cy="1205" r="10"/><circle cx="1769" cy="1197" r="12"/><circle cx="1278" cy="1086" r="11"/><circle cx="1837" cy="1205" r="10"/><circle cx="1359" cy="1094" r="11"/><circle cx="1092" cy="1106" r="7"/><circle cx="1626" cy="1218" r="7"/><circle cx="1524" cy="1126" r="8"/><circle cx="560" cy="1183" r="11"/><circle cx="84" cy="1158" r="7"/><circle cx="1368" cy="1113" r="11"/><circle cx="1867" cy="1141" r="12"/><circle cx="590" cy="1072" r="10"/><circle cx="60" cy="1092" r="9"/><circle cx="1162" cy="1085" r="7"/><circle cx="1652" cy="1110" r="12"/><circle cx="1707" cy="1120" r="9"/><circle cx="990" cy="1163" r="10"/><circle cx="1065" cy="1159" r="12"/></g><g fill="#8a809c" stroke="none" opacity="0.7"><circle cx="909" cy="646" r="11"/><circle cx="889" cy="630" r="11"/><circle cx="1079" cy="960" r="13"/><circle cx="905" cy="842" r="10"/><circle cx="893" cy="648" r="10"/><circle cx="1082" cy="973" r="13"/><circle cx="1050" cy="687" r="10"/><circle cx="1007" cy="929" r="14"/><circle cx="1070" cy="639" r="12"/><circle cx="1018" cy="828" r="9"/><circle cx="968" cy="640" r="14"/><circle cx="1066" cy="846" r="10"/><circle cx="1077" cy="858" r="14"/><circle cx="1062" cy="829" r="11"/><circle cx="1000" cy="794" r="9"/><circle cx="926" cy="966" r="9"/><circle cx="862" cy="882" r="10"/><circle cx="984" cy="812" r="10"/><circle cx="1099" cy="688" r="11"/><circle cx="901" cy="885" r="10"/><circle cx="939" cy="936" r="10"/><circle cx="990" cy="1007" r="9"/><circle cx="865" cy="703" r="13"/><circle cx="1004" cy="707" r="10"/><circle cx="894" cy="807" r="9"/><circle cx="1024" cy="1003" r="14"/><circle cx="1034" cy="1032" r="9"/><circle cx="922" cy="1035" r="13"/><circle cx="953" cy="1024" r="12"/><circle cx="1054" cy="732" r="10"/></g><g fill="#8a809c" stroke="none" opacity="0.7"><circle cx="375" cy="558" r="13"/><circle cx="438" cy="557" r="14"/><circle cx="256" cy="406" r="14"/><circle cx="380" cy="645" r="9"/><circle cx="344" cy="286" r="12"/><circle cx="365" cy="157" r="10"/><circle cx="306" cy="654" r="13"/><circle cx="282" cy="588" r="9"/><circle cx="373" cy="220" r="8"/><circle cx="424" cy="265" r="10"/><circle cx="446" cy="630" r="10"/><circle cx="442" cy="447" r="12"/><circle cx="291" cy="668" r="13"/><circle cx="443" cy="642" r="10"/></g></g></g></g>
<rect x="363.5" y="2012" width="279" height="184" fill="none" stroke="#2e2e2e" stroke-width="2"/>
<g transform="translate(653.5 2011)" clip-path="url(#cp72)"><rect x="0" y="0" width="278.5" height="186" fill="#cdd6d7"/><g filter="url(#fIHC)"><g transform="scale(0.14627)" fill="none" stroke-linecap="round" stroke-linejoin="round"><rect x="-50" y="-50" width="2004" height="1371.61" fill="#cdd6d7"/><path d="M0 0C317 -158 1587 -158 1904 0C2221 158 1988 775 1904 950C1820 1125 1601 1042 1400 1050C1199 1058 933 1017 700 1000C467 983 117 1117 0 950C-117 783 -317 158 0 0Z" fill="#d0cfcb" stroke="none" opacity="0.7"/><path d="M200 0C295 -50 663 -42 750 0C837 42 748 167 720 250C692 333 642 455 580 500C518 545 417 553 350 520C283 487 205 387 180 300C155 213 105 50 200 0Z" fill="#d3dfe2" stroke="none"/><path d="M1380 0C1456 -30 1817 -17 1904 0C1991 17 1980 70 1904 100C1828 130 1537 197 1450 180C1363 163 1304 30 1380 0Z" fill="#d6e0e2" stroke="none"/><path d="M100 100C97 150 80 300 80 400C80 500 97 650 100 700" stroke="#9f8ea8" stroke-width="220"/><path d="M450 150L420 380" stroke="#c8c0b0" stroke-width="200"/><path d="M900 100C883 150 842 308 800 400C758 492 675 608 650 650" stroke="#9f8ea8" stroke-width="330"/><path d="M1250 150L1300 300" stroke="#9f8ea8" stroke-width="300"/><path d="M1650 250L1700 600" stroke="#9f8ea8" stroke-width="330"/><ellipse cx="1250" cy="600" rx="260" ry="220" fill="#9f8ea8" stroke="none"/><ellipse cx="1110" cy="960" rx="120" ry="120" fill="#9f8ea8" stroke="none"/><ellipse cx="220" cy="820" rx="200" ry="160" fill="#9f8ea8" stroke="none" transform="rotate(20 220 820)"/><ellipse cx="1800" cy="880" rx="110" ry="110" fill="#9f8ea8" stroke="none"/><ellipse cx="980" cy="800" rx="80" ry="120" fill="#9f8ea8" stroke="none"/><path d="M100 100C97 150 80 300 80 400C80 500 97 650 100 700" stroke="#c7c0b4" stroke-width="38"/><path d="M450 150L420 380" stroke="#ccc8bc" stroke-width="148"/><path d="M900 100C883 150 842 308 800 400C758 492 675 608 650 650" stroke="#c7c0b4" stroke-width="96"/><path d="M1250 150L1300 300" stroke="#c7c0b4" stroke-width="66"/><path d="M1650 250L1700 600" stroke="#c7c0b4" stroke-width="96"/><ellipse cx="1250" cy="600" rx="143" ry="103" fill="#c7c0b4" stroke="none"/><ellipse cx="1110" cy="960" rx="55" ry="55" fill="#c7c0b4" stroke="none"/><ellipse cx="220" cy="820" rx="122" ry="82" fill="#c7c0b4" stroke="none" transform="rotate(20 220 820)"/><ellipse cx="1800" cy="880" rx="45" ry="45" fill="#c7c0b4" stroke="none"/><ellipse cx="980" cy="800" rx="28" ry="68" fill="#c7c0b4" stroke="none"/><g fill="#8f8098" stroke="none" opacity="0.8"><circle cx="82" cy="374" r="14"/><circle cx="119" cy="208" r="12"/><circle cx="122" cy="154" r="11"/><circle cx="96" cy="110" r="11"/><circle cx="96" cy="287" r="16"/><circle cx="75" cy="598" r="14"/><circle cx="65" cy="628" r="17"/><circle cx="97" cy="448" r="12"/><circle cx="66" cy="465" r="16"/><circle cx="104" cy="418" r="16"/><circle cx="503" cy="181" r="16"/><circle cx="506" cy="223" r="14"/><circle cx="460" cy="195" r="12"/><circle cx="366" cy="330" r="17"/><circle cx="799" cy="232" r="15"/><circle cx="827" cy="259" r="14"/><circle cx="838" cy="384" r="16"/><circle cx="802" cy="350" r="13"/><circle cx="814" cy="173" r="13"/><circle cx="738" cy="383" r="14"/><circle cx="785" cy="543" r="13"/><circle cx="609" cy="610" r="11"/><circle cx="702" cy="444" r="15"/><circle cx="758" cy="559" r="14"/><circle cx="1296" cy="141" r="15"/><circle cx="1207" cy="177" r="11"/><circle cx="1267" cy="153" r="12"/><circle cx="1707" cy="579" r="12"/><circle cx="1703" cy="430" r="10"/><circle cx="1631" cy="266" r="13"/><circle cx="1589" cy="261" r="14"/><circle cx="1695" cy="414" r="16"/><circle cx="1730" cy="367" r="16"/><circle cx="1096" cy="520" r="12"/><circle cx="1282" cy="597" r="12"/><circle cx="1309" cy="669" r="15"/><circle cx="1142" cy="609" r="14"/><circle cx="1325" cy="750" r="11"/><circle cx="1114" cy="651" r="15"/><circle cx="1316" cy="669" r="13"/><circle cx="1200" cy="623" r="15"/><circle cx="1158" cy="612" r="15"/><circle cx="1152" cy="638" r="13"/><circle cx="1259" cy="544" r="10"/><circle cx="1089" cy="993" r="10"/><circle cx="1067" cy="930" r="11"/><circle cx="1086" cy="950" r="14"/><circle cx="1121" cy="1024" r="12"/><circle cx="1162" cy="897" r="10"/><circle cx="1132" cy="951" r="16"/><circle cx="261" cy="800" r="14"/><circle cx="306" cy="915" r="12"/><circle cx="186" cy="772" r="11"/><circle cx="253" cy="848" r="16"/><circle cx="216" cy="869" r="15"/><circle cx="298" cy="812" r="12"/><circle cx="225" cy="765" r="12"/><circle cx="176" cy="779" r="17"/><circle cx="1771" cy="918" r="11"/><circle cx="1814" cy="864" r="16"/><circle cx="1799" cy="810" r="15"/><circle cx="1866" cy="910" r="17"/><circle cx="1836" cy="907" r="14"/><circle cx="976" cy="722" r="15"/><circle cx="932" cy="766" r="14"/><circle cx="949" cy="821" r="14"/><circle cx="961" cy="827" r="14"/><circle cx="990" cy="802" r="14"/></g><path d="M400 900C442 870 567 820 650 820C733 820 850 862 900 900C950 938 1000 1020 950 1050C900 1080 692 1088 600 1080C508 1072 433 1030 400 1000C367 970 358 930 400 900Z" fill="#cfc6ac" stroke="none" opacity="0.7"/><path d="M0 1050C100 1018 400 1088 600 1100C800 1112 983 1145 1200 1120C1417 1095 1787 922 1904 950C2021 978 2221 1233 1904 1290C1587 1347 317 1330 0 1290C-317 1250 -100 1082 0 1050Z" fill="#d0dadc" stroke="none"/><ellipse cx="260" cy="1110" rx="75" ry="55" fill="#8a7a6a" stroke="none"/><ellipse cx="260" cy="1110" rx="57" ry="37" fill="#d4dede" stroke="none"/><g fill="#8f8098" stroke="none" opacity="0.8"><circle cx="218" cy="1100" r="15"/><circle cx="274" cy="1098" r="17"/><circle cx="220" cy="1097" r="15"/></g><g fill="#8e88a2" stroke="none" opacity="0.7"><circle cx="1511" cy="1201" r="10"/><circle cx="498" cy="1020" r="11"/><circle cx="895" cy="1187" r="10"/><circle cx="1466" cy="1080" r="12"/><circle cx="1390" cy="1111" r="11"/><circle cx="1299" cy="1062" r="11"/><circle cx="1533" cy="1078" r="12"/><circle cx="1306" cy="1206" r="10"/><circle cx="177" cy="1196" r="12"/><circle cx="848" cy="1041" r="9"/><circle cx="1209" cy="1084" r="13"/><circle cx="1121" cy="1064" r="11"/><circle cx="686" cy="1225" r="13"/><circle cx="980" cy="1162" r="12"/><circle cx="1534" cy="1235" r="8"/><circle cx="688" cy="1152" r="9"/><circle cx="1122" cy="1040" r="13"/><circle cx="1000" cy="1046" r="11"/><circle cx="595" cy="1063" r="10"/><circle cx="263" cy="1066" r="12"/><circle cx="1329" cy="1023" r="12"/><circle cx="32" cy="1093" r="13"/><circle cx="1181" cy="1087" r="10"/><circle cx="741" cy="1048" r="13"/><circle cx="102" cy="1113" r="12"/><circle cx="757" cy="1236" r="9"/><circle cx="1865" cy="1216" r="11"/><circle cx="1694" cy="1118" r="12"/><circle cx="1516" cy="1134" r="10"/><circle cx="1344" cy="1110" r="8"/></g><g fill="#8a88a8" stroke="none" opacity="0.7"><circle cx="830" cy="341" r="12"/><circle cx="729" cy="572" r="11"/><circle cx="723" cy="554" r="9"/><circle cx="873" cy="292" r="9"/><circle cx="870" cy="746" r="9"/><circle cx="789" cy="626" r="14"/><circle cx="931" cy="488" r="14"/><circle cx="719" cy="765" r="10"/><circle cx="758" cy="321" r="10"/><circle cx="1026" cy="358" r="12"/><circle cx="956" cy="473" r="12"/><circle cx="725" cy="286" r="10"/><circle cx="972" cy="507" r="10"/><circle cx="934" cy="522" r="10"/><circle cx="1018" cy="669" r="10"/><circle cx="930" cy="565" r="14"/><circle cx="992" cy="423" r="14"/><circle cx="747" cy="501" r="13"/><circle cx="761" cy="543" r="9"/><circle cx="967" cy="709" r="12"/><circle cx="1050" cy="438" r="13"/><circle cx="938" cy="598" r="11"/></g></g></g></g>
<rect x="654.5" y="2012" width="276.5" height="184" fill="none" stroke="#2e2e2e" stroke-width="2"/>
<g transform="translate(939 2011)" clip-path="url(#cp73)"><rect x="0" y="0" width="279.5" height="186" fill="#cfd6d6"/><g filter="url(#fIHC)"><g transform="scale(0.14680)" fill="none" stroke-linecap="round" stroke-linejoin="round"><rect x="-50" y="-50" width="2004" height="1367.06" fill="#cfd6d6"/><path d="M0 0C317 -175 1587 -167 1904 0C2221 167 1988 830 1904 1000C1820 1170 1601 1013 1400 1020C1199 1027 933 1035 700 1040C467 1045 117 1223 0 1050C-117 877 -317 175 0 0Z" fill="#d1d0cd" stroke="none" opacity="0.7"/><path d="M60 100L50 400" stroke="#aaa2b8" stroke-width="150"/><path d="M320 60C323 100 343 227 340 300C337 373 307 467 300 500" stroke="#978ca6" stroke-width="200"/><path d="M600 60C603 117 612 310 620 400C628 490 645 567 650 600" stroke="#978ca6" stroke-width="200"/><path d="M880 80L880 450" stroke="#978ca6" stroke-width="190"/><path d="M1150 60C1152 117 1152 307 1160 400C1168 493 1193 583 1200 620" stroke="#978ca6" stroke-width="200"/><path d="M1500 100C1497 150 1488 313 1480 400C1472 487 1455 583 1450 620" stroke="#978ca6" stroke-width="210"/><path d="M1780 250L1760 600" stroke="#978ca6" stroke-width="220"/><path d="M60 100L50 400" stroke="#cfcdc4" stroke-width="20"/><path d="M320 60C323 100 343 227 340 300C337 373 307 467 300 500" stroke="#c8c3b6" stroke-width="44"/><path d="M600 60C603 117 612 310 620 400C628 490 645 567 650 600" stroke="#c8c3b6" stroke-width="44"/><path d="M880 80L880 450" stroke="#c8c3b6" stroke-width="34"/><path d="M1150 60C1152 117 1152 307 1160 400C1168 493 1193 583 1200 620" stroke="#c8c3b6" stroke-width="44"/><path d="M1500 100C1497 150 1488 313 1480 400C1472 487 1455 583 1450 620" stroke="#c8c3b6" stroke-width="54"/><path d="M1780 250L1760 600" stroke="#c8c3b6" stroke-width="64"/><g fill="#8f8098" stroke="none" opacity="0.8"><circle cx="50" cy="243" r="13"/><circle cx="71" cy="377" r="17"/><circle cx="40" cy="311" r="15"/><circle cx="45" cy="160" r="14"/><circle cx="43" cy="144" r="13"/><circle cx="362" cy="231" r="15"/><circle cx="349" cy="59" r="11"/><circle cx="315" cy="71" r="11"/><circle cx="303" cy="109" r="15"/><circle cx="343" cy="383" r="15"/><circle cx="327" cy="412" r="12"/><circle cx="326" cy="373" r="11"/><circle cx="602" cy="60" r="11"/><circle cx="616" cy="78" r="15"/><circle cx="648" cy="340" r="15"/><circle cx="582" cy="164" r="16"/><circle cx="596" cy="162" r="14"/><circle cx="596" cy="452" r="14"/><circle cx="672" cy="586" r="12"/><circle cx="661" cy="582" r="12"/><circle cx="861" cy="181" r="12"/><circle cx="903" cy="127" r="16"/><circle cx="899" cy="101" r="12"/><circle cx="860" cy="288" r="17"/><circle cx="870" cy="255" r="12"/><circle cx="907" cy="271" r="15"/><circle cx="1144" cy="242" r="16"/><circle cx="1126" cy="341" r="15"/><circle cx="1163" cy="97" r="14"/><circle cx="1159" cy="103" r="13"/><circle cx="1157" cy="106" r="15"/><circle cx="1187" cy="606" r="14"/><circle cx="1135" cy="444" r="15"/><circle cx="1189" cy="552" r="14"/><circle cx="1177" cy="416" r="10"/><circle cx="1491" cy="397" r="14"/><circle cx="1487" cy="326" r="17"/><circle cx="1481" cy="394" r="10"/><circle cx="1483" cy="335" r="10"/><circle cx="1478" cy="317" r="17"/><circle cx="1469" cy="533" r="11"/><circle cx="1457" cy="433" r="16"/><circle cx="1465" cy="476" r="11"/><circle cx="1501" cy="403" r="11"/><circle cx="1798" cy="540" r="11"/><circle cx="1737" cy="396" r="12"/><circle cx="1752" cy="358" r="13"/><circle cx="1761" cy="569" r="12"/><circle cx="1753" cy="563" r="13"/><circle cx="1778" cy="541" r="11"/></g><path d="M180 60C182 92 182 205 190 250C198 295 223 317 230 330" stroke="#d6dede" stroke-width="40"/><path d="M680 40C690 75 727 170 740 250C753 330 757 475 760 520" stroke="#d9e3e5" stroke-width="50"/><path d="M1310 40C1312 83 1317 220 1320 300C1323 380 1328 483 1330 520" stroke="#d9e3e5" stroke-width="50"/><ellipse cx="220" cy="840" rx="150" ry="200" fill="#978ca6" stroke="none"/><ellipse cx="960" cy="800" rx="190" ry="250" fill="#978ca6" stroke="none"/><ellipse cx="1750" cy="820" rx="160" ry="180" fill="#978ca6" stroke="none"/><ellipse cx="480" cy="930" rx="120" ry="120" fill="#9a84a0" stroke="none"/><path d="M50 700L40 900" stroke="#978ca6" stroke-width="100"/><ellipse cx="220" cy="840" rx="66" ry="116" fill="#c8c3b6" stroke="none"/><ellipse cx="960" cy="800" rx="92" ry="152" fill="#c8c3b6" stroke="none"/><ellipse cx="1750" cy="820" rx="82" ry="102" fill="#c8c3b6" stroke="none"/><ellipse cx="480" cy="930" rx="42" ry="42" fill="#a08ca4" stroke="none"/><g fill="#8f8098" stroke="none" opacity="0.8"><circle cx="179" cy="860" r="16"/><circle cx="197" cy="843" r="15"/><circle cx="251" cy="861" r="10"/><circle cx="153" cy="747" r="14"/><circle cx="237" cy="968" r="16"/><circle cx="200" cy="889" r="15"/><circle cx="322" cy="816" r="16"/><circle cx="212" cy="792" r="14"/><circle cx="872" cy="856" r="13"/><circle cx="995" cy="964" r="10"/><circle cx="928" cy="866" r="17"/><circle cx="1027" cy="880" r="16"/><circle cx="858" cy="687" r="13"/><circle cx="900" cy="832" r="12"/><circle cx="944" cy="830" r="17"/><circle cx="949" cy="665" r="14"/><circle cx="974" cy="859" r="17"/><circle cx="994" cy="711" r="15"/><circle cx="1770" cy="814" r="12"/><circle cx="1708" cy="853" r="14"/><circle cx="1742" cy="851" r="16"/><circle cx="1662" cy="871" r="11"/><circle cx="1726" cy="891" r="10"/><circle cx="1720" cy="840" r="13"/><circle cx="1724" cy="925" r="13"/><circle cx="1749" cy="907" r="13"/><circle cx="493" cy="1002" r="14"/><circle cx="534" cy="934" r="13"/><circle cx="555" cy="975" r="14"/><circle cx="529" cy="928" r="13"/><circle cx="515" cy="983" r="13"/><circle cx="513" cy="1000" r="14"/><circle cx="41" cy="717" r="13"/><circle cx="42" cy="885" r="10"/><circle cx="46" cy="810" r="15"/></g><path d="M0 1050C100 1010 400 1048 600 1040C800 1032 983 1003 1200 1000C1417 997 1787 973 1904 1020C2021 1067 2221 1237 1904 1280C1587 1323 317 1318 0 1280C-317 1242 -100 1090 0 1050Z" fill="#d0dadc" stroke="none"/><g fill="#807890" stroke="none" opacity="0.8"><circle cx="432" cy="1221" r="8"/><circle cx="1342" cy="1020" r="8"/><circle cx="1902" cy="1048" r="10"/><circle cx="874" cy="1104" r="9"/><circle cx="366" cy="1191" r="7"/><circle cx="446" cy="1005" r="8"/><circle cx="776" cy="1207" r="9"/><circle cx="217" cy="1059" r="12"/><circle cx="120" cy="1143" r="9"/><circle cx="1258" cy="1078" r="10"/><circle cx="947" cy="1149" r="12"/><circle cx="1107" cy="1033" r="7"/><circle cx="1801" cy="1112" r="8"/><circle cx="1801" cy="1133" r="11"/><circle cx="1677" cy="1066" r="9"/><circle cx="1672" cy="1031" r="11"/><circle cx="186" cy="1159" r="11"/><circle cx="1809" cy="1194" r="10"/><circle cx="376" cy="1035" r="10"/><circle cx="971" cy="1016" r="12"/><circle cx="966" cy="1161" r="8"/><circle cx="464" cy="1003" r="9"/><circle cx="508" cy="1097" r="9"/><circle cx="1589" cy="1205" r="8"/><circle cx="754" cy="1038" r="10"/><circle cx="1856" cy="1046" r="11"/><circle cx="571" cy="1003" r="11"/><circle cx="651" cy="1039" r="9"/><circle cx="441" cy="1094" r="9"/><circle cx="796" cy="1135" r="8"/><circle cx="181" cy="1020" r="8"/><circle cx="992" cy="1083" r="11"/><circle cx="961" cy="1163" r="12"/><circle cx="120" cy="1004" r="8"/><circle cx="736" cy="1132" r="11"/><circle cx="669" cy="1222" r="7"/><circle cx="1591" cy="1048" r="11"/><circle cx="63" cy="1222" r="11"/><circle cx="1886" cy="1133" r="8"/><circle cx="1847" cy="1102" r="7"/><circle cx="1153" cy="1114" r="9"/><circle cx="294" cy="1028" r="10"/><circle cx="862" cy="1029" r="9"/><circle cx="1381" cy="1165" r="9"/><circle cx="750" cy="1083" r="8"/></g><g fill="#8a809c" stroke="none" opacity="0.7"><circle cx="558" cy="511" r="9"/><circle cx="740" cy="255" r="11"/><circle cx="754" cy="307" r="12"/><circle cx="627" cy="279" r="11"/><circle cx="667" cy="566" r="13"/><circle cx="421" cy="417" r="9"/><circle cx="578" cy="897" r="12"/><circle cx="698" cy="519" r="13"/><circle cx="396" cy="454" r="12"/><circle cx="677" cy="545" r="9"/><circle cx="470" cy="397" r="10"/><circle cx="714" cy="390" r="14"/><circle cx="746" cy="288" r="11"/><circle cx="571" cy="266" r="11"/><circle cx="758" cy="328" r="12"/><circle cx="405" cy="655" r="14"/><circle cx="441" cy="256" r="9"/><circle cx="593" cy="262" r="9"/><circle cx="574" cy="895" r="11"/><circle cx="529" cy="697" r="9"/><circle cx="611" cy="371" r="12"/><circle cx="781" cy="288" r="12"/><circle cx="623" cy="355" r="10"/><circle cx="798" cy="949" r="9"/><circle cx="667" cy="916" r="10"/></g><g fill="#8a809c" stroke="none" opacity="0.7"><circle cx="1479" cy="750" r="12"/><circle cx="1332" cy="885" r="13"/><circle cx="1511" cy="656" r="12"/><circle cx="1381" cy="687" r="14"/><circle cx="1649" cy="616" r="14"/><circle cx="1491" cy="734" r="10"/><circle cx="1520" cy="760" r="13"/><circle cx="1515" cy="647" r="13"/><circle cx="1643" cy="939" r="12"/><circle cx="1268" cy="601" r="9"/><circle cx="1626" cy="706" r="11"/><circle cx="1609" cy="710" r="12"/><circle cx="1424" cy="623" r="12"/><circle cx="1588" cy="655" r="10"/><circle cx="1415" cy="613" r="11"/><circle cx="1577" cy="830" r="12"/><circle cx="1592" cy="652" r="12"/><circle cx="1400" cy="810" r="9"/><circle cx="1560" cy="634" r="9"/><circle cx="1573" cy="932" r="11"/></g><g fill="#9a6a3a" stroke="none"><circle cx="345" cy="598" r="16"/><circle cx="1220" cy="800" r="18"/></g></g></g></g>
<rect x="940" y="2012" width="277.5" height="184" fill="none" stroke="#2e2e2e" stroke-width="2"/>
<text x="348.7" y="591.3" text-anchor="middle" font-size="22.4">Young</text>
<text x="931.8" y="591.3" text-anchor="middle" font-size="22.4">Old</text>
<line x1="64.2" y1="600.8" x2="638.7" y2="600.8" stroke="#333" stroke-width="1.6"/>
<line x1="646.4" y1="600.8" x2="1216.8" y2="600.8" stroke="#333" stroke-width="1.6"/>
<text x="212" y="622" text-anchor="middle" font-size="22.4">UT</text>
<text x="500.5" y="622" text-anchor="middle" font-size="22.4">m.uPAR-m.28z</text>
<text x="785.9" y="622" text-anchor="middle" font-size="22.4">UT</text>
<text x="1085.7" y="622" text-anchor="middle" font-size="22.4">m.uPAR-m.28z</text>
<line x1="41.5" y1="619.5" x2="41.5" y2="1012.5" stroke="#333" stroke-width="2"/>
<line x1="41.5" y1="1023.7" x2="41.5" y2="1404" stroke="#333" stroke-width="2"/>
<line x1="41.5" y1="1417" x2="41.5" y2="2206" stroke="#333" stroke-width="2"/>
<text x="31" y="811" text-anchor="middle" transform="rotate(-90 31 811)" fill="#000" font-size="22.3">Day 2</text>
<text x="31" y="1205" text-anchor="middle" transform="rotate(-90 31 1205)" fill="#000" font-size="22.3">Day 4</text>
<text x="31" y="1803.5" text-anchor="middle" transform="rotate(-90 31 1803.5)" fill="#000" font-size="22.3">Day 6</text>
<text x="65" y="809.5" transform="rotate(-90 65 809.5)" font-size="22.6"><tspan fill="#1f9d62">Epcam</tspan>;<tspan fill="#d02a3e">EdU</tspan>;<tspan fill="#3a4ea8">DAPI</tspan></text>
<text x="65" y="1208" transform="rotate(-90 65 1208)" font-size="22.6"><tspan fill="#1f9d62">Epcam</tspan>;<tspan fill="#d02a3e">EdU</tspan>;<tspan fill="#3a4ea8">DAPI</tspan></text>
<text x="65" y="1601" transform="rotate(-90 65 1601)" font-size="22.6"><tspan fill="#1f9d62">Epcam</tspan>;<tspan fill="#d02a3e">EdU</tspan>;<tspan fill="#3a4ea8">DAPI</tspan></text>
<text x="65.5" y="1015.8" transform="rotate(-90 65.5 1015.8)" font-size="22.6">Cleaved Caspase 3</text>
<text x="65.5" y="1409" transform="rotate(-90 65.5 1409)" font-size="22.6">Cleaved Caspase 3</text>
<text x="65.5" y="1816" transform="rotate(-90 65.5 1816)" font-size="22.6">Cleaved Caspase 3</text>
<text x="65.5" y="1955" transform="rotate(-90 65.5 1955)" font-size="22.6">SA-β-Gal</text>
<text x="65.5" y="2136.3" transform="rotate(-90 65.5 2136.3)" font-size="22.6">uPAR</text>
<line x1="1180.8" y1="633.3" x2="1208.4" y2="633.3" stroke="#fff" stroke-width="1.8"/>
<text x="1154.6" y="651.4" fill="#fff" font-size="22.5">50µm</text>
<line x1="1177.4" y1="827.8" x2="1205.8" y2="827.8" stroke="#111" stroke-width="1.8"/>
<text x="1156.6" y="848.6" font-size="22.5">50µm</text>
<line x1="1185" y1="1026" x2="1212" y2="1026" stroke="#fff" stroke-width="1.8"/>
<text x="1160" y="1045" fill="#fff" font-size="22.5">50µm</text>
<line x1="1183.3" y1="1222.9" x2="1211" y2="1222.9" stroke="#111" stroke-width="1.8"/>
<text x="1158.3" y="1243.7" font-size="22.5">50µm</text>
<line x1="1181.5" y1="1420.8" x2="1205.8" y2="1420.8" stroke="#fff" stroke-width="1.8"/>
<text x="1156.6" y="1442.6" fill="#fff" font-size="22.5">50µm</text>
<line x1="1185" y1="1621.8" x2="1206.8" y2="1621.8" stroke="#111" stroke-width="1.8"/>
<text x="1159" y="1640.9" font-size="22.5">50µm</text>
<line x1="1176.3" y1="1822.3" x2="1209.3" y2="1822.3" stroke="#111" stroke-width="1.8"/>
<text x="1156.6" y="1844" font-size="22.5">50µm</text>
<line x1="1168.7" y1="2018.5" x2="1206.5" y2="2018.5" stroke="#111" stroke-width="1.8"/>
<text x="1155.5" y="2038.2" font-size="22.5">50µm</text>
<g id="mouse1">
<path d="M72 76C55 78 46 92 50 100C56 112 84 108 104 100C112 97 120 98 124 99" stroke="#b08a86" stroke-width="4" fill="none" stroke-linecap="round"/>
<path d="M86 92L96 100M150 84L156 96L168 98" stroke="#b08a86" stroke-width="4" fill="none" stroke-linecap="round"/>
<path d="M70 74C72 50 100 38 130 38C145 36 150 30 156 32C162 33 163 40 168 42C178 46 186 52 184 58C180 64 166 64 158 70C154 78 150 84 140 86C128 84 118 82 108 86C92 88 72 88 70 74Z" fill="#444144"/>
<ellipse cx="150" cy="33" rx="4.5" ry="5" fill="#444144"/>
<ellipse cx="147" cy="45" rx="4.5" ry="6.5" fill="#b58a8a"/>
<circle cx="167" cy="48" r="1.6" fill="#111"/>
</g>
<g id="mouse2">
<path d="M278 84C260 82 240 78 225 82C212 86 207 98 209 108" stroke="#a98783" stroke-width="4.5" fill="none" stroke-linecap="round"/>
<path d="M296 92L312 94M344 90L356 94" stroke="#b08a86" stroke-width="4" fill="none" stroke-linecap="round"/>
<path d="M276 82C276 56 296 36 326 32C340 32 346 40 354 42C362 38 368 40 370 48C380 56 390 66 388 74C384 80 372 78 364 80C358 86 352 92 340 90C320 90 300 92 288 88C280 86 276 84 276 82Z" fill="#47474a"/>
<ellipse cx="352" cy="49" rx="5" ry="8" fill="#b58a8a"/>
<ellipse cx="364" cy="41" rx="3" ry="4" fill="#b58a8a"/>
<ellipse cx="335" cy="55" rx="6" ry="3.5" fill="#9b7b7b"/>
<ellipse cx="350" cy="67" rx="4" ry="3" fill="#9b7b7b"/>
<ellipse cx="294" cy="82" rx="5" ry="3" fill="#9b7b7b"/>
<ellipse cx="382" cy="72" rx="6" ry="5" fill="#a88587"/>
<circle cx="371" cy="62" r="1.6" fill="#111"/>
</g>
<text x="124.5" y="128.5" text-anchor="middle" font-size="22.3">3 months</text>
<text x="321.5" y="128.5" text-anchor="middle" font-size="22.3">18 months</text>
<line x1="152.5" y1="137" x2="184.5" y2="169.5" stroke="#111" stroke-width="1.6"/>
<line x1="262.5" y1="137" x2="231.5" y2="169.5" stroke="#111" stroke-width="1.6"/>
<g id="cart">
<g transform="rotate(0 81 218)"><rect x="73" y="158" width="6.5" height="27" rx="3" fill="#6e9fc4"/><rect x="82.5" y="158" width="6.5" height="27" rx="3" fill="#6e9fc4"/></g>
<g transform="rotate(55 81 218)"><rect x="73" y="158" width="6.5" height="27" rx="3" fill="#6e9fc4"/><rect x="82.5" y="158" width="6.5" height="27" rx="3" fill="#6e9fc4"/></g>
<g transform="rotate(125 81 218)"><rect x="73" y="158" width="6.5" height="27" rx="3" fill="#6e9fc4"/><rect x="82.5" y="158" width="6.5" height="27" rx="3" fill="#6e9fc4"/></g>
<g transform="rotate(180 81 218)"><rect x="73" y="158" width="6.5" height="27" rx="3" fill="#6e9fc4"/><rect x="82.5" y="158" width="6.5" height="27" rx="3" fill="#6e9fc4"/></g>
<g transform="rotate(235 81 218)"><rect x="73" y="158" width="6.5" height="27" rx="3" fill="#6e9fc4"/><rect x="82.5" y="158" width="6.5" height="27" rx="3" fill="#6e9fc4"/></g>
<g transform="rotate(305 81 218)"><rect x="73" y="158" width="6.5" height="27" rx="3" fill="#6e9fc4"/><rect x="82.5" y="158" width="6.5" height="27" rx="3" fill="#6e9fc4"/></g>
<circle cx="81" cy="218" r="30" fill="#e58388"/>
<circle cx="81" cy="219" r="18" fill="#dd7a80"/>
</g>
<text x="44" y="225" font-size="22.3">0.5x10<tspan dy="-9" font-size="13">6</tspan></text>
<path d="M144.5 185.5H138V249H144.5M138 217.3H130" stroke="#111" stroke-width="1.6" fill="none"/>
<text x="261.5" y="208.7" text-anchor="middle" font-size="22.4">Untransduced T cells</text>
<text x="261" y="236.7" text-anchor="middle" font-size="22.4">m.uPAR-m.28z CAR T</text>
<line x1="206.8" y1="249" x2="206.8" y2="313" stroke="#000" stroke-width="1.7"/>
<path d="M197 311.5H216.5L206.8 325Z" fill="#000"/>
<text x="211.5" y="285" font-size="22.3">15 days</text>
<g id="rad">
<circle cx="207.5" cy="360" r="31" fill="#9a9578"/>
<circle cx="207.5" cy="360" r="28.5" fill="#e9dc7a"/>
<path d="M195 338.35A25 25 0 0 1 220 338.35L211.5 353.07A8 8 0 0 0 203.5 353.07Z" fill="#6f6f78"/>
<path d="M232.5 360A25 25 0 0 1 220 381.65L211.5 366.93A8 8 0 0 0 215.5 360Z" fill="#6f6f78"/>
<path d="M195 381.65A25 25 0 0 1 182.5 360L199.5 360A8 8 0 0 0 203.5 366.93Z" fill="#6f6f78"/>
<circle cx="207.5" cy="360" r="5" fill="#6f6f78"/>
</g>
<text x="204.5" y="349.8" text-anchor="middle" font-size="22.3">Abdominal</text>
<text x="207.5" y="376.6" text-anchor="middle" font-size="22.3">irradiation</text>
<line x1="207.5" y1="397" x2="207.5" y2="456" stroke="#000" stroke-width="1.7"/>
<path d="M198 454.5H217.5L207.7 468Z" fill="#000"/>
<text x="208" y="493.7" text-anchor="middle" font-size="22.3">6 days</text>
<path d="M628.7 210V246M624.2 210H633.2M624.2 246H633.2" stroke="#6cc5e9" stroke-width="1.7" fill="none"/>
<path d="M715.4 250.4V306.6M710.9 250.4H719.9M710.9 306.6H719.9" stroke="#6cc5e9" stroke-width="1.7" fill="none"/>
<path d="M802.3 254.7V287.9M797.8 254.7H806.8M797.8 287.9H806.8" stroke="#6cc5e9" stroke-width="1.7" fill="none"/>
<path d="M541.8 53.3L628.7 228.8L715.4 276.3L802.3 271.4" stroke="#6cc5e9" stroke-width="1.8" fill="none"/>
<circle cx="541.8" cy="53.3" r="3.7" fill="#6cc5e9"/>
<circle cx="628.7" cy="228.8" r="3.7" fill="#6cc5e9"/>
<circle cx="715.4" cy="276.3" r="3.7" fill="#6cc5e9"/>
<circle cx="802.3" cy="271.4" r="3.7" fill="#6cc5e9"/>
<path d="M628.7 158.3V200M624.2 158.3H633.2M624.2 200H633.2" stroke="#e57c7b" stroke-width="1.7" fill="none"/>
<path d="M715.4 166.4V237.5M710.9 166.4H719.9M710.9 237.5H719.9" stroke="#e57c7b" stroke-width="1.7" fill="none"/>
<path d="M802.3 138V176M797.8 138H806.8M797.8 176H806.8" stroke="#e57c7b" stroke-width="1.7" fill="none"/>
<path d="M541.8 53.3L628.7 179L715.4 200.6L802.3 157.5" stroke="#e57c7b" stroke-width="1.8" fill="none"/>
<circle cx="541.8" cy="53.3" r="3.7" fill="#e57c7b"/>
<circle cx="628.7" cy="179" r="3.7" fill="#e57c7b"/>
<circle cx="715.4" cy="200.6" r="3.7" fill="#e57c7b"/>
<circle cx="802.3" cy="157.5" r="3.7" fill="#e57c7b"/>
<path d="M628.7 114V155.4M624.2 114H633.2M624.2 155.4H633.2" stroke="#8f1727" stroke-width="1.7" fill="none"/>
<path d="M715.4 203V247.6M710.9 203H719.9M710.9 247.6H719.9" stroke="#8f1727" stroke-width="1.7" fill="none"/>
<path d="M802.3 215V247M797.8 215H806.8M797.8 247H806.8" stroke="#8f1727" stroke-width="1.7" fill="none"/>
<path d="M541.8 53.3L628.7 134.7L715.4 224.5L802.3 231" stroke="#8f1727" stroke-width="1.8" fill="none"/>
<circle cx="541.8" cy="53.3" r="3.7" fill="#8f1727"/>
<circle cx="628.7" cy="134.7" r="3.7" fill="#8f1727"/>
<circle cx="715.4" cy="224.5" r="3.7" fill="#8f1727"/>
<circle cx="802.3" cy="231" r="3.7" fill="#8f1727"/>
<path d="M628.7 151V184M624.2 151H633.2M624.2 184H633.2" stroke="#0b5b9d" stroke-width="1.7" fill="none"/>
<path d="M715.4 221V264M710.9 221H719.9M710.9 264H719.9" stroke="#0b5b9d" stroke-width="1.7" fill="none"/>
<path d="M802.3 290.7V321.8M797.8 290.7H806.8M797.8 321.8H806.8" stroke="#0b5b9d" stroke-width="1.7" fill="none"/>
<path d="M541.8 53.3L628.7 167.8L715.4 243.2L802.3 306.6" stroke="#0b5b9d" stroke-width="1.8" fill="none"/>
<circle cx="541.8" cy="53.3" r="3.7" fill="#0b5b9d"/>
<circle cx="628.7" cy="167.8" r="3.7" fill="#0b5b9d"/>
<circle cx="715.4" cy="243.2" r="3.7" fill="#0b5b9d"/>
<circle cx="802.3" cy="306.6" r="3.7" fill="#0b5b9d"/>
<path d="M498.6 53.3V376.5H845.7" stroke="#000" stroke-width="2" fill="none"/>
<line x1="488.6" y1="53.3" x2="498.6" y2="53.3" stroke="#000" stroke-width="2"/>
<text x="487.6" y="60.6" text-anchor="end" font-size="22.2">1.00</text>
<line x1="488.6" y1="134" x2="498.6" y2="134" stroke="#000" stroke-width="2"/>
<text x="487.6" y="141.3" text-anchor="end" font-size="22.2">0.95</text>
<line x1="488.6" y1="215" x2="498.6" y2="215" stroke="#000" stroke-width="2"/>
<text x="487.6" y="222.3" text-anchor="end" font-size="22.2">0.90</text>
<line x1="488.6" y1="296" x2="498.6" y2="296" stroke="#000" stroke-width="2"/>
<text x="487.6" y="303.3" text-anchor="end" font-size="22.2">0.85</text>
<line x1="488.6" y1="376.5" x2="498.6" y2="376.5" stroke="#000" stroke-width="2"/>
<text x="487.6" y="383.8" text-anchor="end" font-size="22.2">0.80</text>
<line x1="541.8" y1="376.5" x2="541.8" y2="388" stroke="#000" stroke-width="2"/>
<text x="541.8" y="404.5" text-anchor="middle" font-size="22.2">D.-1</text>
<line x1="628.7" y1="376.5" x2="628.7" y2="388" stroke="#000" stroke-width="2"/>
<text x="628.7" y="404.5" text-anchor="middle" font-size="22.2">D.2</text>
<line x1="715.4" y1="376.5" x2="715.4" y2="388" stroke="#000" stroke-width="2"/>
<text x="715.4" y="404.5" text-anchor="middle" font-size="22.2">D.4</text>
<line x1="802.3" y1="376.5" x2="802.3" y2="388" stroke="#000" stroke-width="2"/>
<text x="802.3" y="404.5" text-anchor="middle" font-size="22.2">D.6</text>
<text x="434.5" y="206.5" text-anchor="middle" transform="rotate(-90 434.5 206.5)" font-size="22.7">Fold change in Weight</text>
<line x1="810.3" y1="228" x2="810.3" y2="311" stroke="#000" stroke-width="1.7"/>
<text x="831" y="266.5" text-anchor="middle" transform="rotate(-90 831 266.5)">p=0.0037</text>
<line x1="834" y1="155.4" x2="834" y2="275.8" stroke="#000" stroke-width="1.7"/>
<text x="854.5" y="211.5" text-anchor="middle" transform="rotate(-90 854.5 211.5)">p=0.0003</text>
<line x1="554" y1="440" x2="580.6" y2="440" stroke="#6cc5e9" stroke-width="1.8"/>
<circle cx="567.4" cy="440" r="3.7" fill="#6cc5e9"/>
<text x="591.6" y="446.3" font-size="21.6">UT-Young</text>
<line x1="554" y1="465" x2="580.6" y2="465" stroke="#e57c7b" stroke-width="1.8"/>
<circle cx="567.4" cy="465" r="3.7" fill="#e57c7b"/>
<text x="593.1" y="470.8" font-size="21.6">m.uPAR-m.28z-Young</text>
<line x1="554" y1="487" x2="580.6" y2="487" stroke="#0b5b9d" stroke-width="1.8"/>
<circle cx="567.4" cy="487" r="3.7" fill="#0b5b9d"/>
<text x="591.6" y="493.8" font-size="21.6">UT-Old</text>
<line x1="554" y1="514" x2="580.6" y2="514" stroke="#8f1727" stroke-width="1.8"/>
<circle cx="567.4" cy="514" r="3.7" fill="#8f1727"/>
<text x="590.6" y="519.8" font-size="21.6">m.uPAR-m.28z-Old</text>
<path d="M1005.8 377.6V258.9H1036.8V377.6" stroke="#6cc5e9" stroke-width="2" fill="none"/>
<path d="M1021.3 239.5V273.8M1012.3 239.5H1030.3M1012.3 273.8H1030.3" stroke="#6cc5e9" stroke-width="2" fill="none"/>
<circle cx="1021.35" cy="161.35" r="4.7" fill="#6cc5e9"/>
<circle cx="1021.35" cy="197.44" r="4.7" fill="#6cc5e9"/>
<circle cx="1021.35" cy="239.49" r="4.7" fill="#6cc5e9"/>
<circle cx="1021.35" cy="249.93" r="4.7" fill="#6cc5e9"/>
<circle cx="1008.23" cy="270.5" r="4.7" fill="#6cc5e9"/>
<circle cx="1034.47" cy="273.49" r="4.7" fill="#6cc5e9"/>
<circle cx="1021.35" cy="293.77" r="4.7" fill="#6cc5e9"/>
<circle cx="1021.35" cy="303.01" r="4.7" fill="#6cc5e9"/>
<circle cx="1021.35" cy="324.49" r="4.7" fill="#6cc5e9"/>
<path d="M1057.7 377.6V268.4H1088.7V377.6" stroke="#e57c7b" stroke-width="2" fill="none"/>
<path d="M1073.2 251.4V281M1064.2 251.4H1082.2M1064.2 281H1082.2" stroke="#e57c7b" stroke-width="2" fill="none"/>
<circle cx="1073.54" cy="184.61" r="4.7" fill="#e57c7b"/>
<circle cx="1060.42" cy="240.98" r="4.7" fill="#e57c7b"/>
<circle cx="1086.66" cy="240.08" r="4.7" fill="#e57c7b"/>
<circle cx="1073.54" cy="251.42" r="4.7" fill="#e57c7b"/>
<circle cx="1060.42" cy="272" r="4.7" fill="#e57c7b"/>
<circle cx="1086.66" cy="276.47" r="4.7" fill="#e57c7b"/>
<circle cx="1060.42" cy="283.92" r="4.7" fill="#e57c7b"/>
<circle cx="1073.54" cy="311.06" r="4.7" fill="#e57c7b"/>
<circle cx="1073.54" cy="336.12" r="4.7" fill="#e57c7b"/>
<path d="M1110.2 377.6V214H1141.2V377.6" stroke="#0b5b9d" stroke-width="2" fill="none"/>
<path d="M1125.7 191.8V232.6M1116.7 191.8H1134.7M1116.7 232.6H1134.7" stroke="#0b5b9d" stroke-width="2" fill="none"/>
<circle cx="1125.73" cy="84.7" r="4.7" fill="#0b5b9d"/>
<circle cx="1125.73" cy="138.98" r="4.7" fill="#0b5b9d"/>
<circle cx="1125.73" cy="203.7" r="4.7" fill="#0b5b9d"/>
<circle cx="1138.85" cy="232.63" r="4.7" fill="#0b5b9d"/>
<circle cx="1112.91" cy="237.1" r="4.7" fill="#0b5b9d"/>
<circle cx="1112.91" cy="248.14" r="4.7" fill="#0b5b9d"/>
<circle cx="1138.85" cy="246.94" r="4.7" fill="#0b5b9d"/>
<circle cx="1112.91" cy="260.07" r="4.7" fill="#0b5b9d"/>
<circle cx="1138.85" cy="258.87" r="4.7" fill="#0b5b9d"/>
<path d="M1162.7 377.6V264H1193.7V377.6" stroke="#8f1727" stroke-width="2" fill="none"/>
<path d="M1178.2 240.7V284M1169.2 240.7H1187.2M1169.2 284H1187.2" stroke="#8f1727" stroke-width="2" fill="none"/>
<circle cx="1178.22" cy="104.98" r="4.7" fill="#8f1727"/>
<circle cx="1165.1" cy="255.89" r="4.7" fill="#8f1727"/>
<circle cx="1178.22" cy="262.45" r="4.7" fill="#8f1727"/>
<circle cx="1191.35" cy="267.82" r="4.7" fill="#8f1727"/>
<circle cx="1165.1" cy="270.5" r="4.7" fill="#8f1727"/>
<circle cx="1178.22" cy="272" r="4.7" fill="#8f1727"/>
<circle cx="1178.22" cy="284.82" r="4.7" fill="#8f1727"/>
<circle cx="1178.22" cy="298.24" r="4.7" fill="#8f1727"/>
<circle cx="1178.22" cy="343.57" r="4.7" fill="#8f1727"/>
<path d="M987.3 77V377.6M974.8 377.6H1214" stroke="#000" stroke-width="2" fill="none"/>
<line x1="974.8" y1="136.3" x2="987.3" y2="136.3" stroke="#000" stroke-width="2"/>
<text x="969.5" y="144" text-anchor="end" font-size="22.2">2</text>
<line x1="974.8" y1="256.5" x2="987.3" y2="256.5" stroke="#000" stroke-width="2"/>
<text x="969.5" y="264.2" text-anchor="end" font-size="22.2">1</text>
<line x1="974.8" y1="377.6" x2="987.3" y2="377.6" stroke="#000" stroke-width="2"/>
<text x="969.5" y="385.3" text-anchor="end" font-size="22.2">0</text>
<line x1="1021.3" y1="377.6" x2="1021.3" y2="389.6" stroke="#000" stroke-width="2"/>
<text x="1031.3" y="404.6" text-anchor="end" transform="rotate(-54 1031.3 404.6)">UT</text>
<line x1="1073.2" y1="377.6" x2="1073.2" y2="389.6" stroke="#000" stroke-width="2"/>
<text x="1083.2" y="404.6" text-anchor="end" transform="rotate(-54 1083.2 404.6)">m.uPAR-m.28z</text>
<line x1="1125.7" y1="377.6" x2="1125.7" y2="389.6" stroke="#000" stroke-width="2"/>
<text x="1135.7" y="404.6" text-anchor="end" transform="rotate(-54 1135.7 404.6)">UT</text>
<line x1="1178.2" y1="377.6" x2="1178.2" y2="389.6" stroke="#000" stroke-width="2"/>
<text x="1188.2" y="404.6" text-anchor="end" transform="rotate(-54 1188.2 404.6)">m.uPAR-m.28z</text>
<text x="938" y="237" text-anchor="middle" transform="rotate(-90 938 237)">Normalized FITC-Dextran (a.u)</text>
<text x="1056" y="37.3" text-anchor="middle" font-size="22.2">p=0.1148</text>
<line x1="1009" y1="45.6" x2="1112" y2="45.6" stroke="#000" stroke-width="2"/>
<text x="1150.8" y="67" text-anchor="middle" font-size="22.2">p=0.1109</text>
<line x1="1121.9" y1="72.5" x2="1181.5" y2="72.5" stroke="#000" stroke-width="2"/>
<line x1="976.3" y1="533.8" x2="1094.7" y2="533.8" stroke="#000" stroke-width="1.7"/>
<line x1="1104.6" y1="533.8" x2="1223.3" y2="533.8" stroke="#000" stroke-width="1.7"/>
<text x="1039.8" y="552.6" text-anchor="middle" font-size="22.3">Young</text>
<text x="1164" y="552.6" text-anchor="middle" font-size="22.3">Old</text>
<path d="M1347.5 47.6H1520.25V78.6H1572.08V140.6H1606.62V171.6H1623.9V202.6H1641.17V233.6H1658.45V264.6H1675.72V295.6" stroke="#e57c7b" stroke-width="2" fill="none"/>
<path d="M1347.5 47.6H1485.7V78.6H1520.25V140.6H1537.53V171.6H1554.8V202.6H1623.9V233.6H1641.17V264.6H1675.72V295.6" stroke="#6cc5e9" stroke-width="2" fill="none"/>
<path d="M1347.5 47.6V295.6H1693" stroke="#000" stroke-width="2" fill="none"/>
<line x1="1338.5" y1="295.6" x2="1347.5" y2="295.6" stroke="#000" stroke-width="1.6"/>
<line x1="1343.5" y1="283.2" x2="1347.5" y2="283.2" stroke="#000" stroke-width="1.6"/>
<line x1="1343.5" y1="270.8" x2="1347.5" y2="270.8" stroke="#000" stroke-width="1.6"/>
<line x1="1343.5" y1="258.4" x2="1347.5" y2="258.4" stroke="#000" stroke-width="1.6"/>
<line x1="1343.5" y1="246" x2="1347.5" y2="246" stroke="#000" stroke-width="1.6"/>
<line x1="1343.5" y1="233.6" x2="1347.5" y2="233.6" stroke="#000" stroke-width="1.6"/>
<line x1="1343.5" y1="221.2" x2="1347.5" y2="221.2" stroke="#000" stroke-width="1.6"/>
<line x1="1343.5" y1="208.8" x2="1347.5" y2="208.8" stroke="#000" stroke-width="1.6"/>
<line x1="1343.5" y1="196.4" x2="1347.5" y2="196.4" stroke="#000" stroke-width="1.6"/>
<line x1="1343.5" y1="184" x2="1347.5" y2="184" stroke="#000" stroke-width="1.6"/>
<line x1="1338.5" y1="171.6" x2="1347.5" y2="171.6" stroke="#000" stroke-width="1.6"/>
<line x1="1343.5" y1="159.2" x2="1347.5" y2="159.2" stroke="#000" stroke-width="1.6"/>
<line x1="1343.5" y1="146.8" x2="1347.5" y2="146.8" stroke="#000" stroke-width="1.6"/>
<line x1="1343.5" y1="134.4" x2="1347.5" y2="134.4" stroke="#000" stroke-width="1.6"/>
<line x1="1343.5" y1="122" x2="1347.5" y2="122" stroke="#000" stroke-width="1.6"/>
<line x1="1343.5" y1="109.6" x2="1347.5" y2="109.6" stroke="#000" stroke-width="1.6"/>
<line x1="1343.5" y1="97.2" x2="1347.5" y2="97.2" stroke="#000" stroke-width="1.6"/>
<line x1="1343.5" y1="84.8" x2="1347.5" y2="84.8" stroke="#000" stroke-width="1.6"/>
<line x1="1343.5" y1="72.4" x2="1347.5" y2="72.4" stroke="#000" stroke-width="1.6"/>
<line x1="1343.5" y1="60" x2="1347.5" y2="60" stroke="#000" stroke-width="1.6"/>
<line x1="1338.5" y1="47.6" x2="1347.5" y2="47.6" stroke="#000" stroke-width="1.6"/>
<line x1="1347.5" y1="295.6" x2="1347.5" y2="303.6" stroke="#000" stroke-width="1.8"/>
<line x1="1433.88" y1="295.6" x2="1433.88" y2="303.6" stroke="#000" stroke-width="1.8"/>
<line x1="1520.25" y1="295.6" x2="1520.25" y2="303.6" stroke="#000" stroke-width="1.8"/>
<line x1="1606.62" y1="295.6" x2="1606.62" y2="303.6" stroke="#000" stroke-width="1.8"/>
<line x1="1693" y1="295.6" x2="1693" y2="303.6" stroke="#000" stroke-width="1.8"/>
<text x="1343" y="54.9" text-anchor="end" font-size="22.2">100</text>
<text x="1343" y="178.5" text-anchor="end" font-size="22.2">50</text>
<text x="1343" y="302.9" text-anchor="end" font-size="22.2">0</text>
<text x="1347.5" y="322.6" text-anchor="middle" font-size="22.2">0</text>
<text x="1433.88" y="322.6" text-anchor="middle" font-size="22.2">5</text>
<text x="1520.25" y="322.6" text-anchor="middle" font-size="22.2">10</text>
<text x="1606.62" y="322.6" text-anchor="middle" font-size="22.2">15</text>
<text x="1695" y="322.6" text-anchor="middle" font-size="22.2">20</text>
<text x="1530" y="340.8" text-anchor="middle" font-size="22.2">Time (days)</text>
<text x="1300" y="180" text-anchor="middle" transform="rotate(-90 1300 180)">Probability of Survival</text>
<line x1="1347.5" y1="396.7" x2="1374.2" y2="396.7" stroke="#6cc5e9" stroke-width="2"/>
<line x1="1347.5" y1="426.2" x2="1374.2" y2="426.2" stroke="#e57c7b" stroke-width="2"/>
<text x="1383.5" y="401.5" font-size="22.7">UT-Young (11.5d)</text>
<text x="1383.5" y="431" font-size="22.7">m.28-m.uPAR-Young (15.5d)</text>
<line x1="1683.4" y1="398.5" x2="1683.4" y2="429.8" stroke="#000" stroke-width="2"/>
<text x="1708" y="419.5" text-anchor="middle" transform="rotate(-90 1708 419.5)" font-size="21.6">p=0.4314</text>
<path d="M1798.5 49.6H1954.29V80.51H1988.91V111.42H2006.22V142.34H2023.53V173.25H2040.84V204.16H2058.15V235.07H2092.77V296.9" stroke="#8f1727" stroke-width="2" fill="none"/>
<path d="M1798.5 49.6H1919.67V80.51H1936.98V111.42H1954.29V142.34H1971.6V204.16H2023.53V265.99H2075.46V296.9" stroke="#0b5b9d" stroke-width="2" fill="none"/>
<path d="M1798.5 49.6V296.9H2144.8" stroke="#000" stroke-width="2" fill="none"/>
<line x1="1789.5" y1="296.9" x2="1798.5" y2="296.9" stroke="#000" stroke-width="1.6"/>
<line x1="1794.5" y1="284.53" x2="1798.5" y2="284.53" stroke="#000" stroke-width="1.6"/>
<line x1="1794.5" y1="272.17" x2="1798.5" y2="272.17" stroke="#000" stroke-width="1.6"/>
<line x1="1794.5" y1="259.8" x2="1798.5" y2="259.8" stroke="#000" stroke-width="1.6"/>
<line x1="1794.5" y1="247.44" x2="1798.5" y2="247.44" stroke="#000" stroke-width="1.6"/>
<line x1="1794.5" y1="235.07" x2="1798.5" y2="235.07" stroke="#000" stroke-width="1.6"/>
<line x1="1794.5" y1="222.71" x2="1798.5" y2="222.71" stroke="#000" stroke-width="1.6"/>
<line x1="1794.5" y1="210.34" x2="1798.5" y2="210.34" stroke="#000" stroke-width="1.6"/>
<line x1="1794.5" y1="197.98" x2="1798.5" y2="197.98" stroke="#000" stroke-width="1.6"/>
<line x1="1794.5" y1="185.61" x2="1798.5" y2="185.61" stroke="#000" stroke-width="1.6"/>
<line x1="1789.5" y1="173.25" x2="1798.5" y2="173.25" stroke="#000" stroke-width="1.6"/>
<line x1="1794.5" y1="160.88" x2="1798.5" y2="160.88" stroke="#000" stroke-width="1.6"/>
<line x1="1794.5" y1="148.52" x2="1798.5" y2="148.52" stroke="#000" stroke-width="1.6"/>
<line x1="1794.5" y1="136.16" x2="1798.5" y2="136.16" stroke="#000" stroke-width="1.6"/>
<line x1="1794.5" y1="123.79" x2="1798.5" y2="123.79" stroke="#000" stroke-width="1.6"/>
<line x1="1794.5" y1="111.42" x2="1798.5" y2="111.42" stroke="#000" stroke-width="1.6"/>
<line x1="1794.5" y1="99.06" x2="1798.5" y2="99.06" stroke="#000" stroke-width="1.6"/>
<line x1="1794.5" y1="86.69" x2="1798.5" y2="86.69" stroke="#000" stroke-width="1.6"/>
<line x1="1794.5" y1="74.33" x2="1798.5" y2="74.33" stroke="#000" stroke-width="1.6"/>
<line x1="1794.5" y1="61.96" x2="1798.5" y2="61.96" stroke="#000" stroke-width="1.6"/>
<line x1="1789.5" y1="49.6" x2="1798.5" y2="49.6" stroke="#000" stroke-width="1.6"/>
<line x1="1798.5" y1="296.9" x2="1798.5" y2="304.9" stroke="#000" stroke-width="1.8"/>
<line x1="1885.05" y1="296.9" x2="1885.05" y2="304.9" stroke="#000" stroke-width="1.8"/>
<line x1="1971.6" y1="296.9" x2="1971.6" y2="304.9" stroke="#000" stroke-width="1.8"/>
<line x1="2058.15" y1="296.9" x2="2058.15" y2="304.9" stroke="#000" stroke-width="1.8"/>
<line x1="2144.7" y1="296.9" x2="2144.7" y2="304.9" stroke="#000" stroke-width="1.8"/>
<text x="1793.5" y="56.9" text-anchor="end" font-size="22.2">100</text>
<text x="1793.5" y="180.5" text-anchor="end" font-size="22.2">50</text>
<text x="1793.5" y="304.2" text-anchor="end" font-size="22.2">0</text>
<text x="1798.5" y="324" text-anchor="middle" font-size="22.2">0</text>
<text x="1885.05" y="324" text-anchor="middle" font-size="22.2">5</text>
<text x="1971.6" y="324" text-anchor="middle" font-size="22.2">10</text>
<text x="2058.15" y="324" text-anchor="middle" font-size="22.2">15</text>
<text x="2146.7" y="324" text-anchor="middle" font-size="22.2">20</text>
<text x="2003" y="339.5" text-anchor="middle" font-size="22.2">Time (days)</text>
<text x="1750" y="172" text-anchor="middle" transform="rotate(-90 1750 172)">Probability of Survival</text>
<line x1="1804.7" y1="396.7" x2="1829" y2="396.7" stroke="#0b5b9d" stroke-width="2"/>
<line x1="1804.7" y1="426.2" x2="1829" y2="426.2" stroke="#8f1727" stroke-width="2"/>
<text x="1838" y="401.5" font-size="22.7">UT-Old (10d)</text>
<text x="1836" y="431" font-size="22.7">m.28-m.uPAR-Old (13.5d)</text>
<line x1="2106.7" y1="392" x2="2106.7" y2="418.5" stroke="#000" stroke-width="2"/>
<text x="2129" y="413" text-anchor="middle" transform="rotate(-90 2129 413)" font-size="21.6">p=0.0998</text>
<path d="M1395.32 1010V972.35H1411.32V1010" stroke="#6cc5e9" stroke-width="1.9" fill="none"/>
<path d="M1403.32 964.13V980.08M1397.82 964.13H1408.82M1397.82 980.08H1408.82" stroke="#6cc5e9" stroke-width="1.9" fill="none"/>
<circle cx="1398.97" cy="967.03" r="5.2" fill="#6cc5e9"/>
<circle cx="1408.15" cy="959.3" r="5.2" fill="#6cc5e9"/>
<circle cx="1408.15" cy="976.21" r="5.2" fill="#6cc5e9"/>
<circle cx="1398.97" cy="983.94" r="5.2" fill="#6cc5e9"/>
<path d="M1425.76 1010V973.31H1441.76V1010" stroke="#e57c7b" stroke-width="1.9" fill="none"/>
<path d="M1433.76 968V978.14M1428.26 968H1439.26M1428.26 978.14H1439.26" stroke="#e57c7b" stroke-width="1.9" fill="none"/>
<circle cx="1428.93" cy="968" r="5.2" fill="#e57c7b"/>
<circle cx="1438.11" cy="974.76" r="5.2" fill="#e57c7b"/>
<circle cx="1428.93" cy="983.94" r="5.2" fill="#e57c7b"/>
<path d="M1455.71 1010V966.55H1471.71V1010" stroke="#0b5b9d" stroke-width="1.9" fill="none"/>
<path d="M1463.71 961.72V971.38M1458.21 961.72H1469.21M1458.21 971.38H1469.21" stroke="#0b5b9d" stroke-width="1.9" fill="none"/>
<circle cx="1458.88" cy="962.68" r="5.2" fill="#0b5b9d"/>
<circle cx="1463.71" cy="964.13" r="5.2" fill="#0b5b9d"/>
<circle cx="1468.06" cy="970.41" r="5.2" fill="#0b5b9d"/>
<circle cx="1458.88" cy="976.7" r="5.2" fill="#0b5b9d"/>
<path d="M1485.67 1010V968H1501.67V1010" stroke="#8f1727" stroke-width="1.9" fill="none"/>
<path d="M1493.67 963.17V972.83M1488.17 963.17H1499.17M1488.17 972.83H1499.17" stroke="#8f1727" stroke-width="1.9" fill="none"/>
<circle cx="1489.32" cy="960.75" r="5.2" fill="#8f1727"/>
<circle cx="1498.5" cy="961.72" r="5.2" fill="#8f1727"/>
<circle cx="1493.67" cy="979.11" r="5.2" fill="#8f1727"/>
<path d="M1535.92 1010V774.72H1551.92V1010" stroke="#6cc5e9" stroke-width="1.9" fill="none"/>
<path d="M1543.92 762.64V786.8M1538.42 762.64H1549.42M1538.42 786.8H1549.42" stroke="#6cc5e9" stroke-width="1.9" fill="none"/>
<circle cx="1539.09" cy="759.26" r="5.2" fill="#6cc5e9"/>
<circle cx="1548.27" cy="752.01" r="5.2" fill="#6cc5e9"/>
<circle cx="1543.92" cy="779.07" r="5.2" fill="#6cc5e9"/>
<circle cx="1543.92" cy="798.4" r="5.2" fill="#6cc5e9"/>
<path d="M1565.88 1010V752.5H1581.88V1010" stroke="#e57c7b" stroke-width="1.9" fill="none"/>
<path d="M1573.88 735.59V767.48M1568.38 735.59H1579.38M1568.38 767.48H1579.38" stroke="#e57c7b" stroke-width="1.9" fill="none"/>
<circle cx="1573.88" cy="727.37" r="5.2" fill="#e57c7b"/>
<circle cx="1573.88" cy="744.28" r="5.2" fill="#e57c7b"/>
<circle cx="1573.88" cy="778.11" r="5.2" fill="#e57c7b"/>
<path d="M1595.84 1010V873.29H1611.84V1010" stroke="#0b5b9d" stroke-width="1.9" fill="none"/>
<path d="M1603.84 866.05V880.54M1598.34 866.05H1609.34M1598.34 880.54H1609.34" stroke="#0b5b9d" stroke-width="1.9" fill="none"/>
<circle cx="1599.01" cy="860.73" r="5.2" fill="#0b5b9d"/>
<circle cx="1608.67" cy="863.15" r="5.2" fill="#0b5b9d"/>
<circle cx="1603.84" cy="888.27" r="5.2" fill="#0b5b9d"/>
<path d="M1626.28 1010V783.9H1642.28V1010" stroke="#8f1727" stroke-width="1.9" fill="none"/>
<path d="M1634.28 769.41V798.4M1628.78 769.41H1639.78M1628.78 798.4H1639.78" stroke="#8f1727" stroke-width="1.9" fill="none"/>
<circle cx="1634.28" cy="757.33" r="5.2" fill="#8f1727"/>
<circle cx="1639.11" cy="788.74" r="5.2" fill="#8f1727"/>
<circle cx="1629.45" cy="797.43" r="5.2" fill="#8f1727"/>
<path d="M1676.05 1010V720.12H1692.05V1010" stroke="#6cc5e9" stroke-width="1.9" fill="none"/>
<path d="M1684.05 706.59V724.96M1678.55 706.59H1689.55M1678.55 724.96H1689.55" stroke="#6cc5e9" stroke-width="1.9" fill="none"/>
<circle cx="1684.05" cy="695.48" r="5.2" fill="#6cc5e9"/>
<circle cx="1684.05" cy="709.49" r="5.2" fill="#6cc5e9"/>
<circle cx="1679.22" cy="721.09" r="5.2" fill="#6cc5e9"/>
<circle cx="1688.4" cy="721.09" r="5.2" fill="#6cc5e9"/>
<path d="M1706 1010V694.51H1722V1010" stroke="#e57c7b" stroke-width="1.9" fill="none"/>
<path d="M1714 680.5V702.73M1708.5 680.5H1719.5M1708.5 702.73H1719.5" stroke="#e57c7b" stroke-width="1.9" fill="none"/>
<circle cx="1709.17" cy="667.46" r="5.2" fill="#e57c7b"/>
<circle cx="1718.35" cy="677.6" r="5.2" fill="#e57c7b"/>
<circle cx="1709.17" cy="684.85" r="5.2" fill="#e57c7b"/>
<circle cx="1718.35" cy="691.13" r="5.2" fill="#e57c7b"/>
<circle cx="1714" cy="734.62" r="5.2" fill="#e57c7b"/>
<path d="M1735.96 1010V810H1751.96V1010" stroke="#0b5b9d" stroke-width="1.9" fill="none"/>
<path d="M1743.96 793.08V821.59M1738.46 793.08H1749.46M1738.46 821.59H1749.46" stroke="#0b5b9d" stroke-width="1.9" fill="none"/>
<circle cx="1739.13" cy="774.72" r="5.2" fill="#0b5b9d"/>
<circle cx="1748.31" cy="781.97" r="5.2" fill="#0b5b9d"/>
<circle cx="1743.96" cy="798.4" r="5.2" fill="#0b5b9d"/>
<circle cx="1743.96" cy="831.26" r="5.2" fill="#0b5b9d"/>
<circle cx="1743.96" cy="852.03" r="5.2" fill="#0b5b9d"/>
<path d="M1765.92 1010V750.08H1781.92V1010" stroke="#8f1727" stroke-width="1.9" fill="none"/>
<path d="M1773.92 740.9V757.33M1768.42 740.9H1779.42M1768.42 757.33H1779.42" stroke="#8f1727" stroke-width="1.9" fill="none"/>
<circle cx="1778.75" cy="734.14" r="5.2" fill="#8f1727"/>
<circle cx="1769.09" cy="741.38" r="5.2" fill="#8f1727"/>
<circle cx="1778.75" cy="751.53" r="5.2" fill="#8f1727"/>
<circle cx="1769.09" cy="757.81" r="5.2" fill="#8f1727"/>
<path d="M1384 639V1010M1369.5 1010H1793.2" stroke="#000" stroke-width="2" fill="none"/>
<line x1="1369.5" y1="639" x2="1384" y2="639" stroke="#000" stroke-width="2"/>
<text x="1360" y="646.6" text-anchor="end" font-size="22.2">10</text>
<line x1="1369.5" y1="713.4" x2="1384" y2="713.4" stroke="#000" stroke-width="2"/>
<text x="1360" y="721" text-anchor="end" font-size="22.2">8</text>
<line x1="1369.5" y1="787.8" x2="1384" y2="787.8" stroke="#000" stroke-width="2"/>
<text x="1360" y="795.4" text-anchor="end" font-size="22.2">6</text>
<line x1="1369.5" y1="861.7" x2="1384" y2="861.7" stroke="#000" stroke-width="2"/>
<text x="1360" y="869.3" text-anchor="end" font-size="22.2">4</text>
<line x1="1369.5" y1="936.1" x2="1384" y2="936.1" stroke="#000" stroke-width="2"/>
<text x="1360" y="943.7" text-anchor="end" font-size="22.2">2</text>
<line x1="1369.5" y1="1010" x2="1384" y2="1010" stroke="#000" stroke-width="2"/>
<text x="1360" y="1017.6" text-anchor="end" font-size="22.2">0</text>
<line x1="1448.3" y1="1010" x2="1448.3" y2="1023.5" stroke="#000" stroke-width="2"/>
<text x="1446.8" y="1051" text-anchor="middle" font-size="22.2">D2</text>
<line x1="1588.9" y1="1010" x2="1588.9" y2="1023.5" stroke="#000" stroke-width="2"/>
<text x="1587.4" y="1051" text-anchor="middle" font-size="22.2">D4</text>
<line x1="1729" y1="1010" x2="1729" y2="1023.5" stroke="#000" stroke-width="2"/>
<text x="1727.5" y="1051" text-anchor="middle" font-size="22.2">D6</text>
<text x="1329" y="1017.5" transform="rotate(-90 1329 1017.5)" font-size="26.5">Number EdU <tspan dy="-11" font-size="24">+</tspan><tspan dy="11">cells/crypt</tspan></text>
<text x="1435.7" y="899.9" text-anchor="middle" font-size="22.2">p=0.5633</text>
<line x1="1407.7" y1="907.6" x2="1468.5" y2="907.6" stroke="#000" stroke-width="2"/>
<text x="1458" y="938.5" text-anchor="middle" font-size="22.2">p=0.8611</text>
<line x1="1459.8" y1="947.2" x2="1489.8" y2="947.2" stroke="#000" stroke-width="2"/>
<text x="1566.6" y="690.2" text-anchor="middle" font-size="22.2">p=0.0010</text>
<line x1="1542" y1="697.4" x2="1603.4" y2="697.4" stroke="#000" stroke-width="2"/>
<text x="1604.3" y="721" text-anchor="middle" font-size="22.2">p=0.0041</text>
<line x1="1601.4" y1="724" x2="1630.4" y2="724" stroke="#000" stroke-width="2"/>
<text x="1707.7" y="646.2" text-anchor="middle" font-size="22.2">p=0.0009</text>
<line x1="1683.6" y1="655.4" x2="1744" y2="655.4" stroke="#000" stroke-width="2"/>
<text x="1774" y="716.7" text-anchor="middle" font-size="22.2">p=0.0094</text>
<line x1="1742.5" y1="721" x2="1772.5" y2="721" stroke="#000" stroke-width="2"/>
<circle cx="1888.9" cy="639.4" r="4.8" fill="#6cc5e9"/>
<text x="1909.2" y="646.7" font-size="22.2">UT-Young</text>
<circle cx="1888.9" cy="680.5" r="4.8" fill="#e57c7b"/>
<text x="1909.2" y="685.3" font-size="22.2">m.uPAR-m.28z-Young</text>
<circle cx="1888.9" cy="716.7" r="4.8" fill="#0b5b9d"/>
<text x="1909.2" y="723.5" font-size="22.2">UT-Old</text>
<circle cx="1888.9" cy="751.5" r="4.8" fill="#8f1727"/>
<text x="1909.2" y="758.8" font-size="22.2">m.uPAR-m.28z-Old</text>
<path d="M1396.28 1504.7V1358.27H1412.28V1504.7" stroke="#6cc5e9" stroke-width="1.9" fill="none"/>
<path d="M1404.28 1336.53V1383.4M1398.78 1336.53H1409.78M1398.78 1383.4H1409.78" stroke="#6cc5e9" stroke-width="1.9" fill="none"/>
<circle cx="1404.28" cy="1297.87" r="5.2" fill="#6cc5e9"/>
<circle cx="1404.28" cy="1365.52" r="5.2" fill="#6cc5e9"/>
<circle cx="1399.45" cy="1380.5" r="5.2" fill="#6cc5e9"/>
<circle cx="1409.11" cy="1380.5" r="5.2" fill="#6cc5e9"/>
<path d="M1426.72 1504.7V1356.82H1442.72V1504.7" stroke="#e57c7b" stroke-width="1.9" fill="none"/>
<path d="M1434.72 1342.81V1369.87M1429.22 1342.81H1440.22M1429.22 1369.87H1440.22" stroke="#e57c7b" stroke-width="1.9" fill="none"/>
<circle cx="1434.72" cy="1318.65" r="5.2" fill="#e57c7b"/>
<circle cx="1434.72" cy="1341.36" r="5.2" fill="#e57c7b"/>
<circle cx="1429.89" cy="1379.53" r="5.2" fill="#e57c7b"/>
<circle cx="1439.56" cy="1379.53" r="5.2" fill="#e57c7b"/>
<path d="M1457.16 1504.7V1210.9H1473.16V1504.7" stroke="#0b5b9d" stroke-width="1.9" fill="none"/>
<path d="M1465.16 1197.37V1223.95M1459.66 1197.37H1470.66M1459.66 1223.95H1470.66" stroke="#0b5b9d" stroke-width="1.9" fill="none"/>
<circle cx="1465.16" cy="1177.08" r="5.2" fill="#0b5b9d"/>
<circle cx="1460.33" cy="1209.45" r="5.2" fill="#0b5b9d"/>
<circle cx="1470" cy="1213.32" r="5.2" fill="#0b5b9d"/>
<circle cx="1465.16" cy="1244.24" r="5.2" fill="#0b5b9d"/>
<path d="M1487.6 1504.7V1291.59H1503.6V1504.7" stroke="#8f1727" stroke-width="1.9" fill="none"/>
<path d="M1495.6 1276.13V1301.26M1490.1 1276.13H1501.1M1490.1 1301.26H1501.1" stroke="#8f1727" stroke-width="1.9" fill="none"/>
<circle cx="1499.95" cy="1269.37" r="5.2" fill="#8f1727"/>
<circle cx="1490.77" cy="1275.65" r="5.2" fill="#8f1727"/>
<circle cx="1495.6" cy="1289.18" r="5.2" fill="#8f1727"/>
<circle cx="1495.6" cy="1321.55" r="5.2" fill="#8f1727"/>
<path d="M1537.86 1504.7V1411.42H1553.86V1504.7" stroke="#6cc5e9" stroke-width="1.9" fill="none"/>
<path d="M1545.86 1394.03V1423.02M1540.36 1394.03H1551.36M1540.36 1423.02H1551.36" stroke="#6cc5e9" stroke-width="1.9" fill="none"/>
<circle cx="1545.86" cy="1381.95" r="5.2" fill="#6cc5e9"/>
<circle cx="1545.86" cy="1394.03" r="5.2" fill="#6cc5e9"/>
<circle cx="1545.86" cy="1418.67" r="5.2" fill="#6cc5e9"/>
<circle cx="1545.86" cy="1444.28" r="5.2" fill="#6cc5e9"/>
<path d="M1568.3 1504.7V1435.58H1584.3V1504.7" stroke="#e57c7b" stroke-width="1.9" fill="none"/>
<path d="M1576.3 1412.39V1454.91M1570.8 1412.39H1581.8M1570.8 1454.91H1581.8" stroke="#e57c7b" stroke-width="1.9" fill="none"/>
<circle cx="1576.3" cy="1398.38" r="5.2" fill="#e57c7b"/>
<circle cx="1576.3" cy="1432.68" r="5.2" fill="#e57c7b"/>
<circle cx="1576.3" cy="1470.37" r="5.2" fill="#e57c7b"/>
<path d="M1598.74 1504.7V1295.46H1614.74V1504.7" stroke="#0b5b9d" stroke-width="1.9" fill="none"/>
<path d="M1606.74 1279.51V1308.99M1601.24 1279.51H1612.24M1601.24 1308.99H1612.24" stroke="#0b5b9d" stroke-width="1.9" fill="none"/>
<circle cx="1606.74" cy="1258.74" r="5.2" fill="#0b5b9d"/>
<circle cx="1606.74" cy="1278.55" r="5.2" fill="#0b5b9d"/>
<circle cx="1606.74" cy="1298.36" r="5.2" fill="#0b5b9d"/>
<circle cx="1606.74" cy="1336.05" r="5.2" fill="#0b5b9d"/>
<path d="M1629.18 1504.7V1394.51H1645.18V1504.7" stroke="#8f1727" stroke-width="1.9" fill="none"/>
<path d="M1637.18 1389.68V1398.86M1631.68 1389.68H1642.68M1631.68 1398.86H1642.68" stroke="#8f1727" stroke-width="1.9" fill="none"/>
<circle cx="1632.83" cy="1389.2" r="5.2" fill="#8f1727"/>
<circle cx="1642.01" cy="1393.54" r="5.2" fill="#8f1727"/>
<circle cx="1632.83" cy="1401.28" r="5.2" fill="#8f1727"/>
<path d="M1679.91 1504.7V1451.04H1695.91V1504.7" stroke="#6cc5e9" stroke-width="1.9" fill="none"/>
<path d="M1687.91 1441.38V1459.74M1682.41 1441.38H1693.41M1682.41 1459.74H1693.41" stroke="#6cc5e9" stroke-width="1.9" fill="none"/>
<circle cx="1687.91" cy="1428.33" r="5.2" fill="#6cc5e9"/>
<circle cx="1683.08" cy="1448.14" r="5.2" fill="#6cc5e9"/>
<circle cx="1692.26" cy="1451.53" r="5.2" fill="#6cc5e9"/>
<circle cx="1687.91" cy="1471.34" r="5.2" fill="#6cc5e9"/>
<path d="M1709.87 1504.7V1460.71H1725.87V1504.7" stroke="#e57c7b" stroke-width="1.9" fill="none"/>
<path d="M1717.87 1453.46V1467.96M1712.37 1453.46H1723.37M1712.37 1467.96H1723.37" stroke="#e57c7b" stroke-width="1.9" fill="none"/>
<circle cx="1713.04" cy="1443.8" r="5.2" fill="#e57c7b"/>
<circle cx="1722.22" cy="1448.63" r="5.2" fill="#e57c7b"/>
<circle cx="1717.87" cy="1464.57" r="5.2" fill="#e57c7b"/>
<circle cx="1717.87" cy="1482.45" r="5.2" fill="#e57c7b"/>
<path d="M1740.31 1504.7V1372.77H1756.31V1504.7" stroke="#0b5b9d" stroke-width="1.9" fill="none"/>
<path d="M1748.31 1365.52V1379.53M1742.81 1365.52H1753.81M1742.81 1379.53H1753.81" stroke="#0b5b9d" stroke-width="1.9" fill="none"/>
<circle cx="1743.48" cy="1354.89" r="5.2" fill="#0b5b9d"/>
<circle cx="1753.14" cy="1365.04" r="5.2" fill="#0b5b9d"/>
<circle cx="1748.31" cy="1372.77" r="5.2" fill="#0b5b9d"/>
<circle cx="1753.14" cy="1377.6" r="5.2" fill="#0b5b9d"/>
<circle cx="1743.48" cy="1381.95" r="5.2" fill="#0b5b9d"/>
<path d="M1770.75 1504.7V1449.59H1786.75V1504.7" stroke="#8f1727" stroke-width="1.9" fill="none"/>
<path d="M1778.75 1435.58V1463.12M1773.25 1435.58H1784.25M1773.25 1463.12H1784.25" stroke="#8f1727" stroke-width="1.9" fill="none"/>
<circle cx="1773.92" cy="1427.85" r="5.2" fill="#8f1727"/>
<circle cx="1783.58" cy="1427.85" r="5.2" fill="#8f1727"/>
<circle cx="1778.75" cy="1459.74" r="5.2" fill="#8f1727"/>
<circle cx="1778.75" cy="1473.75" r="5.2" fill="#8f1727"/>
<path d="M1384 1131.2V1504.7M1369.5 1504.7H1798" stroke="#000" stroke-width="2" fill="none"/>
<line x1="1369.5" y1="1131.2" x2="1384" y2="1131.2" stroke="#000" stroke-width="2"/>
<text x="1360" y="1138.8" text-anchor="end" font-size="22.2">2.0</text>
<line x1="1369.5" y1="1224.4" x2="1384" y2="1224.4" stroke="#000" stroke-width="2"/>
<text x="1360" y="1232" text-anchor="end" font-size="22.2">1.5</text>
<line x1="1369.5" y1="1318.2" x2="1384" y2="1318.2" stroke="#000" stroke-width="2"/>
<text x="1360" y="1325.8" text-anchor="end" font-size="22.2">1.0</text>
<line x1="1369.5" y1="1411.4" x2="1384" y2="1411.4" stroke="#000" stroke-width="2"/>
<text x="1360" y="1419" text-anchor="end" font-size="22.2">0.5</text>
<line x1="1369.5" y1="1504.7" x2="1384" y2="1504.7" stroke="#000" stroke-width="2"/>
<text x="1360" y="1512.3" text-anchor="end" font-size="22.2">0.0</text>
<line x1="1449.7" y1="1504.7" x2="1449.7" y2="1518.2" stroke="#000" stroke-width="2"/>
<text x="1448.2" y="1552.5" text-anchor="middle" font-size="22.2">D2</text>
<line x1="1591.3" y1="1504.7" x2="1591.3" y2="1518.2" stroke="#000" stroke-width="2"/>
<text x="1589.8" y="1552.5" text-anchor="middle" font-size="22.2">D4</text>
<line x1="1732.9" y1="1504.7" x2="1732.9" y2="1518.2" stroke="#000" stroke-width="2"/>
<text x="1731.4" y="1552.5" text-anchor="middle" font-size="22.2">D6</text>
<text x="1318" y="1318" text-anchor="middle" transform="rotate(-90 1318 1318)" font-size="25.7">% Cleaved Caspase 3 area / field</text>
<text x="1424" y="1117.6" text-anchor="middle" font-size="22.2">p=0.0009</text>
<line x1="1407.7" y1="1124.9" x2="1457.4" y2="1124.9" stroke="#000" stroke-width="2"/>
<text x="1467.6" y="1156.3" text-anchor="middle" font-size="22.2">p=0.0050</text>
<line x1="1467.1" y1="1161.6" x2="1496.6" y2="1161.6" stroke="#000" stroke-width="2"/>
<text x="1560.8" y="1204.6" text-anchor="middle" font-size="22.2">p=0.0016</text>
<line x1="1557.5" y1="1210.9" x2="1608.2" y2="1210.9" stroke="#000" stroke-width="2"/>
<text x="1606.7" y="1239.9" text-anchor="middle" font-size="22.2">p=0.0037</text>
<line x1="1607.2" y1="1244.2" x2="1636.2" y2="1244.2" stroke="#000" stroke-width="2"/>
<text x="1730.5" y="1295" text-anchor="middle" font-size="22.2">p=9.3766x10<tspan dy="-9" font-size="13">-4</tspan></text>
<line x1="1699" y1="1302.2" x2="1749.8" y2="1302.2" stroke="#000" stroke-width="2"/>
<text x="1748.5" y="1331.2" text-anchor="middle" font-size="22.2">p=0.0003</text>
<line x1="1749.8" y1="1336" x2="1779.7" y2="1336" stroke="#000" stroke-width="2"/>
<circle cx="1891.3" cy="1110.4" r="4.8" fill="#6cc5e9"/>
<text x="1911.6" y="1117.6" font-size="22.2">UT-Young</text>
<circle cx="1891.3" cy="1151.5" r="4.8" fill="#e57c7b"/>
<text x="1911.6" y="1157.3" font-size="22.2">m.uPAR-m.28z-Young</text>
<circle cx="1891.3" cy="1188.2" r="4.8" fill="#0b5b9d"/>
<text x="1911.6" y="1195" font-size="22.2">UT-Old</text>
<circle cx="1891.3" cy="1223" r="4.8" fill="#8f1727"/>
<text x="1911.6" y="1229.7" font-size="22.2">m.uPAR-m.28z-Old</text>
<path d="M1408.89 1938.3V1860.54H1439.29V1938.3" stroke="#6cc5e9" stroke-width="2" fill="none"/>
<path d="M1424.09 1842.66V1875.04M1415.09 1842.66H1433.09M1415.09 1875.04H1433.09" stroke="#6cc5e9" stroke-width="2" fill="none"/>
<circle cx="1424.09" cy="1830.58" r="4.6" fill="#6cc5e9"/>
<circle cx="1424.09" cy="1859.57" r="4.6" fill="#6cc5e9"/>
<circle cx="1424.09" cy="1888.08" r="4.6" fill="#6cc5e9"/>
<path d="M1458.66 1938.3V1913.69H1489.06V1938.3" stroke="#e57c7b" stroke-width="2" fill="none"/>
<path d="M1473.86 1908.86V1917.56M1464.86 1908.86H1482.86M1464.86 1917.56H1482.86" stroke="#e57c7b" stroke-width="2" fill="none"/>
<circle cx="1461.3" cy="1906.93" r="4.6" fill="#e57c7b"/>
<circle cx="1473.86" cy="1908.86" r="4.6" fill="#e57c7b"/>
<circle cx="1485.46" cy="1913.21" r="4.6" fill="#e57c7b"/>
<circle cx="1461.3" cy="1919.01" r="4.6" fill="#e57c7b"/>
<path d="M1508.91 1938.3V1717.04H1539.31V1938.3" stroke="#0b5b9d" stroke-width="2" fill="none"/>
<path d="M1524.11 1696.74V1734.43M1515.11 1696.74H1533.11M1515.11 1734.43H1533.11" stroke="#0b5b9d" stroke-width="2" fill="none"/>
<circle cx="1524.11" cy="1667.75" r="4.6" fill="#0b5b9d"/>
<circle cx="1524.11" cy="1704.47" r="4.6" fill="#0b5b9d"/>
<circle cx="1524.11" cy="1737.33" r="4.6" fill="#0b5b9d"/>
<circle cx="1524.11" cy="1753.76" r="4.6" fill="#0b5b9d"/>
<path d="M1558.2 1938.3V1854.74H1588.6V1938.3" stroke="#8f1727" stroke-width="2" fill="none"/>
<path d="M1573.4 1837.83V1869.24M1564.4 1837.83H1582.4M1564.4 1869.24H1582.4" stroke="#8f1727" stroke-width="2" fill="none"/>
<circle cx="1573.4" cy="1822.37" r="4.6" fill="#8f1727"/>
<circle cx="1561.32" cy="1869.24" r="4.6" fill="#8f1727"/>
<circle cx="1585.48" cy="1868.27" r="4.6" fill="#8f1727"/>
<path d="M1391.7 1666.3V1938.3M1380 1938.3H1607.2" stroke="#000" stroke-width="2" fill="none"/>
<line x1="1379.7" y1="1666.3" x2="1391.7" y2="1666.3" stroke="#000" stroke-width="2"/>
<text x="1374" y="1673.9" text-anchor="end" font-size="22.2">4</text>
<line x1="1379.7" y1="1734.4" x2="1391.7" y2="1734.4" stroke="#000" stroke-width="2"/>
<text x="1374" y="1742" text-anchor="end" font-size="22.2">3</text>
<line x1="1379.7" y1="1802.6" x2="1391.7" y2="1802.6" stroke="#000" stroke-width="2"/>
<text x="1374" y="1810.2" text-anchor="end" font-size="22.2">2</text>
<line x1="1379.7" y1="1870.7" x2="1391.7" y2="1870.7" stroke="#000" stroke-width="2"/>
<text x="1374" y="1878.3" text-anchor="end" font-size="22.2">1</text>
<line x1="1379.7" y1="1938.3" x2="1391.7" y2="1938.3" stroke="#000" stroke-width="2"/>
<text x="1374" y="1945.9" text-anchor="end" font-size="22.2">0</text>
<line x1="1424.09" y1="1938.3" x2="1424.09" y2="1950.3" stroke="#000" stroke-width="2"/>
<text x="1437.09" y="1964.3" text-anchor="end" transform="rotate(-54 1437.09 1964.3)">UT</text>
<line x1="1473.86" y1="1938.3" x2="1473.86" y2="1950.3" stroke="#000" stroke-width="2"/>
<text x="1486.86" y="1964.3" text-anchor="end" transform="rotate(-54 1486.86 1964.3)">m.uPAR-m.28z</text>
<line x1="1524.11" y1="1938.3" x2="1524.11" y2="1950.3" stroke="#000" stroke-width="2"/>
<text x="1537.11" y="1964.3" text-anchor="end" transform="rotate(-54 1537.11 1964.3)">UT</text>
<line x1="1573.4" y1="1938.3" x2="1573.4" y2="1950.3" stroke="#000" stroke-width="2"/>
<text x="1586.4" y="1964.3" text-anchor="end" transform="rotate(-54 1586.4 1964.3)">m.uPAR-m.28z</text>
<text x="1346.5" y="1799" text-anchor="middle" transform="rotate(-90 1346.5 1799)" font-size="24.5">%SA-<tspan font-size="28">β</tspan>-Gal+ area / field</text>
<text x="1461" y="1650.4" text-anchor="middle" font-size="22.2">p=0.0029</text>
<line x1="1406.7" y1="1658.6" x2="1513" y2="1658.6" stroke="#000" stroke-width="2"/>
<text x="1563.2" y="1650.4" text-anchor="middle" font-size="22.2">p=0.0032</text>
<line x1="1534.7" y1="1658.6" x2="1587.9" y2="1658.6" stroke="#000" stroke-width="2"/>
<line x1="1393.7" y1="2096.3" x2="1489.8" y2="2096.3" stroke="#000" stroke-width="1.8"/>
<line x1="1498.5" y1="2096.3" x2="1595.1" y2="2096.3" stroke="#000" stroke-width="1.8"/>
<text x="1442.5" y="2120.5" text-anchor="middle" font-size="22.3">Young</text>
<text x="1547.8" y="2120.5" text-anchor="middle" font-size="22.3">Old</text>
<path d="M1807.5 1938.3V1879.39H1838.9V1938.3" stroke="#6cc5e9" stroke-width="2" fill="none"/>
<path d="M1823.2 1865.86V1890.02M1814.2 1865.86H1832.2M1814.2 1890.02H1832.2" stroke="#6cc5e9" stroke-width="2" fill="none"/>
<circle cx="1823.2" cy="1845.56" r="4.2" fill="#6cc5e9"/>
<circle cx="1823.2" cy="1876" r="4.2" fill="#6cc5e9"/>
<circle cx="1823.2" cy="1887.6" r="4.2" fill="#6cc5e9"/>
<circle cx="1823.2" cy="1902.58" r="4.2" fill="#6cc5e9"/>
<path d="M1859.69 1938.3V1918.52H1891.09V1938.3" stroke="#e57c7b" stroke-width="2" fill="none"/>
<path d="M1875.39 1912.73V1923.36M1866.39 1912.73H1884.39M1866.39 1923.36H1884.39" stroke="#e57c7b" stroke-width="2" fill="none"/>
<circle cx="1868.14" cy="1906.44" r="4.2" fill="#e57c7b"/>
<circle cx="1881.67" cy="1910.31" r="4.2" fill="#e57c7b"/>
<circle cx="1868.14" cy="1917.56" r="4.2" fill="#e57c7b"/>
<circle cx="1881.67" cy="1919.97" r="4.2" fill="#e57c7b"/>
<circle cx="1868.14" cy="1927.22" r="4.2" fill="#e57c7b"/>
<path d="M1911.87 1938.3V1743.13H1943.27V1938.3" stroke="#0b5b9d" stroke-width="2" fill="none"/>
<path d="M1927.57 1717.04V1765.35M1918.57 1717.04H1936.57M1918.57 1765.35H1936.57" stroke="#0b5b9d" stroke-width="2" fill="none"/>
<circle cx="1927.57" cy="1675" r="4.2" fill="#0b5b9d"/>
<circle cx="1927.57" cy="1706.41" r="4.2" fill="#0b5b9d"/>
<circle cx="1927.57" cy="1733.95" r="4.2" fill="#0b5b9d"/>
<circle cx="1927.57" cy="1790" r="4.2" fill="#0b5b9d"/>
<circle cx="1927.57" cy="1800.14" r="4.2" fill="#0b5b9d"/>
<path d="M1964.06 1938.3V1894.85H1995.46V1938.3" stroke="#8f1727" stroke-width="2" fill="none"/>
<path d="M1979.76 1890.98V1897.26M1970.76 1890.98H1988.76M1970.76 1897.26H1988.76" stroke="#8f1727" stroke-width="2" fill="none"/>
<circle cx="1966.23" cy="1890.02" r="4.2" fill="#8f1727"/>
<circle cx="1979.76" cy="1891.95" r="4.2" fill="#8f1727"/>
<circle cx="1993.29" cy="1894.36" r="4.2" fill="#8f1727"/>
<circle cx="1966.23" cy="1902.1" r="4.2" fill="#8f1727"/>
<path d="M1788.4 1662.4V1938.3M1777.3 1938.3H2015" stroke="#000" stroke-width="2" fill="none"/>
<line x1="1776.4" y1="1701.1" x2="1788.4" y2="1701.1" stroke="#000" stroke-width="2"/>
<text x="1774" y="1708.7" text-anchor="end" font-size="22.2">3</text>
<line x1="1776.4" y1="1780.8" x2="1788.4" y2="1780.8" stroke="#000" stroke-width="2"/>
<text x="1774" y="1788.4" text-anchor="end" font-size="22.2">2</text>
<line x1="1776.4" y1="1859.6" x2="1788.4" y2="1859.6" stroke="#000" stroke-width="2"/>
<text x="1774" y="1867.2" text-anchor="end" font-size="22.2">1</text>
<line x1="1776.4" y1="1938.3" x2="1788.4" y2="1938.3" stroke="#000" stroke-width="2"/>
<text x="1774" y="1945.9" text-anchor="end" font-size="22.2">0</text>
<line x1="1823.2" y1="1938.3" x2="1823.2" y2="1950.3" stroke="#000" stroke-width="2"/>
<text x="1836.2" y="1964.3" text-anchor="end" transform="rotate(-54 1836.2 1964.3)">UT</text>
<line x1="1875.39" y1="1938.3" x2="1875.39" y2="1950.3" stroke="#000" stroke-width="2"/>
<text x="1888.39" y="1964.3" text-anchor="end" transform="rotate(-54 1888.39 1964.3)">m.uPAR-m.28z</text>
<line x1="1927.57" y1="1938.3" x2="1927.57" y2="1950.3" stroke="#000" stroke-width="2"/>
<text x="1940.57" y="1964.3" text-anchor="end" transform="rotate(-54 1940.57 1964.3)">UT</text>
<line x1="1979.76" y1="1938.3" x2="1979.76" y2="1950.3" stroke="#000" stroke-width="2"/>
<text x="1992.76" y="1964.3" text-anchor="end" transform="rotate(-54 1992.76 1964.3)">m.uPAR-m.28z</text>
<text x="1744" y="1811" text-anchor="middle" transform="rotate(-90 1744 1811)" font-size="24.5">%uPAR<tspan dy="-9" font-size="13">+</tspan><tspan dy="9"> area/field</tspan></text>
<text x="1869.3" y="1627.6" text-anchor="middle" font-size="22.2">p=0.0022</text>
<line x1="1817.4" y1="1636.3" x2="1918.9" y2="1636.3" stroke="#000" stroke-width="2"/>
<text x="1948" y="1661.5" text-anchor="middle" font-size="22.2">p=0.0008</text>
<line x1="1923.7" y1="1666.8" x2="1979.3" y2="1666.8" stroke="#000" stroke-width="2"/>
<line x1="1800.5" y1="2096.3" x2="1896.2" y2="2096.3" stroke="#000" stroke-width="1.8"/>
<line x1="1905.3" y1="2096.3" x2="2001" y2="2096.3" stroke="#000" stroke-width="1.8"/>
<text x="1848.8" y="2120.5" text-anchor="middle" font-size="22.3">Young</text>
<text x="1953.7" y="2120.5" text-anchor="middle" font-size="22.3">Old</text>
<text transform="translate(-0.7 33.1) scale(0.9 1)" font-size="46.9" font-weight="bold" fill="#1c1a1b">a</text>
<text transform="translate(414.8 33.2) scale(1.08 1)" font-size="43.9" font-weight="bold" fill="#1c1a1b">b</text>
<text transform="translate(881.2 31) scale(1.02 1)" font-size="44.6" font-weight="bold" fill="#1c1a1b">c</text>
<text transform="translate(1256.6 35.5) scale(1.05 1)" font-size="45.9" font-weight="bold" fill="#1c1a1b">d</text>
<text transform="translate(1692.5 37.9) scale(1.04 1)" font-size="46.4" font-weight="bold" fill="#1c1a1b">e</text>
<text transform="translate(0.9 572) scale(1.03 1)" font-size="45.5" font-weight="bold" fill="#1c1a1b">f</text>
<text transform="translate(1267.2 630.1) scale(0.95 1)" font-size="48.3" font-weight="bold" fill="#1c1a1b">g</text>
<text transform="translate(1267 1093.5) scale(1.08 1)" font-size="43.4" font-weight="bold" fill="#1c1a1b">h</text>
<text transform="translate(1267.4 1634.9) scale(1.12 1)" font-size="53.2" font-weight="bold" fill="#1c1a1b">i</text>
<text transform="translate(1685.6 1635.1) scale(1.15 1)" font-size="53.5" font-weight="bold" fill="#1c1a1b">j</text>
</svg>
</body></html>
